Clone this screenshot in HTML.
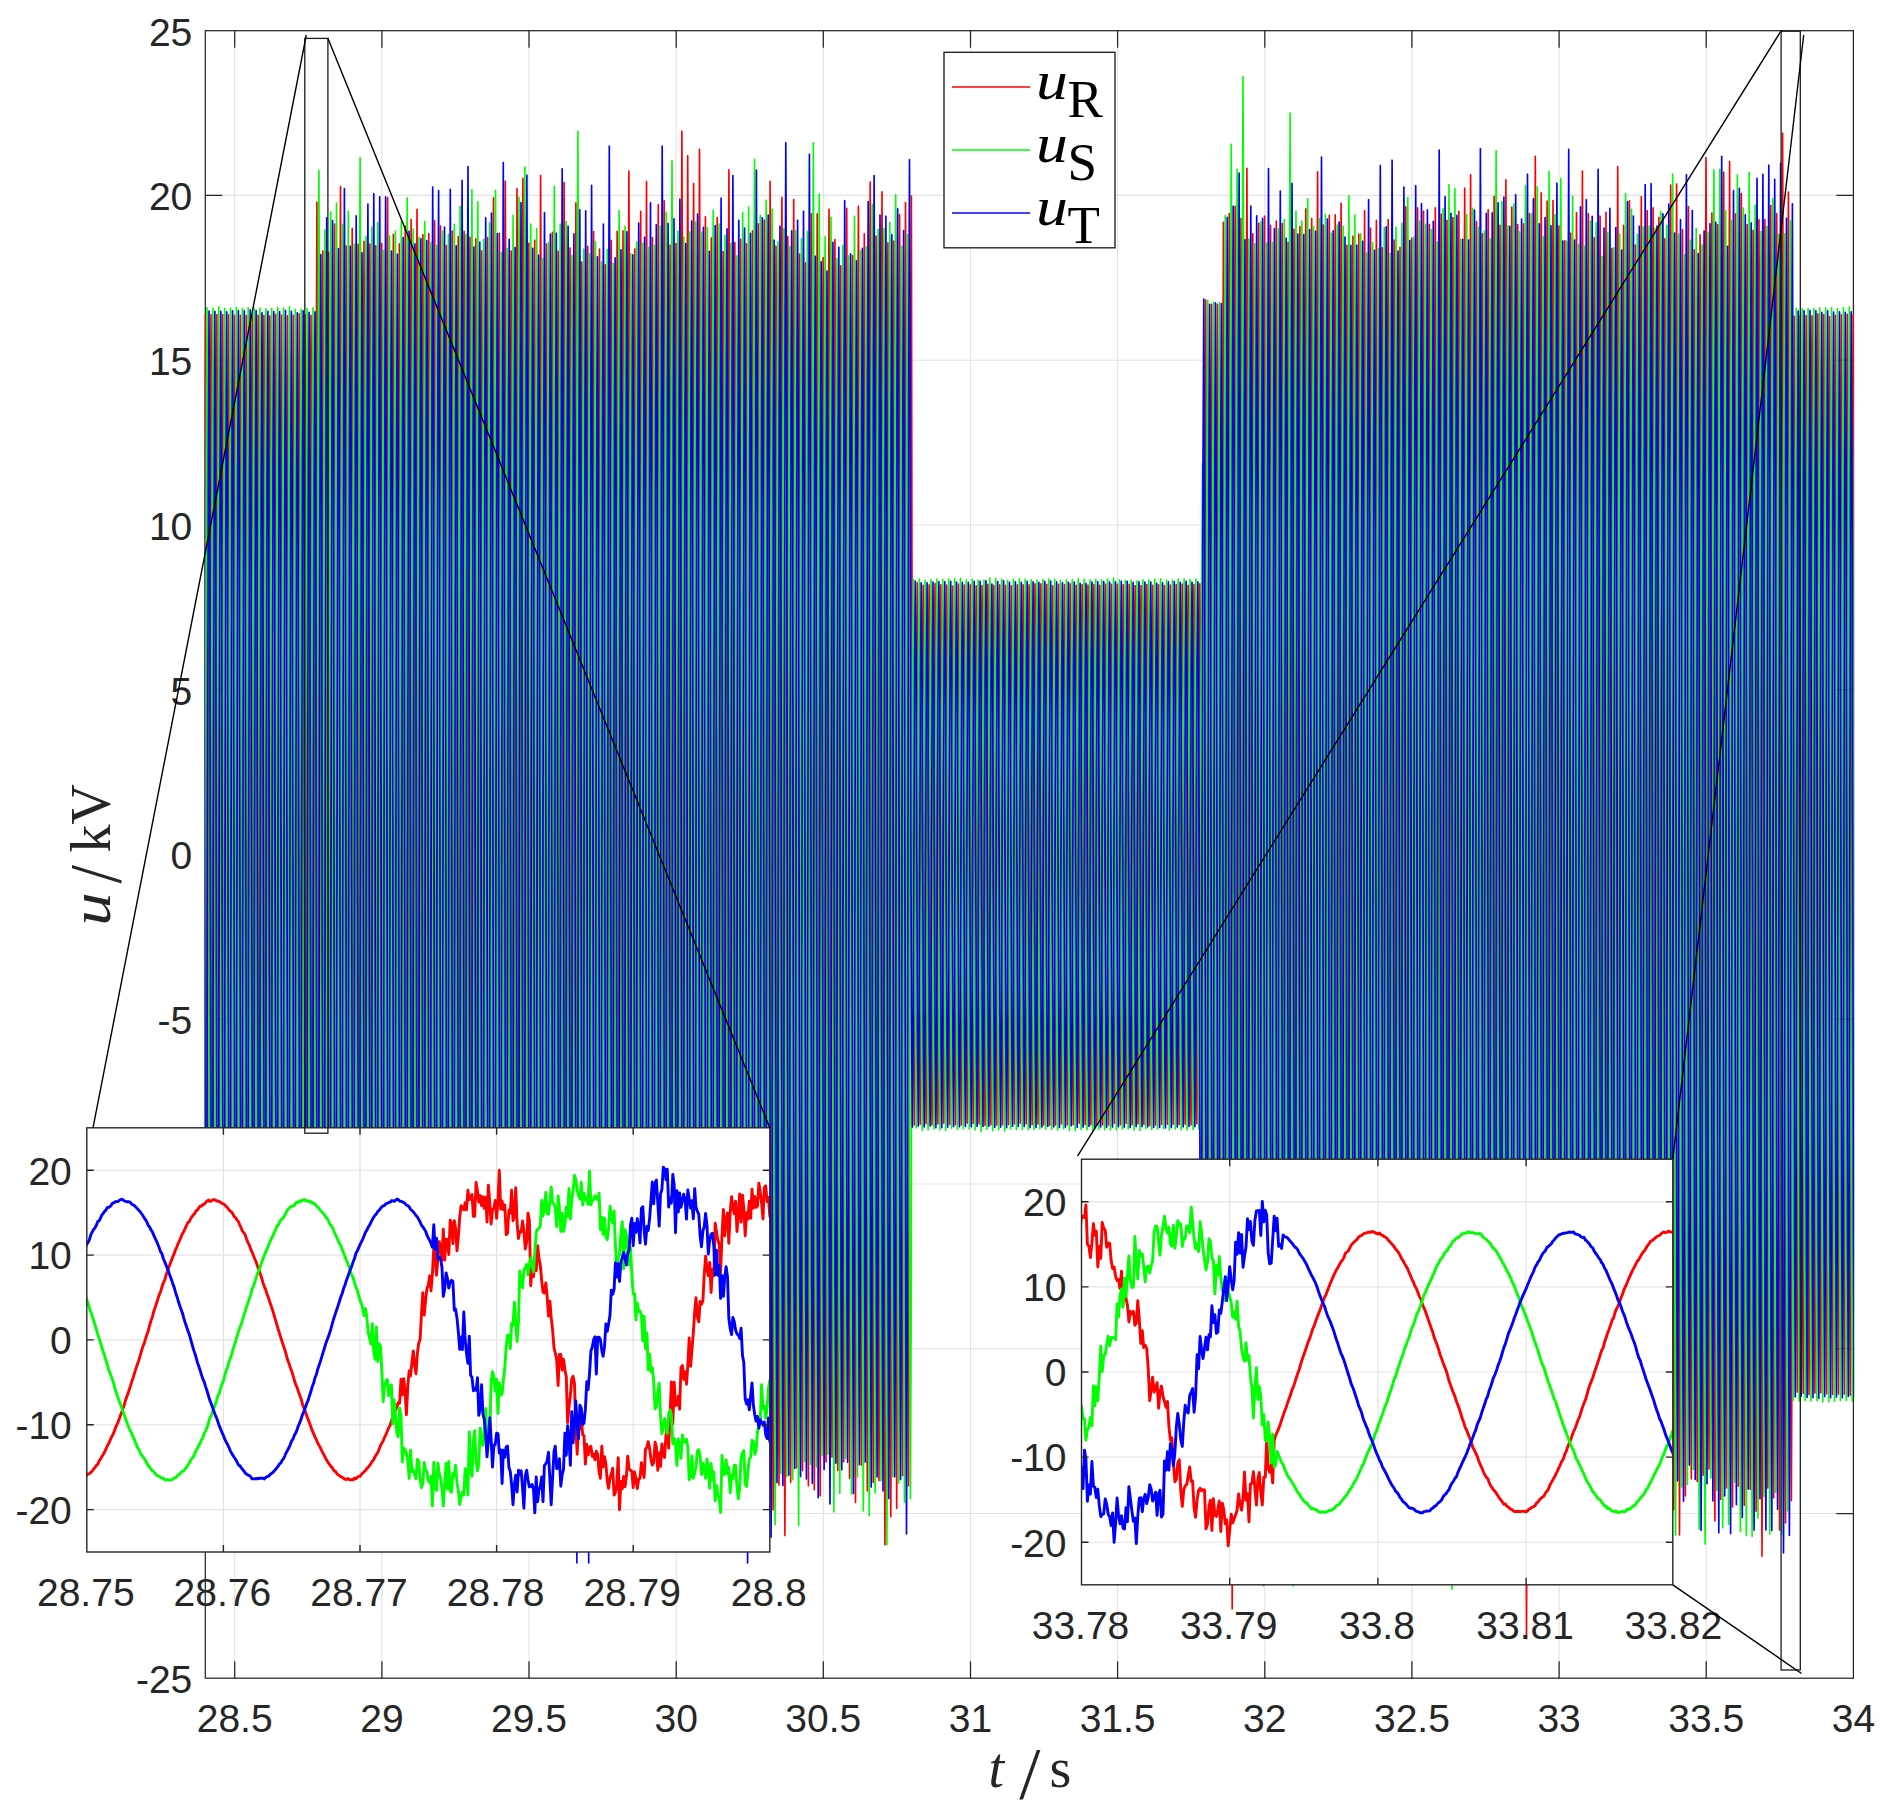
<!DOCTYPE html>
<html><head><meta charset="utf-8"><title>u / kV over t / s</title>
<style>html,body{margin:0;padding:0;background:#fff}svg{display:block}</style></head>
<body>
<svg width="1892" height="1820" viewBox="0 0 1892 1820">
<defs>
<clipPath id="cm"><rect x="204.5" y="30.7" width="1649.7" height="1647.5"/></clipPath>
</defs>
<rect width="1892" height="1820" fill="#fff"/>
<path d="M234.7 30.7V1678.2M381.9 30.7V1678.2M529.0 30.7V1678.2M676.2 30.7V1678.2M823.3 30.7V1678.2M970.5 30.7V1678.2M1117.6 30.7V1678.2M1264.8 30.7V1678.2M1411.9 30.7V1678.2M1559.1 30.7V1678.2M1706.2 30.7V1678.2M205.3 1513.5H1853.4M205.3 1348.7H1853.4M205.3 1184.0H1853.4M205.3 1019.2H1853.4M205.3 854.5H1853.4M205.3 689.7H1853.4M205.3 525.0H1853.4M205.3 360.2H1853.4M205.3 195.4H1853.4" stroke="#e3e3e3" stroke-width="1.15" fill="none"/>
<path d="M234.7 1678.2v-17M234.7 30.7v17M381.9 1678.2v-17M381.9 30.7v17M529.0 1678.2v-17M529.0 30.7v17M676.2 1678.2v-17M676.2 30.7v17M823.3 1678.2v-17M823.3 30.7v17M970.5 1678.2v-17M970.5 30.7v17M1117.6 1678.2v-17M1117.6 30.7v17M1264.8 1678.2v-17M1264.8 30.7v17M1411.9 1678.2v-17M1411.9 30.7v17M1559.1 1678.2v-17M1559.1 30.7v17M1706.2 1678.2v-17M1706.2 30.7v17M205.3 1513.5h17M1853.4 1513.5h-17M205.3 1348.7h17M1853.4 1348.7h-17M205.3 1184.0h17M1853.4 1184.0h-17M205.3 1019.2h17M1853.4 1019.2h-17M205.3 854.5h17M1853.4 854.5h-17M205.3 689.7h17M1853.4 689.7h-17M205.3 525.0h17M1853.4 525.0h-17M205.3 360.2h17M1853.4 360.2h-17M205.3 195.4h17M1853.4 195.4h-17" stroke="#262626" stroke-width="1.25" fill="none"/>
<rect x="205.3" y="30.7" width="1648.1" height="1647.5" fill="none" stroke="#262626" stroke-width="1.25"/>
<g clip-path="url(#cm)" fill="none" stroke-linejoin="round">
<path d="M199.2 314.7L199.9 472.8L200.7 854.3L201.4 1235.9L202.1 1394.0L202.9 1236.0L203.6 854.5L204.3 473.1L205.1 315.1L205.8 472.9L206.6 853.7L207.3 1234.6L208.0 1392.3L208.8 1234.5L209.5 853.5L210.2 472.6L211.0 314.8L211.7 472.6L212.4 853.6L213.2 1234.6L213.9 1392.4L214.6 1234.6L215.4 853.4L216.1 472.3L216.9 314.5L217.6 472.6L218.3 854.3L219.1 1236.1L219.8 1394.2L220.5 1236.1L221.3 854.4L222.0 472.6L222.7 314.5L223.5 472.7L224.2 854.4L224.9 1236.2L225.7 1394.4L226.4 1236.3L227.2 854.6L227.9 473.0L228.6 314.9L229.4 472.8L230.1 854.2L230.8 1235.5L231.6 1393.5L232.3 1235.6L233.0 854.4L233.8 473.2L234.5 315.3L235.3 473.4L236.0 855.0L236.7 1236.7L237.5 1394.8L238.2 1236.8L238.9 855.1L239.7 473.5L240.4 315.4L241.1 473.3L241.9 854.6L242.6 1235.8L243.3 1393.7L244.1 1235.8L244.8 854.6L245.6 473.4L246.3 315.5L247.0 473.4L247.8 854.5L248.5 1235.6L249.2 1393.5L250.0 1235.6L250.7 854.4L251.4 473.2L252.2 315.3L252.9 473.2L253.6 854.6L254.4 1236.0L255.1 1394.0L255.9 1236.0L256.6 854.6L257.3 473.2L258.1 315.3L258.8 473.2L259.5 854.4L260.3 1235.7L261.0 1393.6L261.7 1235.7L262.5 854.5L263.2 473.4L263.9 315.5L264.7 473.4L265.4 854.7L266.2 1236.0L266.9 1393.9L267.6 1236.0L268.4 854.9L269.1 473.8L269.8 315.9L270.6 473.8L271.3 854.9L272.0 1236.0L272.8 1393.9L273.5 1235.8L274.2 854.0L275.0 472.3L275.7 314.2L276.5 472.2L277.2 853.8L277.9 1235.3L278.7 1393.3L279.4 1235.4L280.1 854.2L280.9 473.0L281.6 315.1L282.3 473.3L283.1 855.4L283.8 1237.4L284.5 1395.7L285.3 1237.5L286.0 855.7L286.8 473.9L287.5 315.7L288.2 473.4L289.0 854.2L289.7 1235.0L290.4 1392.8L291.2 1235.0L291.9 854.1L292.6 473.1L293.4 315.3L294.1 473.5L294.8 855.2L295.6 1236.9L296.3 1395.0L297.1 1236.7L297.8 854.4L298.5 472.1L299.3 313.7L300.0 471.8L300.7 853.4L301.5 1235.0L302.2 1393.0L302.9 1235.1L303.7 853.9L304.4 472.6L305.1 314.7L305.9 472.7L306.6 854.3L307.4 1235.8L308.1 1393.8L308.8 1235.9L309.6 854.6L310.3 473.4L311.0 315.4L311.8 473.2L312.5 854.0L313.2 1234.8L314.0 1392.6L314.7 1235.0L315.4 854.5L316.2 393.2L316.9 202.1L317.7 390.4L318.4 845.0L319.1 1299.6L319.9 1487.9L320.6 1306.7L321.3 869.4L322.1 432.1L322.8 251.0L323.5 429.1L324.3 859.2L325.0 1289.3L325.7 1467.4L326.5 1289.5L327.2 859.9L328.0 430.3L328.7 252.4L329.4 434.9L330.2 875.4L330.9 1316.0L331.6 1498.5L332.4 1311.8L333.1 861.2L333.8 410.6L334.6 224.0L335.3 413.0L336.0 869.4L336.8 1325.8L337.5 1514.9L338.3 1320.3L339.0 850.7L339.7 381.1L340.5 186.6L341.2 377.5L341.9 838.5L342.7 1299.5L343.4 1490.4L344.1 1308.2L344.9 868.2L345.6 428.2L346.3 246.0L347.1 427.0L347.8 864.0L348.6 1300.9L349.3 1481.9L350.0 1298.3L350.8 855.1L351.5 411.9L352.2 228.3L353.0 412.8L353.7 858.2L354.4 1303.6L355.2 1488.1L355.9 1305.9L356.7 866.2L357.4 426.5L358.1 244.3L358.9 434.2L359.6 892.7L360.3 1351.1L361.1 1541.0L361.8 1350.7L362.5 891.2L363.3 431.6L364.0 241.3L364.7 422.5L365.5 860.1L366.2 1297.6L367.0 1478.9L367.7 1298.0L368.4 861.4L369.2 424.8L369.9 244.0L370.6 427.5L371.4 870.6L372.1 1313.8L372.8 1497.3L373.6 1314.0L374.3 871.6L375.0 429.1L375.8 245.8L376.5 426.4L377.3 862.4L378.0 1298.4L378.7 1479.0L379.5 1298.1L380.2 861.3L380.9 424.5L381.7 243.5L382.4 425.5L383.1 865.0L383.9 1304.4L384.6 1486.4L385.3 1297.7L386.1 842.0L386.8 386.3L387.6 197.5L388.3 387.9L389.0 847.4L389.8 1307.0L390.5 1497.3L391.2 1312.4L392.0 865.8L392.7 419.3L393.4 234.3L394.2 415.7L394.9 853.5L395.6 1291.3L396.4 1472.7L397.1 1292.7L397.9 858.3L398.6 423.9L399.3 243.9L400.1 428.4L400.8 873.8L401.5 1319.3L402.3 1503.7L403.0 1316.6L403.7 864.9L404.5 413.1L405.2 226.0L405.9 410.6L406.7 856.4L407.4 1302.2L408.2 1486.8L408.9 1301.2L409.6 853.2L410.4 405.2L411.1 219.6L411.8 406.7L412.6 858.3L413.3 1310.0L414.0 1497.0L414.8 1308.5L415.5 853.2L416.2 397.9L417.0 209.3L417.7 397.3L418.5 851.2L419.2 1305.1L419.9 1493.1L420.7 1308.8L421.4 863.9L422.1 419.0L422.9 234.7L423.6 417.8L424.3 859.9L425.1 1302.1L425.8 1485.2L426.5 1301.9L427.3 859.3L428.0 416.8L428.8 233.5L429.5 419.8L430.2 869.6L431.0 1319.4L431.7 1505.8L432.4 1317.6L433.2 863.3L433.9 409.0L434.6 220.8L435.4 407.6L436.1 858.7L436.8 1309.8L437.6 1496.6L438.3 1310.5L439.1 861.3L439.8 412.1L440.5 226.0L441.3 414.7L442.0 870.1L442.7 1325.4L443.5 1514.1L444.2 1328.3L444.9 879.9L445.7 431.4L446.4 245.6L447.1 434.9L447.9 891.8L448.6 1348.8L449.4 1538.0L450.1 1346.6L450.8 884.6L451.6 422.6L452.3 231.2L453.0 417.7L453.8 868.0L454.5 1318.4L455.2 1504.9L456.0 1319.1L456.7 870.7L457.4 422.3L458.2 236.6L458.9 419.9L459.7 862.5L460.4 1305.2L461.1 1488.5L461.9 1304.4L462.6 859.8L463.3 415.3L464.1 231.2L464.8 422.4L465.5 884.1L466.3 1345.7L467.0 1537.0L467.8 1346.7L468.5 887.2L469.2 427.7L470.0 237.3L470.7 418.3L471.4 855.3L472.2 1292.3L472.9 1473.3L473.6 1292.5L474.4 856.1L475.1 419.6L475.8 238.9L476.6 429.5L477.3 889.8L478.1 1350.0L478.8 1540.6L479.5 1351.8L480.3 895.7L481.0 439.7L481.7 250.8L482.5 440.3L483.2 897.8L483.9 1355.3L484.7 1544.8L485.4 1353.3L486.1 891.2L486.9 429.0L487.6 237.6L488.4 416.0L489.1 846.8L489.8 1277.5L490.6 1456.0L491.3 1271.7L492.0 826.9L492.8 382.1L493.5 197.9L494.2 387.4L495.0 844.9L495.7 1302.4L496.4 1491.9L497.2 1307.6L497.9 862.6L498.7 417.6L499.4 233.2L500.1 413.0L500.9 847.0L501.6 1281.0L502.3 1460.7L503.1 1273.3L503.8 821.0L504.5 368.7L505.3 181.3L506.0 369.8L506.7 824.8L507.5 1279.8L508.2 1468.2L509.0 1290.0L509.7 859.7L510.4 429.4L511.2 251.1L511.9 432.1L512.6 869.1L513.4 1306.0L514.1 1487.0L514.8 1296.8L515.6 837.8L516.3 378.8L517.0 188.7L517.8 382.3L518.5 849.8L519.3 1317.2L520.0 1510.9L520.7 1315.7L521.5 844.6L522.2 373.5L522.9 178.4L523.7 368.2L524.4 826.4L525.1 1284.6L525.9 1474.4L526.6 1294.2L527.3 858.9L528.1 423.6L528.8 243.3L529.6 421.8L530.3 852.8L531.0 1283.7L531.8 1462.2L532.5 1283.3L533.2 851.2L534.0 419.2L534.7 240.2L535.4 424.0L536.2 867.5L536.9 1311.0L537.6 1494.7L538.4 1301.6L539.1 835.2L539.9 368.8L540.6 175.6L541.3 371.5L542.1 844.4L542.8 1317.3L543.5 1513.2L544.3 1327.4L545.0 878.6L545.7 429.9L546.5 244.1L547.2 426.7L547.9 867.5L548.7 1308.3L549.4 1490.9L550.2 1306.6L550.9 861.6L551.6 416.7L552.4 232.4L553.1 416.7L553.8 861.4L554.6 1306.2L555.3 1490.5L556.0 1309.0L556.8 870.9L557.5 432.8L558.2 251.4L559.0 433.3L559.7 872.6L560.5 1311.8L561.2 1493.7L561.9 1301.7L562.7 838.1L563.4 374.5L564.1 182.5L564.9 380.2L565.6 857.4L566.3 1334.6L567.1 1532.3L567.8 1344.2L568.5 890.1L569.3 436.1L570.0 248.0L570.8 429.3L571.5 867.1L572.2 1304.9L573.0 1486.2L573.7 1298.3L574.4 844.6L575.2 390.9L575.9 202.9L576.6 390.5L577.4 843.2L578.1 1296.0L578.8 1483.5L579.6 1304.6L580.3 872.7L581.1 440.8L581.8 262.0L582.5 441.0L583.3 873.3L584.0 1305.5L584.7 1484.6L585.5 1303.3L586.2 865.5L586.9 427.7L587.7 246.4L588.4 425.0L589.2 855.9L589.9 1286.9L590.6 1465.5L591.4 1284.8L592.1 848.5L592.8 412.2L593.6 231.5L594.3 417.6L595.0 866.9L595.8 1316.2L596.5 1502.3L597.2 1318.8L598.0 875.7L598.7 432.6L599.5 249.0L600.2 428.9L600.9 863.3L601.7 1297.6L602.4 1477.5L603.1 1299.9L603.9 871.1L604.6 442.3L605.3 264.7L606.1 440.2L606.8 864.1L607.5 1287.9L608.3 1463.5L609.0 1284.3L609.8 851.9L610.5 419.5L611.2 240.4L612.0 421.3L612.7 858.3L613.4 1295.2L614.2 1476.2L614.9 1293.9L615.6 853.8L616.4 413.7L617.1 231.4L617.8 412.4L618.6 849.3L619.3 1286.3L620.1 1467.2L620.8 1286.2L621.5 849.1L622.3 412.0L623.0 230.9L623.7 416.5L624.5 864.6L625.2 1312.7L625.9 1498.3L626.7 1304.0L627.4 834.7L628.1 365.4L628.9 171.0L629.6 366.6L630.4 838.8L631.1 1311.0L631.8 1506.6L632.6 1322.4L633.3 877.8L634.0 433.2L634.8 249.1L635.5 432.1L636.2 873.8L637.0 1315.6L637.7 1498.6L638.4 1310.1L639.2 855.0L639.9 399.9L640.7 211.4L641.4 405.9L642.1 875.6L642.9 1345.3L643.6 1539.8L644.3 1340.9L645.1 860.7L645.8 380.5L646.5 181.6L647.3 376.7L648.0 847.9L648.7 1319.1L649.5 1514.3L650.2 1327.3L651.0 876.0L651.7 424.6L652.4 237.6L653.2 418.1L653.9 853.6L654.6 1289.2L655.4 1469.7L656.1 1284.4L656.8 837.1L657.6 389.8L658.3 204.6L659.0 391.2L659.8 841.7L660.5 1292.1L661.3 1478.7L662.0 1291.6L662.7 839.8L663.5 388.0L664.2 200.9L664.9 395.5L665.7 865.5L666.4 1335.4L667.1 1530.1L667.9 1341.9L668.6 887.5L669.3 433.2L670.1 245.0L670.8 425.1L671.6 860.0L672.3 1294.9L673.0 1475.0L673.8 1294.7L674.5 859.3L675.2 423.9L676.0 243.6L676.7 427.3L677.4 871.0L678.2 1314.7L678.9 1498.5L679.6 1298.3L680.4 814.9L681.1 331.4L681.9 131.2L682.6 333.7L683.3 822.4L684.1 1311.2L684.8 1513.7L685.5 1314.8L686.3 834.8L687.0 354.7L687.7 155.9L688.5 353.5L689.2 830.6L689.9 1307.6L690.7 1505.3L691.4 1311.7L692.2 844.4L692.9 377.1L693.6 183.6L694.4 372.8L695.1 829.6L695.8 1286.3L696.6 1475.6L697.3 1281.3L698.0 812.4L698.8 343.5L699.5 149.3L700.2 348.3L701.0 828.7L701.7 1309.1L702.5 1508.1L703.2 1319.0L703.9 862.4L704.7 405.8L705.4 216.7L706.1 407.7L706.9 868.9L707.6 1330.1L708.3 1521.2L709.1 1333.2L709.8 879.5L710.6 425.7L711.3 237.8L712.0 420.4L712.8 861.2L713.5 1302.0L714.2 1484.6L715.0 1299.1L715.7 851.1L716.4 403.1L717.2 217.6L717.9 405.8L718.6 860.2L719.4 1314.6L720.1 1502.8L720.9 1319.5L721.6 877.2L722.3 434.8L723.1 251.5L723.8 429.5L724.5 859.2L725.3 1288.8L726.0 1466.8L726.7 1276.9L727.5 818.3L728.2 359.8L728.9 169.9L729.7 365.6L730.4 838.1L731.2 1310.7L731.9 1506.4L732.6 1321.3L733.4 874.5L734.1 427.6L734.8 242.5L735.6 432.6L736.3 891.3L737.0 1350.0L737.8 1540.0L738.5 1349.5L739.2 889.7L740.0 429.9L740.7 239.4L741.5 424.4L742.2 871.0L742.9 1317.6L743.7 1502.6L744.4 1318.2L745.1 873.2L745.9 428.2L746.6 243.8L747.3 428.7L748.1 874.9L748.8 1321.1L749.5 1505.9L750.3 1319.1L751.0 868.4L751.8 417.6L752.5 230.8L753.2 417.7L754.0 869.0L754.7 1320.2L755.4 1507.1L756.2 1319.2L756.9 865.5L757.6 411.9L758.4 223.9L759.1 414.5L759.8 874.6L760.6 1334.6L761.3 1525.2L762.1 1334.1L762.8 872.7L763.5 411.2L764.3 220.1L765.0 410.7L765.7 870.6L766.5 1330.6L767.2 1521.1L767.9 1324.9L768.7 851.2L769.4 377.5L770.1 181.3L770.9 375.9L771.6 845.6L772.4 1315.4L773.1 1509.9L773.8 1324.9L774.6 878.1L775.3 431.3L776.0 246.2L776.8 427.6L777.5 865.7L778.2 1303.7L779.0 1485.1L779.7 1296.5L780.4 841.2L781.2 385.9L781.9 197.4L782.7 393.3L783.4 866.5L784.1 1339.6L784.9 1535.6L785.6 1345.4L786.3 886.2L787.1 427.0L787.8 236.7L788.5 419.2L789.3 859.5L790.0 1299.9L790.7 1482.3L791.5 1294.4L792.2 840.9L793.0 387.4L793.7 199.5L794.4 385.2L795.2 833.7L795.9 1282.1L796.6 1467.8L797.4 1290.1L798.1 860.9L798.8 431.8L799.6 254.0L800.3 432.2L801.0 862.3L801.8 1292.4L802.5 1470.6L803.3 1293.7L804.0 866.8L804.7 439.8L805.5 262.9L806.2 442.0L806.9 874.3L807.7 1306.7L808.4 1485.8L809.1 1299.5L809.9 849.8L810.6 400.0L811.3 213.7L812.1 400.6L812.8 851.8L813.6 1303.0L814.3 1489.8L815.0 1303.0L815.8 851.8L816.5 400.7L817.2 213.8L818.0 401.6L818.7 854.8L819.4 1308.1L820.2 1495.8L820.9 1314.5L821.7 876.7L822.4 439.0L823.1 257.6L823.9 434.0L824.6 859.8L825.3 1285.7L826.1 1462.0L826.8 1278.6L827.5 835.7L828.3 392.8L829.0 209.3L829.7 392.0L830.5 833.2L831.2 1274.4L832.0 1457.1L832.7 1278.8L833.4 848.3L834.2 417.9L834.9 239.6L835.6 419.8L836.4 855.1L837.1 1290.4L837.8 1470.6L838.6 1294.2L839.3 868.2L840.0 442.2L840.8 265.7L841.5 440.9L842.3 863.8L843.0 1286.6L843.7 1461.8L844.5 1278.2L845.2 835.1L845.9 391.9L846.7 208.3L847.4 394.3L848.1 843.3L848.9 1292.3L849.6 1478.3L850.3 1299.3L851.1 867.0L851.8 434.7L852.6 255.6L853.3 438.2L854.0 879.0L854.8 1319.9L855.5 1502.5L856.2 1312.6L857.0 854.3L857.7 396.1L858.4 206.2L859.2 390.6L859.9 835.7L860.6 1280.8L861.4 1465.2L862.1 1284.9L862.9 849.5L863.6 414.2L864.3 233.9L865.1 418.0L865.8 862.4L866.5 1306.9L867.3 1490.9L868.0 1299.3L868.7 836.5L869.5 373.7L870.2 182.0L870.9 372.5L871.7 832.3L872.4 1292.0L873.2 1482.5L873.9 1300.0L874.6 859.3L875.4 418.6L876.1 236.1L876.8 418.3L877.6 858.3L878.3 1298.3L879.0 1480.6L879.8 1291.9L880.5 836.2L881.2 380.6L882.0 191.9L882.7 390.0L883.5 868.3L884.2 1346.6L884.9 1544.8L885.7 1354.1L886.4 893.8L887.1 433.5L887.9 242.9L888.6 429.4L889.3 879.8L890.1 1330.2L890.8 1516.8L891.5 1329.9L892.3 878.9L893.0 427.9L893.8 241.1L894.5 426.7L895.2 874.8L896.0 1322.8L896.7 1508.4L897.4 1318.9L898.2 861.4L898.9 404.0L899.6 214.5L900.4 399.2L901.1 845.1L901.8 1291.0L902.6 1475.6L903.3 1289.2L904.1 839.1L904.8 389.0L905.5 202.6L906.3 390.5L907.0 844.2L907.7 1297.9L908.5 1485.8L909.2 1297.0L909.9 841.0L910.7 385.0L911.4 196.1L912.1 663.1L912.9 854.5L913.6 1045.8L914.4 1125.1L915.1 1045.7L915.8 854.0L916.6 662.3L917.3 582.9L918.0 662.2L918.8 853.6L919.5 1045.0L920.2 1124.2L921.0 1045.3L921.7 854.8L922.4 664.2L923.2 585.3L923.9 664.2L924.7 854.6L925.4 1045.0L926.1 1123.8L926.9 1044.9L927.6 854.3L928.3 663.8L929.1 584.9L929.8 663.9L930.5 854.9L931.3 1045.8L932.0 1124.9L932.7 1045.6L933.5 854.2L934.2 662.8L935.0 583.5L935.7 662.6L936.4 853.7L937.2 1044.8L937.9 1124.0L938.6 1045.0L939.4 854.4L940.1 663.8L940.8 584.8L941.6 663.7L942.3 854.1L943.1 1044.5L943.8 1123.3L944.5 1044.5L945.3 854.2L946.0 663.8L946.7 585.0L947.5 664.0L948.2 854.8L948.9 1045.5L949.7 1124.5L950.4 1045.7L951.1 855.3L951.9 664.9L952.6 586.0L953.4 664.9L954.1 855.3L954.8 1045.8L955.6 1124.7L956.3 1045.5L957.0 854.4L957.8 663.3L958.5 584.1L959.2 663.3L960.0 854.6L960.7 1045.8L961.4 1125.0L962.2 1045.9L962.9 855.0L963.7 664.1L964.4 585.0L965.1 663.9L965.9 854.1L966.6 1044.4L967.3 1123.2L968.1 1044.4L968.8 854.0L969.5 663.7L970.3 584.9L971.0 663.7L971.7 854.2L972.5 1044.7L973.2 1123.5L974.0 1044.8L974.7 854.7L975.4 664.6L976.2 585.8L976.9 664.6L977.6 854.8L978.4 1045.0L979.1 1123.7L979.8 1044.9L980.6 854.7L981.3 664.4L982.0 585.6L982.8 664.7L983.5 855.5L984.3 1046.4L985.0 1125.5L985.7 1046.2L986.5 854.8L987.2 663.5L987.9 584.2L988.7 663.4L989.4 854.5L990.1 1045.6L990.9 1124.8L991.6 1045.8L992.3 855.1L993.1 664.4L993.8 585.4L994.6 664.4L995.3 855.3L996.0 1046.1L996.8 1125.1L997.5 1046.0L998.2 855.0L999.0 664.0L999.7 584.9L1000.4 664.0L1001.2 854.9L1001.9 1045.7L1002.6 1124.8L1003.4 1045.8L1004.1 855.1L1004.9 664.3L1005.6 585.3L1006.3 664.3L1007.1 855.0L1007.8 1045.7L1008.5 1124.6L1009.3 1045.7L1010.0 855.2L1010.7 664.7L1011.5 585.8L1012.2 664.6L1012.9 854.9L1013.7 1045.3L1014.4 1124.1L1015.2 1045.1L1015.9 854.5L1016.6 663.8L1017.4 584.8L1018.1 663.7L1018.8 854.1L1019.6 1044.5L1020.3 1123.3L1021.0 1044.4L1021.8 854.0L1022.5 663.5L1023.2 584.7L1024.0 663.6L1024.7 854.3L1025.5 1044.9L1026.2 1123.9L1026.9 1044.9L1027.7 854.4L1028.4 663.9L1029.1 584.9L1029.9 664.0L1030.6 854.8L1031.3 1045.7L1032.1 1124.7L1032.8 1045.5L1033.5 854.3L1034.3 663.0L1035.0 583.8L1035.8 662.9L1036.5 854.0L1037.2 1045.0L1038.0 1124.1L1038.7 1045.0L1039.4 854.0L1040.2 662.9L1040.9 583.8L1041.6 663.1L1042.4 854.4L1043.1 1045.7L1043.8 1124.9L1044.6 1045.7L1045.3 854.5L1046.1 663.4L1046.8 584.2L1047.5 663.4L1048.3 854.7L1049.0 1046.0L1049.7 1125.3L1050.5 1046.2L1051.2 855.5L1051.9 664.7L1052.7 585.7L1053.4 664.7L1054.1 855.4L1054.9 1046.1L1055.6 1125.1L1056.4 1045.9L1057.1 854.8L1057.8 663.6L1058.6 584.4L1059.3 663.4L1060.0 854.2L1060.8 1045.0L1061.5 1124.0L1062.2 1045.0L1063.0 854.4L1063.7 663.7L1064.5 584.8L1065.2 663.9L1065.9 854.8L1066.7 1045.8L1067.4 1124.9L1068.1 1045.7L1068.9 854.4L1069.6 663.1L1070.3 583.9L1071.1 663.1L1071.8 854.3L1072.5 1045.5L1073.3 1124.7L1074.0 1045.7L1074.8 855.1L1075.5 664.4L1076.2 585.4L1077.0 664.2L1077.7 854.4L1078.4 1044.5L1079.2 1123.3L1079.9 1044.4L1080.6 854.0L1081.4 663.5L1082.1 584.6L1082.8 663.7L1083.6 854.6L1084.3 1045.6L1085.1 1124.7L1085.8 1045.6L1086.5 854.9L1087.3 664.1L1088.0 585.1L1088.7 664.2L1089.5 855.0L1090.2 1045.8L1090.9 1124.8L1091.7 1045.7L1092.4 854.5L1093.1 663.4L1093.9 584.3L1094.6 663.4L1095.4 854.4L1096.1 1045.4L1096.8 1124.6L1097.6 1045.6L1098.3 854.9L1099.0 664.2L1099.8 585.2L1100.5 664.2L1101.2 855.1L1102.0 1046.0L1102.7 1125.1L1103.4 1045.8L1104.2 854.5L1104.9 663.3L1105.7 584.0L1106.4 663.3L1107.1 854.6L1107.9 1045.9L1108.6 1125.1L1109.3 1045.9L1110.1 854.8L1110.8 663.6L1111.5 584.4L1112.3 663.3L1113.0 853.9L1113.7 1044.5L1114.5 1123.4L1115.2 1044.5L1116.0 853.9L1116.7 663.3L1117.4 584.4L1118.2 663.6L1118.9 854.6L1119.6 1045.7L1120.4 1124.8L1121.1 1045.7L1121.8 854.8L1122.6 663.8L1123.3 584.8L1124.0 663.6L1124.8 854.1L1125.5 1044.6L1126.3 1123.5L1127.0 1044.5L1127.7 853.9L1128.5 663.3L1129.2 584.3L1129.9 663.4L1130.7 854.5L1131.4 1045.5L1132.1 1124.7L1132.9 1045.7L1133.6 855.1L1134.3 664.4L1135.1 585.5L1135.8 664.3L1136.6 854.6L1137.3 1044.9L1138.0 1123.8L1138.8 1045.0L1139.5 854.7L1140.2 664.4L1141.0 585.6L1141.7 664.5L1142.4 855.0L1143.2 1045.5L1143.9 1124.4L1144.6 1045.4L1145.4 854.5L1146.1 663.6L1146.9 584.5L1147.6 663.8L1148.3 855.0L1149.1 1046.2L1149.8 1125.4L1150.5 1046.3L1151.3 855.3L1152.0 664.4L1152.7 585.3L1153.5 664.3L1154.2 855.2L1154.9 1046.0L1155.7 1125.1L1156.4 1046.0L1157.2 855.0L1157.9 663.9L1158.6 584.8L1159.4 663.8L1160.1 854.6L1160.8 1045.4L1161.6 1124.4L1162.3 1045.5L1163.0 854.9L1163.8 664.4L1164.5 585.5L1165.2 664.4L1166.0 854.9L1166.7 1045.3L1167.5 1124.2L1168.2 1045.3L1168.9 854.6L1169.7 664.0L1170.4 585.0L1171.1 664.0L1171.9 854.6L1172.6 1045.2L1173.3 1124.2L1174.1 1045.1L1174.8 854.4L1175.6 663.6L1176.3 584.5L1177.0 663.6L1177.8 854.5L1178.5 1045.5L1179.2 1124.5L1180.0 1045.4L1180.7 854.3L1181.4 663.3L1182.2 584.1L1182.9 663.2L1183.6 854.2L1184.4 1045.1L1185.1 1124.2L1185.9 1045.3L1186.6 854.7L1187.3 664.2L1188.1 585.3L1188.8 664.3L1189.5 855.1L1190.3 1045.9L1191.0 1124.9L1191.7 1045.8L1192.5 854.8L1193.2 663.7L1193.9 584.6L1194.7 663.6L1195.4 854.2L1196.2 1044.9L1196.9 1123.8L1197.6 1044.7L1198.4 853.8L1199.1 662.9L1199.8 583.8L1200.6 663.0L1201.3 854.5L1202.0 1246.7L1202.8 1409.1L1203.5 1246.7L1204.2 854.6L1205.0 462.5L1205.7 300.0L1206.5 461.7L1207.2 852.0L1207.9 1242.2L1208.7 1403.9L1209.4 1242.9L1210.1 854.1L1210.9 465.3L1211.6 304.2L1212.3 465.9L1213.1 856.1L1213.8 1246.4L1214.5 1408.0L1215.3 1246.4L1216.0 856.2L1216.8 466.0L1217.5 304.4L1218.2 465.3L1219.0 853.9L1219.7 1242.5L1220.4 1403.5L1221.2 1242.7L1221.9 854.5L1222.6 466.2L1223.4 222.3L1224.1 410.6L1224.8 865.0L1225.6 1319.5L1226.3 1507.7L1227.1 1318.2L1227.8 860.6L1228.5 403.0L1229.3 213.5L1230.0 417.9L1230.7 911.3L1231.5 1404.6L1232.2 1609.0L1232.9 1403.6L1233.7 907.7L1234.4 411.7L1235.1 206.3L1235.9 395.5L1236.6 852.2L1237.4 1309.0L1238.1 1498.1L1238.8 1310.7L1239.6 858.3L1240.3 405.9L1241.0 218.5L1241.8 408.5L1242.5 867.4L1243.2 1326.2L1244.0 1516.3L1244.7 1318.9L1245.4 842.3L1246.2 365.7L1246.9 168.3L1247.7 367.9L1248.4 849.9L1249.1 1331.9L1249.9 1531.5L1250.6 1341.5L1251.3 882.7L1252.1 423.9L1252.8 233.9L1253.5 419.6L1254.3 867.9L1255.0 1316.2L1255.7 1501.9L1256.5 1314.7L1257.2 862.6L1258.0 410.5L1258.7 223.3L1259.4 415.0L1260.2 877.7L1260.9 1340.5L1261.6 1532.2L1262.4 1339.5L1263.1 874.2L1263.8 408.9L1264.6 216.2L1265.3 400.8L1266.0 846.4L1266.8 1292.0L1267.5 1476.6L1268.3 1293.4L1269.0 850.9L1269.7 408.5L1270.5 225.2L1271.2 410.7L1271.9 858.5L1272.7 1306.3L1273.4 1491.8L1274.1 1305.7L1274.9 856.4L1275.6 407.1L1276.3 221.0L1277.1 407.0L1277.8 856.0L1278.6 1305.0L1279.3 1491.0L1280.0 1305.4L1280.8 857.3L1281.5 409.2L1282.2 223.6L1283.0 407.8L1283.7 852.5L1284.4 1297.3L1285.2 1481.5L1285.9 1300.1L1286.6 862.0L1287.4 423.9L1288.1 242.4L1288.9 432.6L1289.6 891.9L1290.3 1351.1L1291.1 1541.3L1291.8 1349.2L1292.5 885.2L1293.3 421.3L1294.0 229.2L1294.7 418.5L1295.5 875.6L1296.2 1332.8L1297.0 1522.1L1297.7 1332.4L1298.4 874.3L1299.2 416.3L1299.9 226.6L1300.6 413.5L1301.4 864.6L1302.1 1315.8L1302.8 1502.7L1303.6 1313.2L1304.3 855.8L1305.0 398.3L1305.8 208.8L1306.5 397.2L1307.3 851.8L1308.0 1306.4L1308.7 1494.7L1309.5 1307.8L1310.2 856.6L1310.9 405.4L1311.7 218.5L1312.4 405.8L1313.1 858.1L1313.9 1310.3L1314.6 1497.7L1315.3 1303.5L1316.1 834.7L1316.8 366.0L1317.6 171.8L1318.3 366.4L1319.0 836.1L1319.8 1305.9L1320.5 1500.4L1321.2 1313.7L1322.0 862.8L1322.7 411.8L1323.4 225.1L1324.2 410.8L1324.9 859.3L1325.6 1307.8L1326.4 1493.6L1327.1 1306.4L1327.9 854.5L1328.6 402.6L1329.3 215.4L1330.1 403.7L1330.8 858.1L1331.5 1312.6L1332.3 1500.9L1333.0 1312.5L1333.7 857.9L1334.5 403.2L1335.2 214.8L1335.9 401.0L1336.7 850.3L1337.4 1299.6L1338.2 1485.8L1338.9 1297.9L1339.6 844.5L1340.4 391.1L1341.1 203.3L1341.8 390.1L1342.6 841.1L1343.3 1292.1L1344.0 1478.9L1344.8 1298.2L1345.5 862.0L1346.2 425.9L1347.0 245.2L1347.7 435.0L1348.5 893.3L1349.2 1351.5L1349.9 1541.3L1350.7 1350.2L1351.4 888.7L1352.1 427.3L1352.9 236.2L1353.6 417.7L1354.3 856.0L1355.1 1294.3L1355.8 1475.8L1356.5 1294.0L1357.3 855.0L1358.0 416.0L1358.8 234.2L1359.5 415.8L1360.2 854.3L1361.0 1292.8L1361.7 1474.4L1362.4 1289.4L1363.2 842.6L1363.9 395.9L1364.6 210.8L1365.4 394.8L1366.1 839.1L1366.8 1283.4L1367.6 1467.4L1368.3 1286.0L1369.1 847.8L1369.8 409.7L1370.5 228.2L1371.3 418.9L1372.0 879.3L1372.7 1339.7L1373.5 1530.4L1374.2 1338.6L1374.9 875.4L1375.7 412.3L1376.4 220.4L1377.1 402.2L1377.9 840.9L1378.6 1279.6L1379.4 1461.4L1380.1 1283.6L1380.8 854.5L1381.6 425.4L1382.3 247.7L1383.0 426.2L1383.8 857.2L1384.5 1288.3L1385.2 1466.8L1386.0 1284.2L1386.7 843.2L1387.4 402.2L1388.2 219.6L1388.9 408.1L1389.7 863.2L1390.4 1318.4L1391.1 1506.9L1391.9 1321.4L1392.6 873.5L1393.3 425.6L1394.1 240.1L1394.8 420.4L1395.5 855.7L1396.3 1291.0L1397.0 1471.3L1397.7 1292.1L1398.5 859.3L1399.2 426.5L1400.0 247.3L1400.7 430.4L1401.4 872.5L1402.2 1314.7L1402.9 1497.8L1403.6 1308.8L1404.4 852.4L1405.1 396.0L1405.8 206.9L1406.6 392.6L1407.3 840.8L1408.1 1289.0L1408.8 1474.7L1409.5 1293.6L1410.3 856.4L1411.0 419.3L1411.7 238.2L1412.5 419.5L1413.2 857.1L1413.9 1294.7L1414.7 1476.0L1415.4 1290.3L1416.1 842.0L1416.9 393.6L1417.6 207.9L1418.4 396.9L1419.1 853.3L1419.8 1309.6L1420.6 1498.6L1421.3 1310.1L1422.0 854.9L1422.8 399.8L1423.5 211.2L1424.2 399.3L1425.0 853.2L1425.7 1307.1L1426.4 1495.1L1427.2 1309.0L1427.9 859.8L1428.7 410.6L1429.4 224.5L1430.1 411.0L1430.9 861.1L1431.6 1311.3L1432.3 1497.8L1433.1 1308.9L1433.8 852.8L1434.5 396.7L1435.3 207.8L1436.0 399.9L1436.7 863.6L1437.5 1327.3L1438.2 1519.4L1439.0 1328.2L1439.7 866.7L1440.4 405.2L1441.2 214.0L1441.9 402.9L1442.6 858.8L1443.4 1314.7L1444.1 1503.5L1444.8 1315.6L1445.6 861.9L1446.3 408.2L1447.0 220.3L1447.8 405.2L1448.5 851.6L1449.3 1298.0L1450.0 1482.9L1450.7 1297.6L1451.5 850.3L1452.2 402.9L1452.9 217.6L1453.7 406.4L1454.4 862.1L1455.1 1317.8L1455.9 1506.5L1456.6 1316.8L1457.3 859.0L1458.1 401.1L1458.8 211.4L1459.6 398.8L1460.3 851.2L1461.0 1303.5L1461.8 1490.9L1462.5 1300.2L1463.2 839.6L1464.0 379.0L1464.7 188.2L1465.4 379.7L1466.2 842.0L1466.9 1304.4L1467.6 1495.9L1468.4 1302.4L1469.1 835.3L1469.9 368.2L1470.6 174.7L1471.3 365.9L1472.1 827.5L1472.8 1289.1L1473.5 1480.3L1474.3 1296.0L1475.0 851.0L1475.7 406.1L1476.5 221.7L1477.2 412.5L1477.9 873.1L1478.7 1333.6L1479.4 1524.4L1480.2 1335.4L1480.9 879.1L1481.6 422.9L1482.4 233.9L1483.1 418.9L1483.8 865.7L1484.6 1312.4L1485.3 1497.4L1486.0 1308.9L1486.8 853.7L1487.5 398.4L1488.2 209.9L1489.0 401.7L1489.7 864.9L1490.5 1328.1L1491.2 1519.9L1491.9 1326.1L1492.7 858.1L1493.4 390.1L1494.1 196.3L1494.9 384.4L1495.6 838.4L1496.3 1292.4L1497.1 1480.4L1497.8 1296.6L1498.5 852.8L1499.3 409.1L1500.0 225.2L1500.8 412.5L1501.5 864.5L1502.2 1316.5L1503.0 1503.8L1503.7 1309.9L1504.4 841.8L1505.2 373.7L1505.9 179.8L1506.6 372.2L1507.4 836.6L1508.1 1301.1L1508.8 1493.5L1509.6 1305.1L1510.3 850.3L1511.1 395.5L1511.8 207.1L1512.5 398.9L1513.3 862.0L1514.0 1325.1L1514.7 1516.9L1515.5 1327.7L1516.2 870.8L1516.9 413.8L1517.7 224.6L1518.4 408.7L1519.1 853.3L1519.9 1298.0L1520.6 1482.1L1521.4 1297.8L1522.1 853.0L1522.8 408.1L1523.6 223.8L1524.3 431.0L1525.0 931.2L1525.8 1431.5L1526.5 1638.7L1527.2 1430.0L1528.0 926.2L1528.7 422.4L1529.5 213.7L1530.2 407.7L1530.9 876.0L1531.7 1344.3L1532.4 1538.3L1533.1 1335.9L1533.9 847.3L1534.6 358.7L1535.3 156.3L1536.1 354.5L1536.8 832.9L1537.5 1311.4L1538.3 1509.6L1539.0 1316.8L1539.8 851.2L1540.5 385.7L1541.2 192.8L1542.0 387.3L1542.7 856.8L1543.4 1326.3L1544.2 1520.8L1544.9 1327.5L1545.6 861.0L1546.4 394.4L1547.1 201.1L1547.8 389.9L1548.6 845.7L1549.3 1301.5L1550.1 1490.3L1550.8 1301.5L1551.5 845.5L1552.3 389.5L1553.0 200.6L1553.7 395.9L1554.5 867.4L1555.2 1338.9L1555.9 1534.2L1556.7 1342.6L1557.4 880.1L1558.1 417.6L1558.9 226.1L1559.6 413.9L1560.4 867.2L1561.1 1320.6L1561.8 1508.4L1562.6 1322.8L1563.3 874.6L1564.0 426.4L1564.8 240.7L1565.5 429.2L1566.2 884.3L1567.0 1339.4L1567.7 1527.9L1568.4 1338.3L1569.2 880.6L1569.9 422.8L1570.7 233.2L1571.4 418.4L1572.1 865.7L1572.9 1312.9L1573.6 1498.2L1574.3 1309.9L1575.1 855.4L1575.8 400.9L1576.5 212.7L1577.3 401.2L1578.0 856.5L1578.7 1311.8L1579.5 1500.4L1580.2 1305.7L1581.0 835.7L1581.7 365.7L1582.4 171.0L1583.2 364.6L1583.9 832.0L1584.6 1299.3L1585.4 1492.9L1586.1 1305.6L1586.8 853.3L1587.6 401.1L1588.3 213.8L1589.0 396.7L1589.8 838.4L1590.5 1280.0L1591.3 1463.0L1592.0 1283.5L1592.7 850.4L1593.5 417.2L1594.2 237.7L1594.9 420.5L1595.7 861.7L1596.4 1302.9L1597.1 1485.7L1597.9 1299.8L1598.6 850.9L1599.3 402.1L1600.1 216.2L1600.8 409.0L1601.6 874.6L1602.3 1340.2L1603.0 1533.1L1603.8 1339.7L1604.5 872.7L1605.2 405.8L1606.0 212.4L1606.7 395.8L1607.4 838.6L1608.2 1281.3L1608.9 1464.7L1609.6 1286.6L1610.4 856.5L1611.1 426.5L1611.9 248.3L1612.6 432.4L1613.3 876.9L1614.1 1321.4L1614.8 1505.5L1615.5 1309.4L1616.3 836.0L1617.0 362.6L1617.7 166.5L1618.5 368.1L1619.2 854.8L1619.9 1341.4L1620.7 1543.0L1621.4 1350.0L1622.2 884.2L1622.9 418.4L1623.6 225.4L1624.4 411.5L1625.1 860.6L1625.8 1309.7L1626.6 1495.8L1627.3 1306.2L1628.0 848.4L1628.8 390.6L1629.5 200.9L1630.2 392.2L1631.0 853.8L1631.7 1315.4L1632.5 1506.6L1633.2 1321.8L1633.9 875.8L1634.7 429.8L1635.4 245.0L1636.1 430.2L1636.9 877.2L1637.6 1324.2L1638.3 1509.4L1639.1 1317.1L1639.8 853.0L1640.5 388.9L1641.3 196.7L1642.0 387.8L1642.8 849.2L1643.5 1310.6L1644.2 1501.8L1645.0 1312.7L1645.7 856.1L1646.4 399.6L1647.2 210.5L1647.9 397.6L1648.6 849.4L1649.4 1301.2L1650.1 1488.4L1650.9 1300.9L1651.6 848.2L1652.3 395.4L1653.1 207.9L1653.8 398.0L1654.5 856.8L1655.3 1315.6L1656.0 1505.6L1656.7 1316.9L1657.5 861.4L1658.2 406.0L1658.9 217.3L1659.7 404.6L1660.4 857.0L1661.2 1309.3L1661.9 1496.6L1662.6 1312.4L1663.4 867.8L1664.1 423.1L1664.8 238.9L1665.6 422.3L1666.3 865.0L1667.0 1307.7L1667.8 1491.0L1668.5 1299.8L1669.2 838.0L1670.0 376.3L1670.7 185.1L1671.5 379.0L1672.2 847.4L1672.9 1315.7L1673.7 1509.7L1674.4 1315.6L1675.1 846.8L1675.9 378.1L1676.6 184.0L1677.3 381.8L1678.1 859.5L1678.8 1337.2L1679.5 1535.0L1680.3 1343.9L1681.0 882.3L1681.8 420.8L1682.5 229.7L1683.2 415.1L1684.0 862.9L1684.7 1310.6L1685.4 1496.0L1686.2 1307.2L1686.9 851.3L1687.6 395.3L1688.4 206.5L1689.1 392.8L1689.8 842.7L1690.6 1292.6L1691.3 1479.0L1692.1 1299.0L1692.8 864.4L1693.5 429.9L1694.3 249.9L1695.0 430.2L1695.7 865.7L1696.5 1301.1L1697.2 1481.5L1697.9 1298.9L1698.7 858.2L1699.4 417.4L1700.1 234.9L1700.9 416.5L1701.6 855.1L1702.4 1293.6L1703.1 1475.3L1703.8 1282.3L1704.6 816.5L1705.3 350.7L1706.0 157.8L1706.8 349.8L1707.5 813.4L1708.2 1277.0L1709.0 1469.1L1709.7 1285.1L1710.4 841.0L1711.2 396.9L1711.9 213.0L1712.7 404.5L1713.4 866.9L1714.1 1329.4L1714.9 1520.9L1715.6 1331.0L1716.3 872.7L1717.1 414.3L1717.8 224.5L1718.5 411.2L1719.3 861.9L1720.0 1312.7L1720.7 1499.4L1721.5 1305.0L1722.2 835.8L1723.0 366.5L1723.7 172.2L1724.4 364.9L1725.2 830.1L1725.9 1295.3L1726.6 1488.0L1727.4 1293.7L1728.1 824.8L1728.8 355.8L1729.6 161.5L1730.3 358.6L1731.0 834.3L1731.8 1309.9L1732.5 1507.0L1733.3 1317.6L1734.0 860.4L1734.7 403.2L1735.5 213.8L1736.2 400.2L1736.9 850.0L1737.7 1299.9L1738.4 1486.2L1739.1 1296.9L1739.9 839.9L1740.6 382.9L1741.3 193.6L1742.1 385.7L1742.8 849.5L1743.6 1313.2L1744.3 1505.3L1745.0 1317.8L1745.8 865.0L1746.5 412.2L1747.2 224.7L1748.0 409.9L1748.7 857.1L1749.4 1304.3L1750.2 1489.5L1750.9 1305.1L1751.6 859.9L1752.4 414.7L1753.1 230.3L1753.9 417.9L1754.6 870.8L1755.3 1323.7L1756.1 1511.3L1756.8 1322.2L1757.5 865.5L1758.3 408.9L1759.0 219.8L1759.7 415.5L1760.5 888.0L1761.2 1360.6L1762.0 1556.3L1762.7 1360.5L1763.4 887.9L1764.2 415.3L1764.9 219.5L1765.6 405.3L1766.4 853.7L1767.1 1302.2L1767.8 1487.9L1768.6 1300.1L1769.3 846.7L1770.0 393.3L1770.8 205.5L1771.5 394.8L1772.3 851.7L1773.0 1308.5L1773.7 1497.8L1774.5 1309.8L1775.2 855.8L1775.9 401.8L1776.7 213.7L1777.4 406.5L1778.1 871.9L1778.9 1337.3L1779.6 1530.1L1780.3 1325.5L1781.1 831.7L1781.8 337.8L1782.6 133.3L1783.3 336.8L1784.0 828.1L1784.8 1319.4L1785.5 1522.9L1786.2 1328.0L1787.0 857.4L1787.7 386.9L1788.4 192.0L1789.2 383.6L1789.9 846.3L1790.6 1308.9L1791.4 1500.6L1792.1 1311.3L1792.9 854.5L1793.6 473.9L1794.3 316.3L1795.1 473.8L1795.8 854.2L1796.5 1234.6L1797.3 1392.1L1798.0 1234.5L1798.7 853.9L1799.5 473.3L1800.2 315.7L1800.9 473.6L1801.7 854.6L1802.4 1235.7L1803.2 1393.5L1803.9 1235.7L1804.6 854.5L1805.4 473.4L1806.1 315.5L1806.8 473.5L1807.6 855.1L1808.3 1236.6L1809.0 1394.6L1809.8 1236.6L1810.5 855.2L1811.2 473.8L1812.0 315.8L1812.7 473.5L1813.5 854.4L1814.2 1235.3L1814.9 1393.1L1815.7 1235.0L1816.4 853.4L1817.1 471.8L1817.9 313.7L1818.6 471.8L1819.3 853.3L1820.1 1234.8L1820.8 1392.8L1821.5 1234.9L1822.3 853.7L1823.0 472.5L1823.8 314.5L1824.5 472.6L1825.2 854.2L1826.0 1235.7L1826.7 1393.8L1827.4 1236.1L1828.2 855.3L1828.9 474.5L1829.6 316.7L1830.4 474.6L1831.1 855.6L1831.8 1236.7L1832.6 1394.5L1833.3 1236.5L1834.1 854.9L1834.8 473.3L1835.5 315.3L1836.3 473.3L1837.0 854.7L1837.7 1236.1L1838.5 1394.1L1839.2 1236.1L1839.9 854.5L1840.7 472.9L1841.4 314.9L1842.1 472.9L1842.9 854.5L1843.6 1236.0L1844.4 1394.1L1845.1 1236.0L1845.8 854.3L1846.6 472.6L1847.3 314.4L1848.0 472.7L1848.8 854.9L1849.5 1237.0L1850.2 1395.3L1851.0 1237.1L1851.7 855.1L1852.4 473.1L1853.2 314.9L1853.9 472.9L1854.7 854.3L1855.4 1235.7L1856.1 1393.7L1856.9 1235.7L1857.6 854.1L1858.3 472.5L1859.1 314.4" stroke="#ff0000" stroke-width="1.65"/>
<path d="M201.2 307.8L201.9 467.6L202.6 853.5L203.4 1239.3L204.1 1399.1L204.8 1239.3L205.6 853.5L206.3 467.6L207.0 307.8L207.8 467.8L208.5 854.2L209.3 1240.5L210.0 1400.5L210.7 1240.6L211.5 854.4L212.2 468.2L212.9 308.3L213.7 468.1L214.4 854.1L215.1 1240.0L215.9 1399.8L216.6 1239.8L217.3 853.3L218.1 466.9L218.8 306.9L219.6 467.1L220.3 854.0L221.0 1240.9L221.8 1401.1L222.5 1241.1L223.2 854.8L224.0 468.4L224.7 308.4L225.4 468.3L226.2 854.5L226.9 1240.6L227.6 1400.5L228.4 1240.5L229.1 854.4L229.9 468.2L230.6 308.2L231.3 468.2L232.1 854.5L232.8 1240.7L233.5 1400.7L234.3 1240.6L235.0 854.2L235.7 467.7L236.5 307.6L237.2 467.7L237.9 854.3L238.7 1240.9L239.4 1401.0L240.2 1241.0L240.9 854.7L241.6 468.5L242.4 308.5L243.1 468.4L243.8 854.5L244.6 1240.7L245.3 1400.6L246.0 1240.6L246.8 854.2L247.5 467.8L248.2 307.7L249.0 467.7L249.7 853.9L250.5 1240.2L251.2 1400.1L251.9 1240.3L252.7 854.3L253.4 468.3L254.1 308.4L254.9 468.5L255.6 854.9L256.3 1241.3L257.1 1401.4L257.8 1241.3L258.5 854.8L259.3 468.2L260.0 308.1L260.8 468.3L261.5 854.9L262.2 1241.6L263.0 1401.7L263.7 1241.7L264.4 855.3L265.2 468.9L265.9 308.9L266.6 468.7L267.4 854.7L268.1 1240.6L268.8 1400.5L269.6 1240.6L270.3 854.6L271.1 468.5L271.8 308.6L272.5 468.5L273.3 854.4L274.0 1240.4L274.7 1400.2L275.5 1240.2L276.2 853.9L276.9 467.6L277.7 307.6L278.4 467.8L279.2 854.6L279.9 1241.3L280.6 1401.5L281.4 1241.4L282.1 854.8L282.8 468.2L283.6 308.0L284.3 468.1L285.0 854.4L285.8 1240.7L286.5 1400.7L287.2 1240.5L288.0 853.8L288.7 467.1L289.5 306.9L290.2 467.3L290.9 854.4L291.7 1241.5L292.4 1401.9L293.1 1241.9L293.9 855.7L294.6 469.4L295.3 309.4L296.1 469.3L296.8 855.1L297.5 1240.9L298.3 1400.8L299.0 1240.9L299.8 855.1L300.5 469.2L301.2 309.4L302.0 469.1L302.7 854.6L303.4 1240.1L304.2 1399.8L304.9 1240.0L305.6 854.2L306.4 468.3L307.1 308.5L307.8 468.4L308.6 854.3L309.3 1240.2L310.1 1400.1L310.8 1240.1L311.5 853.9L312.3 467.7L313.0 307.7L313.7 467.8L314.5 854.5L315.2 1241.1L315.9 1476.4L316.7 1285.1L317.4 823.4L318.1 361.6L318.9 170.3L319.6 365.6L320.4 837.1L321.1 1308.6L321.8 1503.9L322.6 1317.3L323.3 867.0L324.0 416.6L324.8 230.1L325.5 411.2L326.2 848.4L327.0 1285.6L327.7 1466.7L328.4 1283.0L329.2 839.3L329.9 395.7L330.7 212.0L331.4 401.4L332.1 858.7L332.9 1316.0L333.6 1505.4L334.3 1314.7L335.1 854.3L335.8 393.9L336.5 203.2L337.3 398.3L338.0 869.4L338.7 1340.5L339.5 1535.6L340.2 1343.6L341.0 880.0L341.7 416.3L342.4 224.3L343.2 412.1L343.9 865.6L344.6 1319.0L345.4 1506.8L346.1 1317.1L346.8 859.0L347.6 400.9L348.3 211.2L349.0 396.5L349.8 843.9L350.5 1291.3L351.3 1476.6L352.0 1296.1L352.7 860.4L353.5 424.7L354.2 244.2L354.9 424.6L355.7 860.1L356.4 1295.5L357.1 1475.9L357.9 1282.9L358.6 816.8L359.3 350.7L360.1 157.7L360.8 350.1L361.6 814.8L362.3 1279.5L363.0 1472.0L363.8 1291.1L364.5 854.4L365.2 417.8L366.0 236.9L366.7 422.2L367.4 869.5L368.2 1316.9L368.9 1502.2L369.6 1315.4L370.4 864.6L371.1 413.7L371.9 227.0L372.6 415.4L373.3 870.4L374.1 1325.4L374.8 1513.8L375.5 1324.7L376.3 868.2L377.0 411.7L377.7 222.6L378.5 411.3L379.2 866.9L379.9 1322.5L380.7 1511.2L381.4 1326.6L382.2 880.8L382.9 435.0L383.6 250.4L384.4 429.7L385.1 862.5L385.8 1295.3L386.6 1474.6L387.3 1293.2L388.0 855.2L388.8 417.2L389.5 235.8L390.3 418.6L391.0 860.0L391.7 1301.4L392.5 1484.2L393.2 1300.7L393.9 857.6L394.7 414.5L395.4 231.0L396.1 419.1L396.9 873.0L397.6 1327.0L398.3 1515.0L399.1 1325.7L399.8 868.5L400.6 411.3L401.3 221.9L402.0 408.9L402.8 860.4L403.5 1311.9L404.2 1498.9L405.0 1308.4L405.7 848.4L406.4 388.4L407.2 197.9L407.9 389.2L408.6 851.0L409.4 1312.8L410.1 1504.1L410.9 1317.4L411.6 866.5L412.3 415.7L413.1 229.0L413.8 409.7L414.5 846.1L415.3 1282.4L416.0 1463.2L416.7 1283.7L417.5 850.2L418.2 416.8L418.9 237.3L419.7 426.5L420.4 883.3L421.2 1340.2L421.9 1529.4L422.6 1337.9L423.4 875.4L424.1 413.0L424.8 221.5L425.6 407.1L426.3 855.2L427.0 1303.2L427.8 1488.9L428.5 1306.4L429.2 865.8L430.0 425.3L430.7 242.8L431.5 433.0L432.2 892.4L432.9 1351.8L433.7 1542.0L434.4 1352.1L435.1 893.7L435.9 435.2L436.6 245.3L437.3 428.4L438.1 870.3L438.8 1312.3L439.5 1495.3L440.3 1310.2L441.0 863.3L441.8 416.3L442.5 231.2L443.2 420.8L444.0 878.4L444.7 1336.0L445.4 1525.6L446.2 1336.5L446.9 880.0L447.6 423.4L448.4 234.3L449.1 423.7L449.8 880.8L450.6 1338.0L451.3 1527.4L452.1 1336.5L452.8 875.9L453.5 415.2L454.3 224.4L455.0 411.8L455.7 864.3L456.5 1316.9L457.2 1504.3L457.9 1314.2L458.7 855.4L459.4 396.5L460.1 206.4L460.9 398.4L461.6 861.9L462.4 1325.4L463.1 1517.4L463.8 1329.4L464.6 875.8L465.3 422.2L466.0 234.3L466.8 416.8L467.5 857.6L468.2 1298.4L469.0 1481.0L469.7 1291.9L470.4 835.4L471.2 378.8L471.9 189.7L472.7 386.5L473.4 861.6L474.1 1336.7L474.9 1533.5L475.6 1338.5L476.3 867.6L477.1 396.8L477.8 201.8L478.5 386.6L479.3 832.9L480.0 1279.2L480.7 1464.1L481.5 1284.8L482.2 851.9L483.0 419.0L483.7 239.6L484.4 424.9L485.2 872.3L485.9 1319.7L486.6 1505.0L487.4 1317.2L488.1 863.8L488.8 410.5L489.6 222.7L490.3 406.6L491.0 850.8L491.8 1294.9L492.5 1478.9L493.3 1290.2L494.0 834.6L494.7 379.0L495.5 190.3L496.2 381.3L496.9 842.5L497.7 1303.6L498.4 1494.6L499.1 1312.7L499.9 873.7L500.6 434.6L501.3 252.7L502.1 431.9L502.8 864.3L503.6 1296.8L504.3 1475.9L505.0 1296.1L505.8 862.1L506.5 428.1L507.2 248.3L508.0 426.8L508.7 857.7L509.4 1288.7L510.2 1467.2L510.9 1283.9L511.7 841.3L512.4 398.7L513.1 215.4L513.9 402.1L514.6 852.7L515.3 1303.4L516.1 1490.0L516.8 1300.7L517.5 843.7L518.3 386.6L519.0 197.3L519.7 384.2L520.5 835.4L521.2 1286.6L522.0 1473.5L522.7 1282.2L523.4 820.3L524.2 358.4L524.9 167.0L525.6 367.3L526.4 850.9L527.1 1334.4L527.8 1534.7L528.6 1342.8L529.3 879.4L530.0 416.0L530.8 224.1L531.5 411.3L532.3 863.4L533.0 1315.4L533.7 1502.6L534.5 1316.0L535.2 865.6L535.9 415.1L536.7 228.5L537.4 411.3L538.1 852.8L538.9 1294.3L539.6 1477.1L540.3 1298.7L541.1 867.9L541.8 437.1L542.6 258.6L543.3 439.7L544.0 876.8L544.8 1313.9L545.5 1495.0L546.2 1311.6L547.0 868.8L547.7 426.0L548.4 242.6L549.2 422.9L549.9 858.2L550.6 1293.5L551.4 1473.8L552.1 1285.2L552.9 830.0L553.6 374.9L554.3 186.3L555.1 375.3L555.8 831.6L556.5 1287.9L557.3 1476.8L558.0 1293.4L558.7 850.4L559.5 407.5L560.2 224.0L560.9 414.0L561.7 872.5L562.4 1331.1L563.2 1521.0L563.9 1330.7L564.6 871.3L565.4 411.9L566.1 221.6L566.8 409.1L567.6 861.9L568.3 1314.8L569.0 1502.3L569.8 1319.7L570.5 878.9L571.2 438.0L572.0 255.4L572.7 439.6L573.5 884.4L574.2 1329.1L574.9 1513.4L575.7 1311.0L576.4 822.3L577.1 333.6L577.9 131.2L578.6 327.5L579.3 801.5L580.1 1275.5L580.8 1471.9L581.5 1292.8L582.3 860.5L583.0 428.2L583.8 249.2L584.5 428.9L585.2 862.7L586.0 1296.5L586.7 1476.2L587.4 1297.2L588.2 865.0L588.9 432.8L589.6 253.8L590.4 440.8L591.1 892.2L591.8 1343.6L592.6 1530.6L593.3 1341.8L594.1 886.1L594.8 430.3L595.5 241.5L596.3 431.2L597.0 889.0L597.7 1346.8L598.5 1536.5L599.2 1349.9L599.9 899.3L600.7 448.7L601.4 262.1L602.1 440.6L602.9 871.5L603.6 1302.4L604.4 1480.8L605.1 1300.5L605.8 865.2L606.6 429.9L607.3 249.6L608.0 430.8L608.8 868.1L609.5 1305.4L610.2 1486.6L611.0 1307.5L611.7 875.0L612.4 442.6L613.2 263.4L613.9 441.5L614.7 871.5L615.4 1301.4L616.1 1479.5L616.9 1293.7L617.6 845.1L618.3 396.5L619.1 210.7L619.8 399.5L620.5 855.3L621.3 1311.1L622.0 1499.9L622.7 1313.4L623.5 863.1L624.2 412.8L625.0 226.3L625.7 409.5L626.4 851.5L627.2 1293.6L627.9 1476.7L628.6 1297.6L629.4 865.3L630.1 433.0L630.8 253.9L631.6 437.2L632.3 879.9L633.1 1322.6L633.8 1505.9L634.5 1320.8L635.3 874.0L636.0 427.1L636.7 242.0L637.5 424.0L638.2 863.3L638.9 1302.7L639.7 1484.6L640.4 1302.9L641.1 864.0L641.9 425.1L642.6 243.4L643.4 425.8L644.1 866.2L644.8 1306.7L645.6 1489.1L646.3 1307.2L647.0 868.2L647.8 429.2L648.5 247.3L649.2 437.3L650.0 896.0L650.7 1354.7L651.4 1544.8L652.2 1354.5L652.9 895.1L653.7 435.7L654.4 245.4L655.1 427.6L655.9 867.4L656.6 1307.2L657.3 1489.3L658.1 1304.3L658.8 857.7L659.5 411.0L660.3 226.0L661.0 419.0L661.7 884.9L662.5 1350.8L663.2 1543.8L664.0 1348.8L664.7 878.0L665.4 407.3L666.2 212.3L666.9 399.4L667.6 851.0L668.4 1302.7L669.1 1489.8L669.8 1295.2L670.6 825.3L671.3 355.5L672.0 160.9L672.8 362.4L673.5 849.0L674.3 1335.5L675.0 1537.0L675.7 1345.8L676.5 884.1L677.2 422.4L677.9 231.2L678.7 415.6L679.4 860.9L680.1 1306.1L680.9 1490.6L681.6 1307.0L682.3 863.8L683.1 420.6L683.8 237.0L684.6 422.4L685.3 870.0L686.0 1317.6L686.8 1503.0L687.5 1316.8L688.2 867.5L689.0 418.1L689.7 232.0L690.4 423.0L691.2 884.0L691.9 1345.1L692.6 1536.1L693.4 1343.6L694.1 879.0L694.9 414.4L695.6 222.0L696.3 415.2L697.1 881.6L697.8 1348.0L698.5 1541.2L699.3 1349.5L700.0 886.8L700.7 424.1L701.5 232.4L702.2 417.1L702.9 863.0L703.7 1308.8L704.4 1493.5L705.2 1308.1L705.9 860.5L706.6 412.9L707.4 227.5L708.1 415.2L708.8 868.3L709.6 1321.5L710.3 1509.1L711.0 1318.9L711.8 859.7L712.5 400.4L713.2 210.2L714.0 397.1L714.7 848.4L715.5 1299.6L716.2 1486.5L716.9 1301.7L717.7 855.3L718.4 409.0L719.1 224.1L719.9 412.2L720.6 866.2L721.3 1320.3L722.1 1508.4L722.8 1321.9L723.5 871.8L724.3 421.7L725.0 235.3L725.8 426.1L726.5 886.9L727.2 1347.6L728.0 1538.4L728.7 1348.8L729.4 891.0L730.2 433.2L730.9 243.6L731.6 432.4L732.4 888.4L733.1 1344.4L733.8 1533.2L734.6 1346.2L735.3 894.6L736.1 443.0L736.8 255.9L737.5 432.7L738.3 859.5L739.0 1286.3L739.7 1463.1L740.5 1280.0L741.2 837.9L741.9 395.8L742.7 212.7L743.4 396.9L744.2 841.7L744.9 1286.4L745.6 1470.6L746.4 1285.6L747.1 838.9L747.8 392.2L748.6 207.2L749.3 394.1L750.0 845.3L750.8 1296.6L751.5 1483.5L752.2 1289.5L753.0 821.4L753.7 353.2L754.5 159.3L755.2 353.2L755.9 821.4L756.7 1289.6L757.4 1483.6L758.1 1297.9L758.9 849.5L759.6 401.2L760.3 215.5L761.1 402.1L761.8 852.7L762.5 1303.2L763.3 1489.9L764.0 1301.0L764.8 845.0L765.5 389.1L766.2 200.2L767.0 386.2L767.7 835.0L768.4 1283.9L769.2 1469.8L769.9 1285.2L770.6 839.5L771.4 393.8L772.1 209.1L772.8 401.8L773.6 866.9L774.3 1332.0L775.1 1524.7L775.8 1336.8L776.5 883.2L777.3 429.6L778.0 241.7L778.7 422.1L779.5 857.6L780.2 1293.2L780.9 1473.6L781.7 1291.3L782.4 851.1L783.1 411.0L783.9 228.7L784.6 411.5L785.4 852.7L786.1 1294.0L786.8 1476.7L787.6 1296.5L788.3 861.5L789.0 426.5L789.8 246.3L790.5 426.9L791.2 863.0L792.0 1299.1L792.7 1479.7L793.4 1296.8L794.2 855.2L794.9 413.6L795.7 230.7L796.4 420.4L797.1 878.2L797.9 1336.0L798.6 1525.6L799.3 1337.2L800.1 882.2L800.8 427.2L801.5 238.7L802.3 417.8L803.0 850.2L803.7 1282.6L804.5 1461.7L805.2 1281.5L806.0 846.5L806.7 411.6L807.4 231.4L808.2 412.0L808.9 847.8L809.6 1283.7L810.4 1464.3L811.1 1270.7L811.8 803.5L812.6 336.3L813.3 142.7L814.0 336.6L814.8 804.8L815.5 1272.9L816.3 1466.8L817.0 1280.5L817.7 830.6L818.5 380.8L819.2 194.4L819.9 379.0L820.7 824.8L821.4 1270.5L822.1 1455.2L822.9 1276.7L823.6 845.8L824.3 414.9L825.1 236.4L825.8 414.8L826.6 845.3L827.3 1275.9L828.0 1454.3L828.8 1273.1L829.5 835.8L830.2 398.4L831.0 217.2L831.7 406.9L832.4 864.6L833.2 1322.4L833.9 1512.0L834.6 1328.5L835.4 885.3L836.1 442.1L836.9 258.6L837.6 439.4L838.3 876.0L839.1 1312.6L839.8 1493.4L840.5 1310.6L841.3 869.4L842.0 428.2L842.7 245.4L843.5 423.0L844.2 851.8L844.9 1280.6L845.7 1458.2L846.4 1282.0L847.2 856.8L847.9 431.6L848.6 255.5L849.4 436.9L850.1 874.7L850.8 1312.5L851.6 1493.9L852.3 1306.8L853.0 855.1L853.8 403.5L854.5 216.4L855.2 401.0L856.0 846.7L856.7 1292.4L857.5 1477.0L858.2 1297.5L858.9 864.0L859.7 430.5L860.4 250.9L861.1 435.4L861.9 881.0L862.6 1326.6L863.3 1511.1L864.1 1326.0L864.8 878.9L865.6 431.9L866.3 246.7L867.0 432.6L867.8 881.2L868.5 1329.9L869.2 1515.7L870.0 1323.7L870.7 860.0L871.4 396.4L872.2 204.3L872.9 393.1L873.6 848.7L874.4 1304.3L875.1 1493.0L875.9 1308.0L876.6 861.2L877.3 414.4L878.1 229.4L878.8 412.6L879.5 855.0L880.3 1297.5L881.0 1480.7L881.7 1297.3L882.5 854.6L883.2 411.9L883.9 228.5L884.7 421.3L885.4 886.6L886.2 1352.0L886.9 1544.8L887.6 1351.1L888.4 883.5L889.1 415.9L889.8 222.3L890.6 406.0L891.3 849.5L892.0 1293.1L892.8 1476.8L893.5 1289.1L894.2 835.8L895.0 382.4L895.7 194.7L896.5 383.3L897.2 838.8L897.9 1294.3L898.7 1483.0L899.4 1301.9L900.1 864.7L900.9 427.5L901.6 246.4L902.3 430.3L903.1 874.3L903.8 1318.3L904.5 1502.3L905.3 1316.6L906.0 868.4L906.8 420.1L907.5 234.5L908.2 419.6L909.0 866.5L909.7 1313.5L910.4 1498.6L911.2 1309.9L911.9 854.5L912.6 659.8L913.4 579.2L914.1 659.6L914.8 853.6L915.6 1047.6L916.3 1127.9L917.1 1047.5L917.8 853.5L918.5 659.4L919.3 579.1L920.0 659.8L920.7 854.8L921.5 1049.8L922.2 1130.5L922.9 1050.0L923.7 855.4L924.4 660.9L925.1 580.3L925.9 660.8L926.6 855.1L927.4 1049.3L928.1 1129.8L928.8 1049.3L929.6 854.8L930.3 660.3L931.0 579.7L931.8 660.2L932.5 854.3L933.2 1048.5L934.0 1128.9L934.7 1048.4L935.4 854.0L936.2 659.6L936.9 579.0L937.7 659.7L938.4 854.4L939.1 1049.2L939.9 1129.8L940.6 1049.3L941.3 854.7L942.1 660.2L942.8 579.6L943.5 660.3L944.3 855.1L945.0 1049.9L945.7 1130.6L946.5 1049.8L947.2 854.9L948.0 659.9L948.7 579.1L949.4 659.5L950.2 853.7L950.9 1047.8L951.6 1128.2L952.4 1047.7L953.1 853.3L953.8 659.0L954.6 578.5L955.3 659.2L956.0 854.0L956.8 1048.8L957.5 1129.5L958.3 1048.8L959.0 854.0L959.7 659.1L960.5 578.4L961.2 659.0L961.9 853.6L962.7 1048.2L963.4 1128.8L964.1 1048.4L964.9 854.4L965.6 660.4L966.3 580.1L967.1 660.5L967.8 854.6L968.6 1048.7L969.3 1129.1L970.0 1048.6L970.8 854.2L971.5 659.8L972.2 579.2L973.0 659.9L973.7 854.6L974.4 1049.3L975.2 1129.9L975.9 1049.4L976.7 854.9L977.4 660.5L978.1 580.0L978.9 660.8L979.6 855.8L980.3 1050.9L981.1 1131.7L981.8 1050.9L982.5 855.9L983.3 660.9L984.0 580.1L984.7 660.5L985.5 854.6L986.2 1048.8L987.0 1129.2L987.7 1048.5L988.4 853.6L989.2 658.8L989.9 578.1L990.6 659.1L991.4 854.4L992.1 1049.8L992.8 1130.7L993.6 1049.8L994.3 854.6L995.0 659.3L995.8 578.5L996.5 659.2L997.3 854.1L998.0 1049.0L998.7 1129.7L999.5 1049.1L1000.2 854.5L1000.9 660.0L1001.7 579.4L1002.4 660.2L1003.1 855.1L1003.9 1050.1L1004.6 1130.9L1005.3 1050.3L1006.1 855.6L1006.8 660.9L1007.6 580.3L1008.3 660.7L1009.0 854.7L1009.8 1048.7L1010.5 1129.0L1011.2 1048.6L1012.0 854.2L1012.7 659.9L1013.4 579.4L1014.2 660.0L1014.9 854.5L1015.6 1049.0L1016.4 1129.6L1017.1 1048.9L1017.9 854.2L1018.6 659.4L1019.3 578.8L1020.1 659.4L1020.8 854.1L1021.5 1048.8L1022.3 1129.5L1023.0 1048.9L1023.7 854.4L1024.5 659.9L1025.2 579.3L1025.9 659.9L1026.7 854.5L1027.4 1049.1L1028.2 1129.7L1028.9 1049.2L1029.6 854.7L1030.4 660.2L1031.1 579.7L1031.8 660.2L1032.6 854.6L1033.3 1049.0L1034.0 1129.6L1034.8 1049.1L1035.5 854.9L1036.2 660.7L1037.0 580.2L1037.7 660.6L1038.5 854.5L1039.2 1048.5L1039.9 1128.8L1040.7 1048.4L1041.4 854.1L1042.1 659.9L1042.9 579.5L1043.6 660.0L1044.3 854.3L1045.1 1048.7L1045.8 1129.2L1046.5 1048.6L1047.3 854.1L1048.0 659.6L1048.8 579.1L1049.5 659.7L1050.2 854.3L1051.0 1048.8L1051.7 1129.4L1052.4 1048.9L1053.2 854.4L1053.9 659.9L1054.6 579.3L1055.4 660.0L1056.1 854.7L1056.8 1049.4L1057.6 1130.0L1058.3 1049.6L1059.1 855.3L1059.8 661.1L1060.5 580.6L1061.3 660.9L1062.0 854.7L1062.7 1048.4L1063.5 1128.7L1064.2 1048.3L1064.9 854.2L1065.7 660.1L1066.4 579.7L1067.1 660.4L1067.9 855.1L1068.6 1049.9L1069.4 1130.6L1070.1 1049.9L1070.8 855.2L1071.6 660.4L1072.3 579.8L1073.0 660.4L1073.8 855.2L1074.5 1049.9L1075.2 1130.6L1076.0 1049.8L1076.7 854.7L1077.4 659.6L1078.2 578.8L1078.9 659.5L1079.7 854.2L1080.4 1048.8L1081.1 1129.5L1081.9 1048.9L1082.6 854.3L1083.3 659.8L1084.1 579.2L1084.8 659.8L1085.5 854.5L1086.3 1049.2L1087.0 1129.8L1087.7 1049.3L1088.5 854.8L1089.2 660.3L1090.0 579.8L1090.7 660.4L1091.4 855.1L1092.2 1049.7L1092.9 1130.4L1093.6 1049.7L1094.4 854.8L1095.1 659.9L1095.8 579.2L1096.6 659.8L1097.3 854.3L1098.1 1048.8L1098.8 1129.4L1099.5 1048.9L1100.3 854.6L1101.0 660.4L1101.7 579.9L1102.5 660.4L1103.2 854.8L1103.9 1049.3L1104.7 1129.8L1105.4 1049.1L1106.1 854.4L1106.9 659.7L1107.6 579.1L1108.4 659.8L1109.1 854.5L1109.8 1049.3L1110.6 1130.0L1111.3 1049.1L1112.0 854.0L1112.8 658.8L1113.5 578.0L1114.2 658.8L1115.0 853.9L1115.7 1049.0L1116.4 1129.8L1117.2 1049.3L1117.9 854.9L1118.7 660.4L1119.4 579.9L1120.1 660.3L1120.9 854.4L1121.6 1048.6L1122.3 1129.0L1123.1 1048.6L1123.8 854.6L1124.5 660.6L1125.3 580.3L1126.0 660.6L1126.7 854.5L1127.5 1048.5L1128.2 1128.8L1129.0 1048.5L1129.7 854.6L1130.4 660.6L1131.2 580.3L1131.9 660.8L1132.6 855.2L1133.4 1049.6L1134.1 1130.1L1134.8 1049.6L1135.6 855.5L1136.3 661.3L1137.0 580.9L1137.8 661.4L1138.5 855.6L1139.3 1049.9L1140.0 1130.4L1140.7 1049.8L1141.5 855.1L1142.2 660.5L1142.9 579.9L1143.7 660.2L1144.4 854.2L1145.1 1048.2L1145.9 1128.5L1146.6 1048.2L1147.3 854.3L1148.1 660.3L1148.8 580.0L1149.6 660.5L1150.3 854.7L1151.0 1048.9L1151.8 1129.4L1152.5 1048.9L1153.2 854.4L1154.0 660.0L1154.7 579.4L1155.4 659.9L1156.2 854.3L1156.9 1048.6L1157.6 1129.1L1158.4 1048.5L1159.1 853.9L1159.9 659.4L1160.6 578.8L1161.3 659.3L1162.1 853.7L1162.8 1048.1L1163.5 1128.6L1164.3 1048.2L1165.0 854.3L1165.7 660.4L1166.5 580.1L1167.2 660.6L1167.9 855.0L1168.7 1049.4L1169.4 1129.9L1170.2 1049.4L1170.9 855.1L1171.6 660.8L1172.4 580.3L1173.1 660.7L1173.8 854.6L1174.6 1048.6L1175.3 1128.9L1176.0 1048.4L1176.8 854.0L1177.5 659.6L1178.2 579.1L1179.0 659.8L1179.7 854.5L1180.5 1049.2L1181.2 1129.8L1181.9 1049.2L1182.7 854.5L1183.4 659.7L1184.1 579.1L1184.9 659.7L1185.6 854.5L1186.3 1049.2L1187.1 1129.9L1187.8 1049.3L1188.5 854.7L1189.3 660.1L1190.0 579.5L1190.8 660.0L1191.5 854.5L1192.2 1049.0L1193.0 1129.6L1193.7 1049.0L1194.4 854.5L1195.2 659.9L1195.9 579.4L1196.6 659.9L1197.4 854.4L1198.1 1048.8L1198.8 1129.4L1199.6 1048.8L1200.3 854.1L1201.1 659.5L1201.8 578.9L1202.5 463.0L1203.3 854.5L1204.0 1245.9L1204.7 1408.1L1205.5 1245.9L1206.2 854.3L1206.9 462.6L1207.7 300.4L1208.4 462.4L1209.1 853.3L1209.9 1244.2L1210.6 1406.1L1211.4 1244.4L1212.1 854.2L1212.8 464.0L1213.6 302.3L1214.3 463.1L1215.0 851.3L1215.8 1239.5L1216.5 1400.3L1217.2 1239.5L1218.0 851.4L1218.7 463.3L1219.5 302.5L1220.2 463.3L1220.9 851.6L1221.7 1239.9L1222.4 1400.7L1223.1 1306.2L1223.9 854.5L1224.6 402.7L1225.3 215.6L1226.1 401.8L1226.8 851.3L1227.5 1300.9L1228.3 1487.1L1229.0 1290.4L1229.8 815.7L1230.5 341.0L1231.2 144.3L1232.0 343.1L1232.7 823.0L1233.4 1302.8L1234.2 1501.6L1234.9 1306.5L1235.6 835.4L1236.4 364.4L1237.1 169.3L1237.8 365.2L1238.6 838.1L1239.3 1311.1L1240.1 1507.0L1240.8 1297.6L1241.5 791.9L1242.3 286.3L1243.0 76.8L1243.7 287.0L1244.5 794.5L1245.2 1302.0L1245.9 1512.2L1246.7 1325.7L1247.4 875.6L1248.1 425.6L1248.9 239.1L1249.6 426.0L1250.4 877.1L1251.1 1328.3L1251.8 1515.1L1252.6 1329.0L1253.3 879.5L1254.0 430.0L1254.8 243.9L1255.5 436.1L1256.2 900.1L1257.0 1364.1L1257.7 1556.3L1258.4 1360.9L1259.2 889.1L1259.9 417.4L1260.7 222.0L1261.4 421.7L1262.1 904.0L1262.9 1386.2L1263.6 1585.9L1264.3 1389.3L1265.1 914.5L1265.8 439.7L1266.5 243.0L1267.3 429.5L1268.0 879.8L1268.7 1330.0L1269.5 1516.5L1270.2 1329.9L1271.0 879.4L1271.7 428.8L1272.4 242.2L1273.2 429.3L1273.9 881.0L1274.6 1332.8L1275.4 1519.9L1276.1 1330.8L1276.8 874.4L1277.6 417.9L1278.3 228.9L1279.0 414.4L1279.8 862.2L1280.5 1310.0L1281.3 1495.5L1282.0 1308.7L1282.7 857.5L1283.5 406.4L1284.2 219.5L1284.9 407.1L1285.7 859.8L1286.4 1312.6L1287.1 1500.2L1287.9 1297.0L1288.6 806.6L1289.3 316.2L1290.1 113.1L1290.8 328.8L1291.6 849.5L1292.3 1370.2L1293.0 1585.9L1293.8 1384.6L1294.5 898.6L1295.2 412.5L1296.0 211.2L1296.7 399.6L1297.4 854.4L1298.2 1309.2L1298.9 1497.6L1299.6 1310.7L1300.4 859.4L1301.1 408.1L1301.9 221.2L1302.6 408.3L1303.3 860.1L1304.1 1311.9L1304.8 1499.1L1305.5 1308.6L1306.3 848.9L1307.0 389.2L1307.7 198.8L1308.5 389.8L1309.2 851.1L1309.9 1312.3L1310.7 1503.3L1311.4 1316.4L1312.2 865.0L1312.9 413.6L1313.6 226.6L1314.4 414.5L1315.1 868.0L1315.8 1321.4L1316.6 1509.3L1317.3 1320.3L1318.0 863.9L1318.8 407.6L1319.5 218.6L1320.2 410.2L1321.0 873.0L1321.7 1335.7L1322.5 1527.4L1323.2 1335.1L1323.9 870.8L1324.7 406.5L1325.4 214.2L1326.1 401.6L1326.9 854.0L1327.6 1306.5L1328.3 1493.9L1329.1 1309.2L1329.8 863.5L1330.6 417.8L1331.3 233.2L1332.0 418.2L1332.8 864.8L1333.5 1311.4L1334.2 1496.4L1335.0 1310.2L1335.7 860.7L1336.4 411.2L1337.2 225.1L1337.9 413.0L1338.6 866.9L1339.4 1320.7L1340.1 1508.7L1340.9 1320.9L1341.6 867.5L1342.3 414.1L1343.1 226.3L1343.8 419.6L1344.5 886.1L1345.3 1352.7L1346.0 1545.9L1346.7 1348.2L1347.5 870.8L1348.2 393.5L1348.9 195.8L1349.7 386.3L1350.4 846.1L1351.2 1306.0L1351.9 1496.4L1352.6 1308.8L1353.4 855.8L1354.1 402.8L1354.8 215.1L1355.6 404.1L1356.3 860.5L1357.0 1316.8L1357.8 1505.8L1358.5 1319.5L1359.2 869.8L1360.0 420.1L1360.7 233.8L1361.5 416.5L1362.2 857.5L1362.9 1298.5L1363.7 1481.1L1364.4 1301.3L1365.1 867.1L1365.9 432.9L1366.6 253.1L1367.3 437.0L1368.1 881.2L1368.8 1325.3L1369.5 1509.3L1370.3 1323.8L1371.0 876.1L1371.8 428.4L1372.5 242.9L1373.2 425.3L1374.0 865.6L1374.7 1305.9L1375.4 1488.3L1376.2 1306.7L1376.9 868.4L1377.6 430.2L1378.4 248.6L1379.1 428.8L1379.8 864.0L1380.6 1299.1L1381.3 1479.3L1382.1 1296.0L1382.8 853.4L1383.5 410.9L1384.3 227.6L1385.0 412.3L1385.7 858.4L1386.5 1304.4L1387.2 1489.2L1387.9 1308.2L1388.7 871.3L1389.4 434.3L1390.1 253.3L1390.9 430.8L1391.6 859.4L1392.4 1287.9L1393.1 1465.4L1393.8 1284.1L1394.6 846.3L1395.3 408.6L1396.0 227.2L1396.8 409.2L1397.5 848.5L1398.2 1287.7L1399.0 1469.7L1399.7 1287.2L1400.4 846.5L1401.2 405.9L1401.9 223.3L1402.7 412.0L1403.4 867.4L1404.1 1322.8L1404.9 1511.5L1405.6 1319.1L1406.3 854.5L1407.1 390.0L1407.8 197.6L1408.5 384.1L1409.3 834.4L1410.0 1284.6L1410.7 1471.2L1411.5 1290.5L1412.2 854.2L1413.0 418.0L1413.7 237.3L1414.4 419.8L1415.2 860.4L1415.9 1300.9L1416.6 1483.4L1417.4 1298.6L1418.1 852.3L1418.8 406.1L1419.6 221.2L1420.3 409.8L1421.0 865.1L1421.8 1320.3L1422.5 1508.9L1423.3 1320.8L1424.0 866.6L1424.7 412.5L1425.5 224.4L1426.2 410.1L1426.9 858.4L1427.7 1306.7L1428.4 1492.3L1429.1 1307.4L1429.9 860.9L1430.6 414.5L1431.3 229.5L1432.1 414.2L1432.8 860.0L1433.6 1305.9L1434.3 1490.5L1435.0 1307.7L1435.8 866.2L1436.5 424.7L1437.2 241.9L1438.0 424.8L1438.7 866.5L1439.4 1308.2L1440.2 1491.2L1440.9 1303.3L1441.6 849.9L1442.4 396.5L1443.1 208.7L1443.9 400.0L1444.6 861.8L1445.3 1323.6L1446.1 1514.8L1446.8 1320.0L1447.5 849.6L1448.3 379.3L1449.0 184.5L1449.7 390.2L1450.5 886.8L1451.2 1383.5L1452.0 1589.2L1452.7 1384.1L1453.4 888.9L1454.2 393.6L1454.9 188.5L1455.6 383.0L1456.4 852.6L1457.1 1322.2L1457.8 1516.7L1458.6 1329.7L1459.3 878.0L1460.0 426.4L1460.8 239.3L1461.5 430.6L1462.3 892.6L1463.0 1354.5L1463.7 1545.8L1464.5 1350.9L1465.2 880.2L1465.9 409.6L1466.7 214.6L1467.4 399.7L1468.1 846.4L1468.9 1293.2L1469.6 1478.3L1470.3 1292.3L1471.1 843.3L1471.8 394.3L1472.6 208.3L1473.3 405.7L1474.0 882.3L1474.8 1358.9L1475.5 1556.3L1476.2 1361.6L1477.0 891.7L1477.7 421.8L1478.4 227.2L1479.2 413.3L1479.9 862.7L1480.6 1312.1L1481.4 1498.2L1482.1 1312.6L1482.9 864.6L1483.6 416.6L1484.3 231.0L1485.1 417.8L1485.8 868.9L1486.5 1320.0L1487.3 1506.8L1488.0 1321.1L1488.7 872.8L1489.5 424.4L1490.2 238.7L1490.9 422.5L1491.7 866.0L1492.4 1309.6L1493.2 1493.3L1493.9 1296.7L1494.6 822.1L1495.4 347.5L1496.1 150.8L1496.8 345.0L1497.6 813.6L1498.3 1282.2L1499.0 1476.3L1499.8 1289.7L1500.5 839.1L1501.2 388.4L1502.0 201.8L1502.7 392.9L1503.5 854.5L1504.2 1316.1L1504.9 1507.3L1505.7 1319.6L1506.4 866.4L1507.1 413.2L1507.9 225.5L1508.6 409.6L1509.3 853.9L1510.1 1298.3L1510.8 1482.3L1511.5 1295.1L1512.3 843.2L1513.0 391.3L1513.8 204.1L1514.5 391.9L1515.2 845.4L1516.0 1298.9L1516.7 1486.8L1517.4 1303.0L1518.2 859.4L1518.9 415.7L1519.6 231.9L1520.4 421.2L1521.1 878.0L1521.8 1334.9L1522.6 1524.1L1523.3 1328.1L1524.1 854.9L1524.8 381.7L1525.5 185.7L1526.3 385.3L1527.0 867.3L1527.7 1349.4L1528.5 1549.0L1529.2 1353.5L1529.9 881.3L1530.7 409.2L1531.4 213.6L1532.1 401.7L1532.9 855.7L1533.6 1309.7L1534.4 1497.7L1535.1 1305.8L1535.8 842.3L1536.6 378.9L1537.3 186.9L1538.0 387.5L1538.8 871.6L1539.5 1355.7L1540.2 1556.3L1541.0 1363.0L1541.7 896.4L1542.4 429.7L1543.2 236.4L1543.9 425.0L1544.7 880.3L1545.4 1335.6L1546.1 1524.2L1546.9 1326.0L1547.6 847.7L1548.3 369.4L1549.1 171.3L1549.8 373.5L1550.5 861.6L1551.3 1349.7L1552.0 1551.9L1552.7 1356.1L1553.5 883.3L1554.2 410.5L1555.0 214.6L1555.7 400.0L1556.4 847.6L1557.2 1295.1L1557.9 1480.5L1558.6 1289.8L1559.4 829.5L1560.1 369.1L1560.8 178.4L1561.6 370.0L1562.3 832.4L1563.0 1294.8L1563.8 1486.3L1564.5 1304.0L1565.3 863.9L1566.0 423.7L1566.7 241.4L1567.5 431.6L1568.2 891.0L1568.9 1350.4L1569.7 1540.6L1570.4 1343.7L1571.1 868.4L1571.9 393.0L1572.6 196.1L1573.4 384.0L1574.1 837.6L1574.8 1291.2L1575.6 1479.1L1576.3 1298.3L1577.0 861.7L1577.8 425.1L1578.5 244.3L1579.2 424.9L1580.0 860.8L1580.7 1296.7L1581.4 1477.3L1582.2 1297.0L1582.9 861.8L1583.7 426.6L1584.4 246.3L1585.1 431.9L1585.9 880.1L1586.6 1328.2L1587.3 1513.9L1588.1 1324.6L1588.8 867.5L1589.5 410.4L1590.3 221.1L1591.0 414.4L1591.7 881.0L1592.5 1347.6L1593.2 1540.8L1594.0 1347.8L1594.7 881.8L1595.4 415.8L1596.2 222.8L1596.9 418.1L1597.6 889.5L1598.4 1361.0L1599.1 1556.3L1599.8 1365.9L1600.6 906.3L1601.3 446.6L1602.0 256.3L1602.8 440.8L1603.5 886.4L1604.3 1331.9L1605.0 1516.5L1605.7 1328.4L1606.5 874.5L1607.2 420.7L1607.9 232.6L1608.7 417.3L1609.4 863.2L1610.1 1309.1L1610.9 1493.8L1611.6 1311.4L1612.3 870.9L1613.1 430.4L1613.8 247.9L1614.6 427.7L1615.3 861.6L1616.0 1295.6L1616.8 1475.4L1617.5 1293.6L1618.2 854.8L1619.0 416.0L1619.7 234.2L1620.4 425.5L1621.2 887.4L1621.9 1349.3L1622.6 1540.7L1623.4 1343.4L1624.1 867.2L1624.9 391.0L1625.6 193.7L1626.3 384.2L1627.1 844.1L1627.8 1303.9L1628.5 1494.4L1629.3 1306.2L1630.0 851.9L1630.7 397.5L1631.5 209.3L1632.2 394.6L1632.9 841.9L1633.7 1289.2L1634.4 1474.4L1635.2 1292.8L1635.9 854.4L1636.6 416.0L1637.4 234.3L1638.1 416.8L1638.8 857.3L1639.6 1297.7L1640.3 1480.2L1641.0 1296.6L1641.8 853.5L1642.5 410.3L1643.2 226.8L1644.0 418.2L1644.7 880.5L1645.5 1342.8L1646.2 1534.3L1646.9 1342.7L1647.7 880.1L1648.4 417.6L1649.1 226.0L1649.9 414.3L1650.6 868.9L1651.3 1323.6L1652.1 1511.9L1652.8 1323.9L1653.5 870.1L1654.3 416.3L1655.0 228.3L1655.8 422.8L1656.5 892.3L1657.2 1361.8L1658.0 1556.3L1658.7 1359.4L1659.4 884.0L1660.2 408.7L1660.9 211.8L1661.6 400.0L1662.4 854.2L1663.1 1308.5L1663.8 1496.6L1664.6 1310.4L1665.3 860.9L1666.1 411.4L1666.8 225.2L1667.5 409.8L1668.3 855.6L1669.0 1301.4L1669.7 1486.0L1670.5 1293.9L1671.2 830.1L1671.9 366.3L1672.7 174.2L1673.4 373.5L1674.1 854.6L1674.9 1335.8L1675.6 1535.1L1676.4 1344.6L1677.1 884.6L1677.8 424.7L1678.6 234.2L1679.3 417.7L1680.0 860.7L1680.8 1303.6L1681.5 1487.1L1682.2 1306.6L1683.0 871.0L1683.7 435.3L1684.5 254.9L1685.2 434.9L1685.9 869.6L1686.7 1304.3L1687.4 1484.3L1688.1 1302.1L1688.9 862.2L1689.6 422.3L1690.3 240.0L1691.1 420.1L1691.8 854.7L1692.5 1289.3L1693.3 1469.3L1694.0 1287.6L1694.8 848.9L1695.5 410.2L1696.2 228.5L1697.0 418.9L1697.7 878.8L1698.4 1338.6L1699.2 1529.1L1699.9 1341.0L1700.6 886.9L1701.4 432.9L1702.1 244.8L1702.8 435.1L1703.6 894.5L1704.3 1353.8L1705.1 1544.1L1705.8 1352.0L1706.5 888.2L1707.3 424.4L1708.0 232.3L1708.7 414.7L1709.5 855.2L1710.2 1295.6L1710.9 1478.1L1711.7 1286.5L1712.4 824.0L1713.1 361.5L1713.9 169.9L1714.6 363.3L1715.4 830.1L1716.1 1297.0L1716.8 1490.4L1717.6 1296.9L1718.3 829.8L1719.0 362.8L1719.8 169.3L1720.5 368.3L1721.2 848.6L1722.0 1328.9L1722.7 1527.8L1723.4 1335.0L1724.2 869.4L1724.9 403.8L1725.7 210.9L1726.4 403.2L1727.1 867.6L1727.9 1331.9L1728.6 1524.3L1729.3 1333.3L1730.1 872.3L1730.8 411.3L1731.5 220.3L1732.3 405.1L1733.0 851.4L1733.7 1297.6L1734.5 1482.4L1735.2 1291.0L1736.0 828.7L1736.7 366.5L1737.4 175.0L1738.2 373.7L1738.9 853.3L1739.6 1332.9L1740.4 1531.6L1741.1 1337.8L1741.8 869.8L1742.6 401.9L1743.3 208.1L1744.0 402.4L1744.8 871.7L1745.5 1341.0L1746.3 1535.4L1747.0 1335.8L1747.7 853.9L1748.5 372.0L1749.2 172.4L1749.9 372.1L1750.7 854.3L1751.4 1336.5L1752.1 1536.2L1752.9 1341.3L1753.6 870.8L1754.3 400.2L1755.1 205.3L1755.8 397.6L1756.6 861.8L1757.3 1326.0L1758.0 1518.2L1758.8 1329.8L1759.5 874.9L1760.2 419.9L1761.0 231.5L1761.7 416.7L1762.4 863.9L1763.2 1311.2L1763.9 1496.4L1764.6 1310.4L1765.4 861.4L1766.1 412.4L1766.9 226.4L1767.6 418.0L1768.3 880.3L1769.1 1342.6L1769.8 1534.1L1770.5 1338.6L1771.3 866.5L1772.0 394.5L1772.7 198.9L1773.5 388.3L1774.2 845.6L1774.9 1302.9L1775.7 1492.4L1776.4 1308.1L1777.2 863.3L1777.9 418.5L1778.6 234.2L1779.4 424.7L1780.1 884.4L1780.8 1344.1L1781.6 1534.6L1782.3 1344.1L1783.0 884.2L1783.8 424.4L1784.5 233.9L1785.2 420.9L1786.0 872.5L1786.7 1324.0L1787.5 1511.0L1788.2 1322.1L1788.9 865.8L1789.7 409.5L1790.4 220.6L1791.1 406.2L1791.9 854.5L1792.6 1302.7L1793.3 1400.3L1794.1 1240.4L1794.8 854.3L1795.5 468.1L1796.3 308.2L1797.0 468.2L1797.8 854.6L1798.5 1240.9L1799.2 1400.9L1800.0 1241.0L1800.7 854.9L1801.4 468.8L1802.2 308.9L1802.9 468.8L1803.6 854.7L1804.4 1240.6L1805.1 1400.5L1805.9 1240.5L1806.6 854.5L1807.3 468.4L1808.1 308.5L1808.8 468.4L1809.5 854.7L1810.3 1240.9L1811.0 1400.9L1811.7 1241.0L1812.5 854.9L1813.2 468.8L1813.9 308.9L1814.7 468.8L1815.4 854.8L1816.2 1240.8L1816.9 1400.7L1817.6 1240.7L1818.4 854.3L1819.1 468.0L1819.8 307.9L1820.6 468.1L1821.3 854.8L1822.0 1241.5L1822.8 1401.7L1823.5 1241.5L1824.2 854.9L1825.0 468.2L1825.7 308.1L1826.5 468.3L1827.2 854.9L1827.9 1241.6L1828.7 1401.8L1829.4 1241.6L1830.1 854.8L1830.9 468.0L1831.6 307.8L1832.3 467.9L1833.1 854.5L1833.8 1241.1L1834.5 1401.2L1835.3 1241.2L1836.0 854.9L1836.8 468.6L1837.5 308.6L1838.2 468.5L1839.0 854.5L1839.7 1240.5L1840.4 1400.4L1841.2 1240.4L1841.9 854.1L1842.6 467.8L1843.4 307.8L1844.1 467.8L1844.8 854.1L1845.6 1240.4L1846.3 1400.4L1847.1 1240.3L1847.8 853.7L1848.5 467.2L1849.3 307.1L1850.0 467.2L1850.7 854.0L1851.5 1240.7L1852.2 1400.9L1852.9 1240.6L1853.7 853.6L1854.4 466.7L1855.1 306.4L1855.9 466.6L1856.6 853.4L1857.4 1240.2L1858.1 1400.4" stroke="#00ff00" stroke-width="1.65"/>
<path d="M200.2 1397.9L200.9 1238.7L201.7 854.5L202.4 470.2L203.1 311.1L203.9 470.2L204.6 854.3L205.3 1238.5L206.1 1397.6L206.8 1238.5L207.5 854.4L208.3 470.2L209.0 311.1L209.7 470.0L210.5 853.6L211.2 1237.2L212.0 1396.1L212.7 1237.3L213.4 853.7L214.2 470.2L214.9 311.4L215.6 470.5L216.4 854.8L217.1 1239.0L217.8 1398.2L218.6 1239.0L219.3 854.8L220.0 470.6L220.8 311.4L221.5 470.4L222.3 854.0L223.0 1237.7L223.7 1396.6L224.5 1237.7L225.2 854.2L225.9 470.6L226.7 311.7L227.4 470.7L228.1 854.6L228.9 1238.5L229.6 1397.5L230.3 1238.4L231.1 854.2L231.8 470.0L232.6 310.8L233.3 469.9L234.0 853.9L234.8 1238.0L235.5 1397.1L236.2 1238.0L237.0 853.9L237.7 469.8L238.4 310.7L239.2 469.8L239.9 853.8L240.6 1237.9L241.4 1397.0L242.1 1237.9L242.9 853.9L243.6 469.9L244.3 310.8L245.1 470.0L245.8 854.2L246.5 1238.5L247.3 1397.6L248.0 1238.4L248.7 853.8L249.5 469.2L250.2 309.9L250.9 469.2L251.7 853.9L252.4 1238.6L253.2 1397.9L253.9 1238.7L254.6 854.3L255.4 469.8L256.1 310.6L256.8 469.7L257.6 853.9L258.3 1238.1L259.0 1397.3L259.8 1238.4L260.5 855.0L261.2 471.5L262.0 312.7L262.7 471.6L263.5 855.1L264.2 1238.6L264.9 1397.5L265.7 1238.4L266.4 854.4L267.1 470.4L267.9 311.4L268.6 470.4L269.3 854.2L270.1 1238.0L270.8 1397.0L271.5 1238.0L272.3 854.2L273.0 470.4L273.8 311.5L274.5 470.3L275.2 853.8L276.0 1237.4L276.7 1396.2L277.4 1237.4L278.2 853.9L278.9 470.5L279.6 311.6L280.4 470.6L281.1 854.3L281.8 1238.1L282.6 1397.0L283.3 1237.9L284.1 853.8L284.8 469.6L285.5 310.5L286.3 469.7L287.0 854.0L287.7 1238.3L288.5 1397.5L289.2 1238.4L289.9 854.4L290.7 470.5L291.4 311.4L292.1 470.5L292.9 854.4L293.6 1238.4L294.4 1397.5L295.1 1238.6L295.8 855.1L296.6 471.6L297.3 312.7L298.0 471.5L298.8 854.8L299.5 1238.0L300.2 1396.8L301.0 1237.7L301.7 853.7L302.4 469.7L303.2 310.7L303.9 469.9L304.7 854.2L305.4 1238.6L306.1 1397.8L306.9 1238.9L307.6 855.1L308.3 471.3L309.1 312.4L309.8 471.3L310.5 855.0L311.3 1238.7L312.0 1397.6L312.8 1238.6L313.5 854.7L314.2 470.8L315.0 311.8L315.7 402.1L316.4 854.5L317.2 1306.8L317.9 1494.2L318.6 1312.7L319.4 874.4L320.1 436.1L320.8 254.5L321.6 434.0L322.3 867.1L323.1 1300.2L323.8 1479.6L324.5 1294.8L325.3 848.7L326.0 402.6L326.7 217.8L327.5 403.0L328.2 850.1L328.9 1297.2L329.7 1482.4L330.4 1297.6L331.1 851.5L331.9 405.4L332.6 220.6L333.4 406.0L334.1 853.4L334.8 1300.8L335.6 1486.1L336.3 1304.9L337.0 867.4L337.8 429.8L338.5 248.6L339.2 428.7L340.0 863.4L340.7 1298.2L341.4 1478.2L342.2 1289.4L342.9 833.4L343.7 377.4L344.4 188.5L345.1 379.1L345.9 839.3L346.6 1299.5L347.3 1490.1L348.1 1307.9L348.8 868.1L349.5 428.4L350.3 246.2L351.0 430.6L351.7 875.8L352.5 1321.0L353.2 1505.4L354.0 1316.5L354.7 860.6L355.4 404.7L356.2 215.8L356.9 399.5L357.6 842.8L358.4 1286.2L359.1 1469.8L359.8 1291.6L360.6 861.3L361.3 430.9L362.0 252.7L362.8 437.0L363.5 881.9L364.3 1326.9L365.0 1511.2L365.7 1319.7L366.5 857.6L367.2 395.5L367.9 204.1L368.7 393.5L369.4 850.5L370.1 1307.6L370.9 1497.0L371.6 1306.1L372.3 845.4L373.1 384.6L373.8 193.7L374.6 391.6L375.3 869.2L376.0 1346.9L376.8 1544.8L377.5 1347.3L378.2 870.8L379.0 394.2L379.7 196.8L380.4 385.7L381.2 841.6L381.9 1297.6L382.6 1486.5L383.4 1297.6L384.1 841.7L384.9 385.7L385.6 196.8L386.3 387.7L387.1 848.6L387.8 1309.5L388.5 1500.4L389.3 1317.5L390.0 875.7L390.7 434.0L391.5 251.0L392.2 433.4L392.9 873.8L393.7 1314.1L394.4 1496.5L395.2 1314.6L395.9 875.4L396.6 436.2L397.4 254.2L398.1 441.7L398.8 894.4L399.6 1347.1L400.3 1534.6L401.0 1344.7L401.8 886.1L402.5 427.5L403.2 237.6L404.0 421.0L404.7 863.7L405.5 1306.4L406.2 1489.7L406.9 1305.4L407.7 860.5L408.4 415.5L409.1 231.2L409.9 412.6L410.6 850.5L411.3 1288.4L412.1 1469.7L412.8 1290.2L413.5 856.8L414.3 423.4L415.0 243.9L415.8 426.5L416.5 867.3L417.2 1308.1L418.0 1490.7L418.7 1307.4L419.4 864.8L420.2 422.3L420.9 238.9L421.6 427.5L422.4 882.7L423.1 1337.9L423.8 1526.5L424.6 1338.1L425.3 883.5L426.1 428.9L426.8 240.6L427.5 426.3L428.3 874.9L429.0 1323.4L429.7 1509.1L430.5 1315.5L431.2 848.1L431.9 380.7L432.7 187.1L433.4 380.9L434.2 848.7L434.9 1316.5L435.6 1510.2L436.4 1317.0L437.1 850.4L437.8 383.9L438.6 190.6L439.3 381.4L440.0 842.0L440.8 1302.7L441.5 1493.5L442.2 1308.0L443.0 860.3L443.7 412.5L444.5 227.1L445.2 409.4L445.9 849.7L446.7 1290.0L447.4 1472.3L448.1 1284.5L448.9 830.9L449.6 377.3L450.3 189.4L451.1 381.4L451.8 844.8L452.5 1308.2L453.3 1500.1L454.0 1316.4L454.8 873.0L455.5 429.6L456.2 245.9L457.0 428.7L457.7 869.9L458.4 1311.1L459.2 1493.9L459.9 1301.5L460.6 837.2L461.4 372.8L462.1 180.4L462.8 380.2L463.6 862.6L464.3 1344.9L465.1 1544.8L465.8 1342.9L466.5 855.7L467.3 368.4L468.0 166.6L468.7 366.2L469.5 848.0L470.2 1329.9L470.9 1529.5L471.7 1341.6L472.4 888.2L473.1 434.8L473.9 247.0L474.6 427.1L475.4 861.9L476.1 1296.6L476.8 1476.7L477.6 1295.9L478.3 859.4L479.0 423.0L479.8 242.2L480.5 423.7L481.2 862.0L482.0 1300.3L482.7 1481.8L483.4 1296.7L484.2 849.8L484.9 403.0L485.7 217.9L486.4 402.5L487.1 848.3L487.9 1294.1L488.6 1478.8L489.3 1293.4L490.1 845.9L490.8 398.4L491.5 213.1L492.3 396.5L493.0 839.1L493.7 1281.8L494.5 1465.2L495.2 1284.8L496.0 849.4L496.7 414.0L497.4 233.6L498.2 413.6L498.9 848.1L499.6 1282.5L500.4 1462.5L501.1 1272.1L501.8 812.5L502.6 352.9L503.3 162.6L504.0 356.3L504.8 824.0L505.5 1291.6L506.3 1485.4L507.0 1302.9L507.7 862.3L508.5 421.7L509.2 239.3L509.9 430.4L510.7 892.0L511.4 1353.6L512.1 1544.8L512.9 1354.8L513.6 896.2L514.3 437.6L515.1 247.6L515.8 429.8L516.6 869.4L517.3 1309.0L518.0 1491.2L518.8 1302.4L519.5 846.8L520.2 391.2L521.0 202.5L521.7 393.1L522.4 853.4L523.2 1313.7L523.9 1504.3L524.6 1309.7L525.4 839.7L526.1 369.8L526.9 175.2L527.6 363.4L528.3 817.7L529.1 1272.1L529.8 1460.3L530.5 1282.9L531.3 854.3L532.0 425.8L532.7 248.3L533.5 431.3L534.2 873.0L534.9 1314.8L535.7 1497.7L536.4 1315.8L537.2 876.5L537.9 437.2L538.6 255.2L539.4 435.7L540.1 871.3L540.8 1306.9L541.6 1487.3L542.3 1300.6L543.0 850.0L543.8 399.3L544.5 212.7L545.3 399.2L546.0 849.5L546.7 1299.7L547.5 1486.2L548.2 1302.8L548.9 860.1L549.7 417.4L550.4 234.0L551.1 425.8L551.9 888.7L552.6 1351.7L553.3 1543.5L554.1 1351.6L554.8 888.3L555.6 425.1L556.3 233.2L557.0 418.0L557.8 864.2L558.5 1310.4L559.2 1495.2L560.0 1301.0L560.7 832.0L561.4 363.1L562.2 168.8L562.9 366.2L563.6 842.9L564.4 1319.5L565.1 1517.0L565.9 1327.9L566.6 871.6L567.3 415.2L568.1 226.2L568.8 413.1L569.5 864.4L570.3 1315.7L571.0 1502.6L571.7 1316.8L572.5 868.3L573.2 419.7L573.9 233.9L574.7 428.5L575.4 898.4L576.2 1368.2L576.9 1562.9L577.6 1364.7L578.4 886.3L579.1 407.9L579.8 209.8L580.6 404.0L581.3 873.0L582.0 1342.0L582.8 1536.2L583.5 1342.1L584.2 873.6L585.0 405.0L585.7 210.9L586.5 408.9L587.2 886.9L587.9 1364.9L588.7 1562.9L589.4 1361.2L590.1 874.2L590.9 387.2L591.6 185.4L592.3 375.8L593.1 835.3L593.8 1294.8L594.5 1485.1L595.3 1305.2L596.0 871.0L596.8 436.7L597.5 256.8L598.2 433.8L599.0 861.1L599.7 1288.4L600.4 1465.4L601.2 1283.6L601.9 844.8L602.6 405.9L603.4 224.1L604.1 407.0L604.8 848.3L605.6 1289.7L606.3 1472.6L607.1 1278.3L607.8 809.3L608.5 340.3L609.3 146.0L610.0 340.7L610.7 810.7L611.5 1280.7L612.2 1475.4L612.9 1297.1L613.7 866.5L614.4 436.0L615.1 257.7L615.9 444.4L616.6 895.3L617.4 1346.2L618.1 1533.0L618.8 1345.1L619.6 891.4L620.3 437.7L621.0 249.8L621.8 428.0L622.5 858.2L623.2 1288.3L624.0 1466.5L624.7 1285.7L625.4 849.1L626.2 412.6L626.9 231.8L627.7 416.2L628.4 861.5L629.1 1306.8L629.9 1491.2L630.6 1310.1L631.3 873.0L632.1 435.9L632.8 254.8L633.5 434.4L634.3 867.8L635.0 1301.3L635.7 1480.8L636.5 1296.6L637.2 851.9L638.0 407.2L638.7 223.0L639.4 406.7L640.2 850.2L640.9 1293.6L641.6 1477.3L642.4 1295.7L643.1 857.3L643.8 418.8L644.6 237.2L645.3 423.0L646.0 871.4L646.8 1319.7L647.5 1505.5L648.3 1314.7L649.0 854.1L649.7 393.5L650.5 202.7L651.2 397.2L651.9 866.6L652.7 1336.1L653.4 1530.6L654.1 1339.4L654.9 877.7L655.6 416.0L656.3 224.7L657.1 410.0L657.8 857.2L658.6 1304.3L659.3 1489.6L660.0 1292.8L660.8 817.8L661.5 342.8L662.2 146.0L663.0 343.7L663.7 821.0L664.4 1298.3L665.2 1496.0L665.9 1309.7L666.7 859.7L667.4 409.8L668.1 223.4L668.9 410.8L669.6 863.0L670.3 1315.2L671.1 1502.5L671.8 1314.5L672.5 860.7L673.3 406.8L674.0 218.8L674.7 405.1L675.5 854.8L676.2 1304.6L677.0 1490.9L677.7 1301.7L678.4 845.0L679.2 388.3L679.9 199.2L680.6 386.1L681.4 837.5L682.1 1289.0L682.8 1475.9L683.6 1295.5L684.3 859.8L685.0 424.1L685.8 243.6L686.5 433.4L687.3 891.6L688.0 1349.8L688.7 1539.6L689.5 1346.5L690.2 880.4L690.9 414.2L691.7 221.1L692.4 404.3L693.1 846.4L693.9 1288.5L694.6 1471.6L695.3 1287.4L696.1 842.9L696.8 398.3L697.6 214.1L698.3 397.6L699.0 840.6L699.8 1283.6L700.5 1467.1L701.2 1285.5L702.0 847.2L702.7 408.9L703.4 227.3L704.2 416.6L704.9 873.5L705.6 1330.4L706.4 1519.6L707.1 1333.9L707.9 885.5L708.6 437.1L709.3 251.4L710.1 432.0L710.8 867.8L711.5 1303.7L712.3 1484.2L713.0 1299.9L713.7 854.9L714.5 409.9L715.2 225.6L715.9 409.6L716.7 853.8L717.4 1298.0L718.2 1482.0L718.9 1294.0L719.6 840.0L720.4 386.1L721.1 198.1L721.8 384.2L722.6 833.7L723.3 1283.1L724.0 1469.2L724.8 1287.6L725.5 849.1L726.2 410.6L727.0 228.9L727.7 413.3L728.5 858.3L729.2 1303.4L729.9 1487.7L730.7 1295.6L731.4 831.6L732.1 367.7L732.9 175.5L733.6 367.8L734.3 832.1L735.1 1296.3L735.8 1488.6L736.5 1302.9L737.3 854.4L738.0 406.0L738.8 220.3L739.5 404.4L740.2 848.8L741.0 1293.2L741.7 1477.3L742.4 1294.4L743.2 852.7L743.9 411.0L744.6 228.1L745.4 423.6L746.1 895.5L746.8 1367.4L747.6 1562.9L748.3 1368.2L749.1 898.1L749.8 428.1L750.5 233.4L751.3 419.7L752.0 869.4L752.7 1319.2L753.5 1505.5L754.2 1309.9L754.9 837.8L755.7 365.6L756.4 170.0L757.1 367.1L757.9 843.0L758.6 1318.8L759.4 1515.9L760.1 1325.8L760.8 866.8L761.6 407.8L762.3 217.7L763.0 404.7L763.8 856.0L764.5 1307.4L765.2 1494.4L766.0 1307.0L766.7 854.7L767.4 402.4L768.2 215.1L768.9 408.7L769.7 876.1L770.4 1343.5L771.1 1537.2L771.9 1347.2L772.6 888.6L773.3 430.1L774.1 240.1L774.8 422.1L775.5 861.4L776.3 1300.7L777.0 1482.7L777.7 1298.7L778.5 854.4L779.2 410.2L780.0 226.2L780.7 410.6L781.4 855.9L782.2 1301.1L782.9 1485.5L783.6 1288.9L784.4 814.1L785.1 339.4L785.8 142.7L786.6 337.9L787.3 808.9L788.1 1280.0L788.8 1475.2L789.5 1292.9L790.3 853.0L791.0 413.1L791.7 230.9L792.5 412.1L793.2 849.7L793.9 1287.2L794.7 1468.5L795.4 1285.7L796.1 844.4L796.9 403.0L797.6 220.2L798.4 404.2L799.1 848.4L799.8 1292.6L800.6 1476.6L801.3 1291.3L802.0 844.0L802.8 396.6L803.5 211.3L804.2 397.0L805.0 845.2L805.7 1293.3L806.4 1479.0L807.2 1285.0L807.9 816.6L808.7 348.2L809.4 154.2L810.1 348.9L810.9 818.8L811.6 1288.7L812.3 1483.3L813.1 1303.6L813.8 869.8L814.5 435.9L815.3 256.2L816.0 438.0L816.7 877.0L817.5 1315.9L818.2 1497.7L819.0 1316.7L819.7 879.7L820.4 442.7L821.2 261.7L821.9 438.6L822.6 865.6L823.4 1292.7L824.1 1469.6L824.8 1294.1L825.6 870.4L826.3 446.6L827.0 271.1L827.8 451.6L828.5 887.5L829.3 1323.4L830.0 1503.9L830.7 1319.1L831.5 873.1L832.2 427.1L832.9 242.3L833.7 421.1L834.4 852.8L835.1 1284.4L835.9 1463.2L836.6 1285.2L837.3 855.3L838.1 425.4L838.8 247.3L839.6 426.3L840.3 858.6L841.0 1290.8L841.8 1469.8L842.5 1283.9L843.2 835.2L844.0 386.5L844.7 200.6L845.4 385.4L846.2 831.5L846.9 1277.5L847.6 1462.3L848.4 1285.3L849.1 858.1L849.9 430.8L850.6 253.8L851.3 435.4L852.1 873.6L852.8 1311.9L853.5 1493.4L854.3 1312.9L855.0 877.0L855.7 441.2L856.5 260.7L857.2 437.0L857.9 862.7L858.7 1288.4L859.4 1464.7L860.2 1286.5L860.9 856.5L861.6 426.5L862.4 248.3L863.1 426.1L863.8 855.2L864.6 1284.3L865.3 1462.1L866.0 1277.5L866.8 831.8L867.5 386.2L868.2 201.6L869.0 389.8L869.7 844.3L870.5 1298.8L871.2 1487.1L871.9 1295.0L872.7 831.3L873.4 367.6L874.1 175.5L874.9 366.1L875.6 826.2L876.3 1286.3L877.1 1476.9L877.8 1292.1L878.5 846.0L879.3 399.9L880.0 215.1L880.8 402.0L881.5 853.0L882.2 1304.1L883.0 1491.0L883.7 1304.3L884.4 853.6L885.2 402.9L885.9 216.2L886.6 404.0L887.4 857.4L888.1 1310.7L888.8 1498.5L889.6 1313.4L890.3 866.6L891.1 419.8L891.8 234.7L892.5 416.6L893.3 855.8L894.0 1294.9L894.7 1476.8L895.5 1291.1L896.2 842.8L896.9 394.5L897.7 208.8L898.4 394.9L899.2 844.2L899.9 1293.5L900.6 1479.6L901.4 1296.7L902.1 855.1L902.8 413.5L903.6 230.6L904.3 421.4L905.0 882.2L905.8 1343.0L906.5 1533.9L907.2 1332.7L908.0 846.8L908.7 360.9L909.5 159.7L910.2 363.2L910.9 854.5L911.7 1047.2L912.4 1127.1L913.1 1047.1L913.9 854.1L914.6 661.0L915.3 581.1L916.1 660.9L916.8 853.6L917.5 1046.3L918.3 1126.1L919.0 1046.5L919.8 854.5L920.5 662.4L921.2 582.8L922.0 662.5L922.7 854.9L923.4 1047.3L924.2 1127.0L924.9 1047.3L925.6 854.9L926.4 662.5L927.1 582.8L927.8 662.4L928.6 854.4L929.3 1046.5L930.1 1126.1L930.8 1046.4L931.5 854.1L932.3 661.7L933.0 582.0L933.7 661.9L934.5 854.9L935.2 1047.8L935.9 1127.7L936.7 1047.8L937.4 854.7L938.1 661.7L938.9 581.7L939.6 661.7L940.4 854.7L941.1 1047.7L941.8 1127.7L942.6 1047.7L943.3 854.7L944.0 661.7L944.8 581.7L945.5 661.6L946.2 854.4L947.0 1047.3L947.7 1127.2L948.4 1047.2L949.2 854.3L949.9 661.3L950.7 581.4L951.4 661.2L952.1 854.0L952.9 1046.8L953.6 1126.6L954.3 1046.9L955.1 854.3L955.8 661.8L956.5 582.1L957.3 661.8L958.0 854.4L958.7 1047.0L959.5 1126.8L960.2 1047.1L961.0 854.5L961.7 661.9L962.4 582.2L963.2 661.8L963.9 854.2L964.6 1046.6L965.4 1126.3L966.1 1046.6L966.8 854.2L967.6 661.8L968.3 582.2L969.0 661.9L969.8 854.4L970.5 1047.0L971.3 1126.7L972.0 1046.8L972.7 854.0L973.5 661.1L974.2 581.3L974.9 661.1L975.7 853.9L976.4 1046.6L977.1 1126.5L977.9 1046.7L978.6 853.9L979.3 661.2L980.1 581.4L980.8 661.2L981.6 854.0L982.3 1046.7L983.0 1126.6L983.8 1046.6L984.5 853.7L985.2 660.7L986.0 580.8L986.7 660.7L987.4 853.5L988.2 1046.4L988.9 1126.3L989.6 1046.9L990.4 855.1L991.1 663.4L991.9 584.0L992.6 663.6L993.3 855.7L994.1 1047.8L994.8 1127.4L995.5 1047.5L996.3 854.5L997.0 661.6L997.7 581.6L998.5 661.5L999.2 854.4L999.9 1047.3L1000.7 1127.2L1001.4 1047.2L1002.2 854.1L1002.9 660.9L1003.6 580.9L1004.4 661.0L1005.1 854.3L1005.8 1047.6L1006.6 1127.7L1007.3 1047.8L1008.0 855.0L1008.8 662.2L1009.5 582.3L1010.2 662.0L1011.0 854.3L1011.7 1046.7L1012.5 1126.4L1013.2 1046.6L1013.9 854.1L1014.7 661.6L1015.4 581.8L1016.1 661.6L1016.9 854.2L1017.6 1046.7L1018.3 1126.5L1019.1 1046.8L1019.8 854.4L1020.6 662.0L1021.3 582.3L1022.0 662.0L1022.8 854.5L1023.5 1046.9L1024.2 1126.6L1025.0 1046.8L1025.7 853.9L1026.4 661.1L1027.2 581.3L1027.9 661.3L1028.6 854.5L1029.4 1047.7L1030.1 1127.7L1030.9 1047.8L1031.6 854.8L1032.3 661.8L1033.1 581.9L1033.8 661.8L1034.5 854.7L1035.3 1047.7L1036.0 1127.6L1036.7 1047.8L1037.5 855.0L1038.2 662.2L1038.9 582.4L1039.7 662.1L1040.4 854.6L1041.2 1047.2L1041.9 1126.9L1042.6 1047.0L1043.4 854.2L1044.1 661.3L1044.8 581.4L1045.6 661.3L1046.3 854.0L1047.0 1046.7L1047.8 1126.5L1048.5 1046.6L1049.2 853.8L1050.0 660.9L1050.7 581.0L1051.5 660.9L1052.2 853.9L1052.9 1046.9L1053.7 1126.9L1054.4 1047.1L1055.1 854.4L1055.9 661.7L1056.6 581.9L1057.3 661.8L1058.1 854.7L1058.8 1047.6L1059.5 1127.5L1060.3 1047.8L1061.0 855.2L1061.8 662.6L1062.5 582.9L1063.2 662.6L1064.0 855.1L1064.7 1047.5L1065.4 1127.3L1066.2 1047.4L1066.9 854.7L1067.6 662.0L1068.4 582.2L1069.1 661.8L1069.8 854.0L1070.6 1046.2L1071.3 1125.8L1072.1 1046.2L1072.8 854.0L1073.5 661.8L1074.3 582.1L1075.0 662.0L1075.7 854.8L1076.5 1047.5L1077.2 1127.4L1077.9 1047.7L1078.7 855.4L1079.4 663.0L1080.1 583.4L1080.9 663.0L1081.6 855.3L1082.4 1047.5L1083.1 1127.2L1083.8 1047.5L1084.6 855.3L1085.3 663.0L1086.0 583.3L1086.8 662.9L1087.5 854.9L1088.2 1046.9L1089.0 1126.5L1089.7 1046.8L1090.4 854.3L1091.2 661.8L1091.9 582.1L1092.7 662.0L1093.4 855.0L1094.1 1048.0L1094.9 1128.0L1095.6 1048.0L1096.3 854.9L1097.1 661.8L1097.8 581.8L1098.5 661.7L1099.3 854.4L1100.0 1047.2L1100.7 1127.1L1101.5 1047.2L1102.2 854.3L1103.0 661.4L1103.7 581.6L1104.4 661.5L1105.2 854.5L1105.9 1047.5L1106.6 1127.5L1107.4 1047.6L1108.1 854.7L1108.8 661.8L1109.6 582.0L1110.3 661.8L1111.0 854.5L1111.8 1047.2L1112.5 1127.1L1113.3 1047.2L1114.0 854.4L1114.7 661.6L1115.5 581.7L1116.2 661.5L1116.9 854.2L1117.7 1046.9L1118.4 1126.7L1119.1 1046.8L1119.9 854.0L1120.6 661.1L1121.3 581.3L1122.1 661.2L1122.8 854.3L1123.6 1047.3L1124.3 1127.3L1125.0 1047.3L1125.8 854.3L1126.5 661.3L1127.2 581.4L1128.0 661.4L1128.7 854.5L1129.4 1047.6L1130.2 1127.6L1130.9 1047.8L1131.6 855.0L1132.4 662.3L1133.1 582.4L1133.9 662.1L1134.6 854.6L1135.3 1047.0L1136.1 1126.7L1136.8 1046.9L1137.5 854.2L1138.3 661.6L1139.0 581.7L1139.7 661.6L1140.5 854.2L1141.2 1046.9L1142.0 1126.7L1142.7 1047.0L1143.4 854.4L1144.2 661.9L1144.9 582.1L1145.6 661.9L1146.4 854.5L1147.1 1047.0L1147.8 1126.8L1148.6 1047.0L1149.3 854.4L1150.0 661.8L1150.8 582.1L1151.5 661.9L1152.3 854.8L1153.0 1047.6L1153.7 1127.5L1154.5 1047.8L1155.2 855.4L1155.9 663.0L1156.7 583.3L1157.4 663.0L1158.1 855.4L1158.9 1047.7L1159.6 1127.4L1160.3 1047.6L1161.1 855.0L1161.8 662.4L1162.6 582.7L1163.3 662.5L1164.0 855.3L1164.8 1048.2L1165.5 1128.0L1166.2 1048.0L1167.0 854.9L1167.7 661.7L1168.4 581.7L1169.2 661.6L1169.9 854.6L1170.6 1047.6L1171.4 1127.6L1172.1 1047.6L1172.9 854.6L1173.6 661.5L1174.3 581.5L1175.1 661.4L1175.8 854.3L1176.5 1047.2L1177.3 1127.1L1178.0 1047.3L1178.7 854.7L1179.5 662.1L1180.2 582.3L1180.9 662.1L1181.7 854.7L1182.4 1047.3L1183.2 1127.0L1183.9 1047.1L1184.6 854.1L1185.4 661.1L1186.1 581.2L1186.8 661.1L1187.6 853.9L1188.3 1046.7L1189.0 1126.6L1189.8 1046.9L1190.5 854.4L1191.2 661.9L1192.0 582.2L1192.7 661.9L1193.5 854.4L1194.2 1046.9L1194.9 1126.7L1195.7 1046.9L1196.4 854.2L1197.1 661.6L1197.9 581.8L1198.6 661.7L1199.3 854.5L1200.1 1246.5L1200.8 1408.9L1201.5 1246.4L1202.3 854.0L1203.0 461.6L1203.8 299.0L1204.5 461.1L1205.2 852.2L1206.0 1243.4L1206.7 1405.5L1207.4 1244.2L1208.2 854.8L1208.9 465.5L1209.6 304.2L1210.4 465.7L1211.1 855.4L1211.8 1245.1L1212.6 1406.5L1213.3 1244.9L1214.1 854.7L1214.8 464.6L1215.5 302.9L1216.3 464.2L1217.0 853.7L1217.7 1243.1L1218.5 1404.4L1219.2 1243.2L1219.9 854.0L1220.7 464.7L1221.4 303.5L1222.1 464.9L1222.9 854.5L1223.6 1337.4L1224.4 1537.4L1225.1 1344.1L1225.8 877.3L1226.6 410.6L1227.3 217.3L1228.0 405.1L1228.8 858.4L1229.5 1311.8L1230.2 1499.6L1231.0 1310.2L1231.7 852.9L1232.4 395.6L1233.2 206.2L1233.9 401.3L1234.7 872.5L1235.4 1343.6L1236.1 1538.7L1236.9 1338.7L1237.6 855.9L1238.3 373.0L1239.1 173.0L1239.8 365.6L1240.5 830.6L1241.3 1295.6L1242.0 1488.2L1242.7 1305.3L1243.5 864.0L1244.2 422.6L1245.0 239.8L1245.7 420.8L1246.4 857.7L1247.2 1294.6L1247.9 1475.5L1248.6 1289.6L1249.4 840.8L1250.1 391.9L1250.8 206.0L1251.6 395.7L1252.3 853.6L1253.1 1311.5L1253.8 1501.2L1254.5 1312.9L1255.3 858.5L1256.0 404.1L1256.7 215.8L1257.5 409.2L1258.2 876.1L1258.9 1342.9L1259.7 1536.3L1260.4 1343.3L1261.1 877.4L1261.9 411.4L1262.6 218.4L1263.4 409.4L1264.1 870.4L1264.8 1331.4L1265.6 1522.3L1266.3 1324.1L1267.0 845.5L1267.8 366.9L1268.5 168.6L1269.2 364.7L1270.0 838.2L1270.7 1311.6L1271.4 1507.7L1272.2 1320.4L1272.9 868.2L1273.7 415.9L1274.4 228.6L1275.1 417.3L1275.9 873.0L1276.6 1328.7L1277.3 1517.5L1278.1 1323.2L1278.8 854.2L1279.5 385.2L1280.3 191.0L1281.0 388.7L1281.7 866.0L1282.5 1343.3L1283.2 1541.0L1284.0 1350.2L1284.7 889.6L1285.4 429.0L1286.2 238.2L1286.9 420.3L1287.6 860.2L1288.4 1300.0L1289.1 1482.2L1289.8 1292.0L1290.6 832.8L1291.3 373.6L1292.0 183.4L1292.8 374.0L1293.5 834.1L1294.3 1294.3L1295.0 1484.9L1295.7 1301.7L1296.5 859.5L1297.2 417.3L1297.9 234.1L1298.7 419.8L1299.4 868.1L1300.1 1316.5L1300.9 1502.2L1301.6 1316.5L1302.3 868.4L1303.1 420.2L1303.8 234.6L1304.6 417.2L1305.3 858.3L1306.0 1299.4L1306.8 1482.1L1307.5 1298.7L1308.2 855.9L1309.0 413.1L1309.7 229.7L1310.4 424.0L1311.2 893.0L1311.9 1362.0L1312.6 1556.3L1313.4 1362.2L1314.1 893.8L1314.9 425.3L1315.6 231.2L1316.3 417.1L1317.1 865.8L1317.8 1314.6L1318.5 1500.5L1319.3 1303.7L1320.0 828.8L1320.7 353.8L1321.5 157.1L1322.2 353.4L1322.9 827.3L1323.7 1301.3L1324.4 1497.6L1325.2 1310.3L1325.9 858.3L1326.6 406.4L1327.4 219.1L1328.1 411.4L1328.8 875.6L1329.6 1339.9L1330.3 1532.1L1331.0 1341.6L1331.8 881.5L1332.5 421.5L1333.2 230.9L1334.0 419.2L1334.7 873.8L1335.5 1328.4L1336.2 1516.6L1336.9 1327.1L1337.7 869.4L1338.4 411.7L1339.1 222.1L1339.9 408.8L1340.6 859.5L1341.3 1310.1L1342.1 1496.8L1342.8 1312.3L1343.5 866.9L1344.3 421.5L1345.0 237.0L1345.8 424.7L1346.5 878.0L1347.2 1331.3L1348.0 1519.1L1348.7 1332.6L1349.4 882.3L1350.2 432.0L1350.9 245.4L1351.6 426.0L1352.4 862.1L1353.1 1298.2L1353.8 1478.8L1354.6 1298.1L1355.3 862.0L1356.1 425.8L1356.8 245.2L1357.5 423.5L1358.3 854.1L1359.0 1284.7L1359.7 1463.1L1360.5 1284.1L1361.2 852.1L1361.9 420.1L1362.7 241.2L1363.4 425.6L1364.1 870.8L1364.9 1316.0L1365.6 1500.5L1366.4 1310.0L1367.1 850.1L1367.8 390.2L1368.6 199.7L1369.3 392.0L1370.0 856.2L1370.8 1320.4L1371.5 1512.6L1372.2 1327.8L1373.0 881.4L1373.7 435.0L1374.5 250.2L1375.2 432.2L1375.9 871.7L1376.7 1311.2L1377.4 1493.3L1378.1 1298.9L1378.9 829.4L1379.6 360.0L1380.3 165.6L1381.1 359.3L1381.8 827.0L1382.5 1294.6L1383.3 1488.3L1384.0 1303.6L1384.8 857.6L1385.5 411.6L1386.2 226.9L1387.0 413.7L1387.7 864.6L1388.4 1315.5L1389.2 1502.3L1389.9 1305.8L1390.6 831.2L1391.4 356.7L1392.1 160.2L1392.8 356.9L1393.6 831.7L1394.3 1306.5L1395.1 1503.2L1395.8 1319.9L1396.5 877.2L1397.3 434.5L1398.0 251.1L1398.7 431.7L1399.5 867.6L1400.2 1303.6L1400.9 1484.2L1401.7 1294.2L1402.4 835.6L1403.1 377.1L1403.9 187.1L1404.6 384.2L1405.4 859.9L1406.1 1335.6L1406.8 1532.7L1407.6 1343.5L1408.3 886.6L1409.0 429.8L1409.8 240.5L1410.5 426.1L1411.2 874.2L1412.0 1322.2L1412.7 1507.8L1413.4 1314.2L1414.2 846.8L1414.9 379.4L1415.7 185.8L1416.4 377.7L1417.1 841.1L1417.9 1304.4L1418.6 1496.3L1419.3 1307.0L1420.1 850.0L1420.8 392.9L1421.5 203.6L1422.3 398.7L1423.0 869.8L1423.7 1340.8L1424.5 1535.9L1425.2 1341.7L1426.0 872.9L1426.7 404.1L1427.4 209.9L1428.2 399.3L1428.9 856.6L1429.6 1313.9L1430.4 1503.3L1431.1 1315.5L1431.8 862.3L1432.6 409.0L1433.3 221.3L1434.0 413.7L1434.8 878.4L1435.5 1343.0L1436.3 1535.5L1437.0 1332.6L1437.7 842.8L1438.5 353.0L1439.2 150.1L1439.9 349.5L1440.7 831.0L1441.4 1312.5L1442.1 1511.9L1442.9 1319.3L1443.6 854.3L1444.3 389.3L1445.1 196.7L1445.8 385.5L1446.6 841.5L1447.3 1297.5L1448.0 1486.3L1448.8 1299.9L1449.5 849.8L1450.2 399.8L1451.0 213.3L1451.7 404.0L1452.4 864.4L1453.2 1324.7L1453.9 1515.4L1454.6 1325.0L1455.4 865.4L1456.1 405.8L1456.9 215.4L1457.6 401.0L1458.3 848.8L1459.1 1296.7L1459.8 1482.2L1460.5 1300.2L1461.3 860.8L1462.0 421.4L1462.7 239.4L1463.5 427.8L1464.2 882.8L1464.9 1337.8L1465.7 1526.2L1466.4 1337.9L1467.2 883.2L1467.9 428.5L1468.6 240.1L1469.4 420.3L1470.1 855.3L1470.8 1290.3L1471.6 1470.5L1472.3 1285.9L1473.0 840.3L1473.8 394.7L1474.5 210.1L1475.2 398.7L1476.0 854.1L1476.7 1309.5L1477.5 1498.1L1478.2 1300.5L1478.9 823.4L1479.7 346.3L1480.4 148.7L1481.1 343.1L1481.9 812.5L1482.6 1281.8L1483.3 1476.3L1484.1 1291.3L1484.8 844.8L1485.5 398.3L1486.3 213.4L1487.0 399.9L1487.8 850.1L1488.5 1300.4L1489.2 1486.9L1490.0 1300.3L1490.7 849.9L1491.4 399.4L1492.2 212.9L1492.9 400.2L1493.6 852.6L1494.4 1305.0L1495.1 1492.4L1495.9 1303.5L1496.6 847.6L1497.3 391.7L1498.1 202.8L1498.8 394.5L1499.5 857.4L1500.3 1320.3L1501.0 1512.1L1501.7 1319.5L1502.5 854.6L1503.2 389.7L1503.9 197.1L1504.7 388.7L1505.4 851.2L1506.2 1313.8L1506.9 1505.4L1507.6 1318.1L1508.4 865.9L1509.1 413.6L1509.8 226.3L1510.6 416.4L1511.3 875.2L1512.0 1334.1L1512.8 1524.1L1513.5 1329.4L1514.2 859.4L1515.0 389.4L1515.7 194.7L1516.5 389.1L1517.2 858.5L1517.9 1327.9L1518.7 1522.3L1519.4 1331.4L1520.1 870.7L1520.9 409.9L1521.6 219.0L1522.3 406.8L1523.1 860.2L1523.8 1313.5L1524.5 1501.3L1525.3 1307.0L1526.0 837.8L1526.8 368.6L1527.5 174.2L1528.2 369.2L1529.0 839.8L1529.7 1310.4L1530.4 1505.4L1531.2 1314.0L1531.9 852.1L1532.6 390.1L1533.4 198.8L1534.1 394.9L1534.8 868.3L1535.6 1341.8L1536.3 1537.9L1537.1 1345.5L1537.8 880.9L1538.5 416.2L1539.3 223.8L1540.0 412.8L1540.7 869.3L1541.5 1325.7L1542.2 1514.8L1542.9 1324.8L1543.7 866.2L1544.4 407.6L1545.1 217.6L1545.9 408.4L1546.6 868.9L1547.4 1329.3L1548.1 1520.1L1548.8 1330.5L1549.6 872.9L1550.3 415.2L1551.0 225.7L1551.8 413.9L1552.5 868.3L1553.2 1322.7L1554.0 1510.9L1554.7 1316.5L1555.4 847.1L1556.2 377.7L1556.9 183.2L1557.7 372.9L1558.4 830.9L1559.1 1288.9L1559.9 1478.6L1560.6 1297.4L1561.3 859.8L1562.1 422.3L1562.8 241.0L1563.5 430.7L1564.3 888.7L1565.0 1346.7L1565.7 1536.4L1566.5 1333.3L1567.2 842.9L1568.0 352.4L1568.7 149.3L1569.4 344.0L1570.2 814.1L1570.9 1284.2L1571.6 1478.9L1572.4 1297.5L1573.1 859.5L1573.8 421.5L1574.6 240.0L1575.3 420.4L1576.0 855.9L1576.8 1291.4L1577.5 1471.7L1578.3 1286.5L1579.0 839.3L1579.7 392.0L1580.5 206.8L1581.2 398.1L1581.9 859.9L1582.7 1321.8L1583.4 1513.1L1584.1 1320.7L1584.9 856.4L1585.6 392.0L1586.3 199.7L1587.1 385.6L1587.8 834.6L1588.6 1283.6L1589.3 1469.6L1590.0 1286.1L1590.8 843.0L1591.5 399.9L1592.2 216.4L1593.0 403.8L1593.7 856.3L1594.4 1308.9L1595.2 1496.3L1595.9 1302.0L1596.6 832.9L1597.4 363.8L1598.1 169.4L1598.9 361.3L1599.6 824.4L1600.3 1287.5L1601.1 1479.3L1601.8 1296.1L1602.5 853.7L1603.3 411.2L1604.0 228.0L1604.7 420.7L1605.5 886.1L1606.2 1351.5L1607.0 1544.3L1607.7 1348.7L1608.4 876.4L1609.2 404.1L1609.9 208.4L1610.6 398.8L1611.4 858.4L1612.1 1318.0L1612.8 1508.3L1613.6 1320.8L1614.3 867.9L1615.0 415.1L1615.8 227.5L1616.5 418.7L1617.3 880.1L1618.0 1341.6L1618.7 1532.7L1619.5 1344.9L1620.2 891.4L1620.9 437.9L1621.7 250.1L1622.4 429.3L1623.1 862.2L1623.9 1295.0L1624.6 1474.3L1625.3 1287.9L1626.1 838.0L1626.8 388.1L1627.6 201.7L1628.3 389.4L1629.0 842.5L1629.8 1295.6L1630.5 1483.2L1631.2 1297.6L1632.0 849.6L1632.7 401.6L1633.4 216.0L1634.2 411.9L1634.9 884.7L1635.6 1357.6L1636.4 1553.5L1637.1 1359.1L1637.9 889.9L1638.6 420.7L1639.3 226.3L1640.1 412.8L1640.8 863.1L1641.5 1313.4L1642.3 1499.9L1643.0 1307.3L1643.7 842.2L1644.5 377.1L1645.2 184.5L1645.9 374.4L1646.7 832.8L1647.4 1291.1L1648.2 1481.0L1648.9 1291.0L1649.6 832.4L1650.4 373.7L1651.1 183.7L1651.8 379.1L1652.6 850.8L1653.3 1322.6L1654.0 1518.0L1654.8 1328.8L1655.5 872.0L1656.2 415.2L1657.0 226.0L1657.7 413.7L1658.5 866.7L1659.2 1319.7L1659.9 1507.3L1660.7 1317.9L1661.4 860.6L1662.1 403.3L1662.9 213.8L1663.6 403.2L1664.3 860.4L1665.1 1317.7L1665.8 1507.0L1666.5 1316.2L1667.3 855.6L1668.0 394.9L1668.8 204.1L1669.5 389.9L1670.2 838.5L1671.0 1287.1L1671.7 1473.0L1672.4 1291.4L1673.2 853.0L1673.9 414.7L1674.6 233.1L1675.4 415.8L1676.1 856.9L1676.8 1298.1L1677.6 1480.8L1678.3 1296.1L1679.1 850.1L1679.8 404.2L1680.5 219.5L1681.3 407.2L1682.0 860.3L1682.7 1313.5L1683.5 1501.2L1684.2 1306.9L1684.9 837.9L1685.7 369.0L1686.4 174.7L1687.1 363.7L1687.9 819.9L1688.6 1276.1L1689.4 1465.1L1690.1 1281.4L1690.8 837.8L1691.6 394.3L1692.3 210.6L1693.0 396.4L1693.8 845.0L1694.5 1293.6L1695.2 1479.4L1696.0 1299.9L1696.7 866.5L1697.4 433.0L1698.2 253.5L1698.9 440.5L1699.7 891.9L1700.4 1343.3L1701.1 1530.3L1701.9 1340.0L1702.6 880.6L1703.3 421.2L1704.1 231.0L1704.8 414.4L1705.5 857.3L1706.3 1300.2L1707.0 1483.7L1707.7 1299.1L1708.5 853.7L1709.2 408.3L1710.0 223.7L1710.7 410.8L1711.4 862.4L1712.2 1313.9L1712.9 1501.0L1713.6 1313.7L1714.4 861.6L1715.1 409.5L1715.8 222.2L1716.6 414.2L1717.3 877.5L1718.0 1340.9L1718.8 1532.8L1719.5 1331.2L1720.3 844.6L1721.0 358.0L1721.7 156.4L1722.5 352.6L1723.2 826.2L1723.9 1299.7L1724.7 1495.9L1725.4 1312.9L1726.1 871.1L1726.9 429.3L1727.6 246.3L1728.4 434.9L1729.1 890.0L1729.8 1345.1L1730.6 1533.6L1731.3 1336.9L1732.0 862.0L1732.8 387.2L1733.5 190.5L1734.2 383.0L1735.0 847.6L1735.7 1312.2L1736.4 1504.7L1737.2 1311.9L1737.9 846.5L1738.7 381.1L1739.4 188.3L1740.1 383.0L1740.9 852.9L1741.6 1322.8L1742.3 1517.4L1743.1 1326.6L1743.8 866.1L1744.5 405.6L1745.3 214.8L1746.0 401.4L1746.7 852.0L1747.5 1302.5L1748.2 1489.1L1749.0 1303.7L1749.7 856.0L1750.4 408.4L1751.2 222.9L1751.9 414.4L1752.6 876.6L1753.4 1338.7L1754.1 1530.2L1754.8 1332.2L1755.6 854.3L1756.3 376.3L1757.0 178.4L1757.8 371.7L1758.5 838.5L1759.3 1305.3L1760.0 1498.7L1760.7 1304.7L1761.5 836.4L1762.2 368.2L1762.9 174.2L1763.7 372.8L1764.4 852.2L1765.1 1331.6L1765.9 1530.1L1766.6 1330.2L1767.3 847.7L1768.1 365.1L1768.8 165.2L1769.6 365.1L1770.3 847.8L1771.0 1330.5L1771.8 1530.4L1772.5 1332.6L1773.2 854.9L1774.0 377.3L1774.7 179.4L1775.4 374.2L1776.2 844.4L1776.9 1314.7L1777.6 1509.5L1778.4 1312.3L1779.1 836.4L1779.9 360.5L1780.6 163.4L1781.3 366.9L1782.1 858.2L1782.8 1349.5L1783.5 1553.0L1784.3 1357.5L1785.0 885.6L1785.7 413.7L1786.5 218.2L1787.2 411.1L1787.9 876.8L1788.7 1342.5L1789.4 1535.4L1790.2 1340.4L1790.9 869.6L1791.6 398.8L1792.4 203.8L1793.1 470.8L1793.8 854.5L1794.6 1238.1L1795.3 1397.0L1796.0 1238.0L1796.8 854.0L1797.5 470.1L1798.2 311.1L1799.0 470.0L1799.7 853.6L1800.5 1237.3L1801.2 1396.2L1801.9 1237.2L1802.7 853.5L1803.4 469.8L1804.1 310.8L1804.9 470.0L1805.6 854.1L1806.3 1238.3L1807.1 1397.4L1807.8 1238.3L1808.5 854.0L1809.3 469.8L1810.0 310.6L1810.8 469.8L1811.5 854.2L1812.2 1238.5L1813.0 1397.7L1813.7 1238.5L1814.4 854.2L1815.2 469.9L1815.9 310.8L1816.6 470.0L1817.4 854.6L1818.1 1239.1L1818.8 1398.4L1819.6 1239.3L1820.3 855.3L1821.1 471.3L1821.8 312.2L1822.5 471.0L1823.3 854.4L1824.0 1237.8L1824.7 1396.6L1825.5 1237.6L1826.2 853.7L1826.9 469.9L1827.7 310.9L1828.4 470.0L1829.1 854.3L1829.9 1238.6L1830.6 1397.8L1831.4 1238.8L1832.1 854.9L1832.8 471.0L1833.6 312.0L1834.3 470.9L1835.0 854.5L1835.8 1238.2L1836.5 1397.1L1837.2 1238.1L1838.0 854.5L1838.7 470.8L1839.5 311.9L1840.2 470.9L1840.9 854.9L1841.7 1238.8L1842.4 1397.8L1843.1 1238.9L1843.9 855.0L1844.6 471.2L1845.3 312.2L1846.1 471.0L1846.8 854.4L1847.5 1237.7L1848.3 1396.5L1849.0 1237.7L1849.8 854.1L1850.5 470.6L1851.2 311.7L1852.0 470.7L1852.7 854.3L1853.4 1238.0L1854.2 1396.9L1854.9 1237.9L1855.6 854.0L1856.4 470.1L1857.1 311.1" stroke="#0000ff" stroke-width="1.65"/>
</g>
<g font-family="Liberation Sans, sans-serif" font-size="39" fill="#262626">
<g text-anchor="middle">
<text x="234.7" y="1732">28.5</text>
<text x="381.9" y="1732">29</text>
<text x="529.0" y="1732">29.5</text>
<text x="676.2" y="1732">30</text>
<text x="823.3" y="1732">30.5</text>
<text x="970.5" y="1732">31</text>
<text x="1117.6" y="1732">31.5</text>
<text x="1264.8" y="1732">32</text>
<text x="1411.9" y="1732">32.5</text>
<text x="1559.1" y="1732">33</text>
<text x="1706.2" y="1732">33.5</text>
<text x="1853.4" y="1732">34</text>
</g><g text-anchor="end">
<text x="192.3" y="1693.0">-25</text>
<text x="192.3" y="1528.2">-20</text>
<text x="192.3" y="1363.5">-15</text>
<text x="192.3" y="1198.8">-10</text>
<text x="192.3" y="1034.0">-5</text>
<text x="192.3" y="869.2">0</text>
<text x="192.3" y="704.5">5</text>
<text x="192.3" y="539.8">10</text>
<text x="192.3" y="375.0">15</text>
<text x="192.3" y="210.2">20</text>
<text x="192.3" y="45.5">25</text>
</g></g>
<clipPath id="c1"><rect x="86.8" y="1127.8" width="683.0" height="424.20000000000005"/></clipPath>
<rect x="86.8" y="1127.8" width="683.0" height="424.20000000000005" fill="#fff"/>
<path d="M223.4 1127.8V1552.0M360.0 1127.8V1552.0M496.6 1127.8V1552.0M633.2 1127.8V1552.0M86.8 1509.6H769.8M86.8 1424.7H769.8M86.8 1339.9H769.8M86.8 1255.1H769.8M86.8 1170.2H769.8" stroke="#e3e3e3" stroke-width="1.15" fill="none"/>
<g clip-path="url(#c1)" fill="none" stroke-linejoin="round" stroke-width="2.9">
<path d="M85.4 1476.7L86.8 1475.1L88.2 1473.9L89.5 1473.6L90.9 1472.3L92.3 1471.0L93.6 1468.9L95.0 1467.4L96.4 1465.2L97.7 1464.4L99.1 1460.9L100.5 1459.2L101.8 1456.6L103.2 1454.5L104.6 1452.1L105.9 1449.1L107.3 1446.0L108.7 1443.6L110.0 1440.7L111.4 1437.2L112.8 1434.7L114.1 1432.0L115.5 1427.7L116.9 1424.6L118.2 1421.8L119.6 1417.8L121.0 1413.9L122.3 1410.4L123.7 1406.8L125.0 1402.2L126.4 1397.6L127.8 1394.0L129.1 1390.3L130.5 1385.7L131.9 1381.2L133.2 1377.5L134.6 1372.9L136.0 1368.3L137.3 1364.6L138.7 1360.7L140.1 1355.9L141.4 1351.4L142.8 1346.6L144.2 1343.3L145.5 1338.9L146.9 1334.6L148.3 1330.7L149.6 1325.5L151.0 1320.7L152.4 1316.9L153.7 1311.7L155.1 1307.5L156.5 1303.3L157.8 1299.2L159.2 1294.8L160.6 1291.8L161.9 1287.0L163.3 1282.8L164.7 1280.0L166.0 1275.3L167.4 1271.5L168.8 1267.2L170.1 1264.0L171.5 1260.3L172.9 1256.5L174.2 1253.6L175.6 1249.6L177.0 1246.5L178.3 1243.1L179.7 1240.4L181.1 1236.7L182.4 1233.8L183.8 1231.4L185.2 1228.4L186.5 1225.4L187.9 1222.6L189.3 1221.8L190.6 1218.7L192.0 1216.6L193.3 1214.9L194.7 1213.5L196.1 1210.7L197.4 1210.1L198.8 1207.9L200.2 1206.0L201.5 1206.1L202.9 1204.7L204.3 1204.1L205.6 1202.6L207.0 1201.1L208.4 1200.1L209.7 1201.4L211.1 1201.0L212.5 1200.1L213.8 1199.5L215.2 1200.0L216.6 1201.0L217.9 1201.0L219.3 1201.6L220.7 1202.4L222.0 1203.5L223.4 1203.9L224.8 1204.9L226.1 1206.3L227.5 1207.7L228.9 1209.8L230.2 1211.1L231.6 1211.9L233.0 1214.2L234.3 1216.9L235.7 1217.8L237.1 1220.1L238.4 1221.7L239.8 1225.0L241.2 1228.0L242.5 1231.3L243.9 1232.8L245.3 1235.1L246.6 1239.2L248.0 1242.6L249.4 1245.2L250.7 1249.1L252.1 1252.3L253.5 1255.8L254.8 1259.0L256.2 1262.1L257.5 1266.2L258.9 1269.6L260.3 1274.0L261.6 1277.7L263.0 1282.9L264.4 1286.8L265.7 1289.7L267.1 1294.3L268.5 1297.9L269.8 1302.0L271.2 1305.9L272.6 1310.3L273.9 1314.5L275.3 1319.4L276.7 1324.2L278.0 1328.7L279.4 1333.0L280.8 1337.6L282.1 1341.8L283.5 1345.9L284.9 1350.0L286.2 1354.6L287.6 1359.9L289.0 1363.5L290.3 1367.4L291.7 1371.2L293.1 1375.6L294.4 1380.5L295.8 1384.8L297.2 1387.6L298.5 1392.0L299.9 1395.6L301.3 1399.5L302.6 1404.6L304.0 1408.2L305.4 1411.9L306.7 1415.6L308.1 1419.2L309.5 1422.9L310.8 1426.5L312.2 1430.7L313.6 1433.6L314.9 1436.9L316.3 1439.7L317.7 1442.9L319.0 1445.3L320.4 1447.9L321.8 1450.8L323.1 1453.4L324.5 1456.0L325.9 1458.7L327.2 1460.9L328.6 1463.2L329.9 1464.8L331.3 1466.8L332.7 1468.3L334.0 1470.8L335.4 1471.4L336.8 1473.4L338.1 1474.8L339.5 1475.6L340.9 1476.8L342.2 1477.2L343.6 1478.2L345.0 1479.2L346.3 1479.6L347.7 1478.7L349.1 1479.3L350.4 1480.0L351.8 1479.5L353.2 1479.9L354.5 1478.0L355.9 1478.8L357.3 1477.4L358.6 1476.4L360.0 1476.4L361.4 1474.7L362.7 1473.0L364.1 1471.8L365.5 1470.5L366.8 1468.6L368.2 1467.2L369.6 1465.3L370.9 1463.6L372.3 1461.2L373.7 1459.7L375.0 1456.6L376.4 1454.7L377.8 1452.5L379.1 1449.2L380.5 1445.6L381.9 1442.9L383.2 1440.7L384.6 1437.2L386.0 1434.5L387.3 1431.2L388.7 1427.7L390.1 1425.4L391.4 1420.9L392.8 1417.7L394.2 1413.9L395.5 1410.6L396.9 1406.8L398.2 1402.7L399.6 1403.3L401.0 1379.3L402.3 1395.0L403.7 1378.7L405.1 1391.1L406.4 1414.8L407.8 1386.3L409.2 1370.9L410.5 1376.0L411.9 1362.4L413.3 1350.9L414.6 1365.2L416.0 1373.7L417.4 1353.0L418.7 1343.5L420.1 1339.1L421.5 1314.0L422.8 1292.6L424.2 1315.0L425.6 1300.0L426.9 1288.7L428.3 1285.3L429.7 1275.7L431.0 1290.8L432.4 1274.2L433.8 1247.5L435.1 1255.4L436.5 1275.2L437.9 1258.6L439.2 1241.6L440.6 1247.6L442.0 1260.0L443.3 1229.1L444.7 1260.1L446.1 1239.3L447.4 1239.4L448.8 1254.5L450.2 1220.3L451.5 1222.5L452.9 1243.6L454.3 1220.7L455.6 1228.6L457.0 1250.7L458.4 1236.6L459.7 1217.5L461.1 1205.7L462.4 1208.5L463.8 1209.8L465.2 1202.6L466.5 1209.9L467.9 1190.2L469.3 1199.6L470.6 1199.0L472.0 1194.5L473.4 1216.4L474.7 1216.2L476.1 1182.4L477.5 1191.2L478.8 1202.2L480.2 1195.4L481.6 1205.6L482.9 1196.7L484.3 1208.4L485.7 1197.3L487.0 1222.0L488.4 1185.1L489.8 1203.4L491.1 1224.0L492.5 1209.3L493.9 1208.2L495.2 1200.5L496.6 1218.3L498.0 1200.4L499.3 1170.2L500.7 1209.1L502.1 1201.0L503.4 1209.5L504.8 1205.0L506.2 1234.6L507.5 1233.3L508.9 1210.2L510.3 1213.1L511.6 1190.3L513.0 1220.7L514.4 1216.8L515.7 1187.7L517.1 1223.1L518.5 1238.6L519.8 1231.5L521.2 1231.9L522.6 1220.9L523.9 1231.0L525.3 1249.1L526.7 1241.7L528.0 1213.1L529.4 1220.6L530.7 1285.7L532.1 1267.6L533.5 1276.6L534.8 1259.8L536.2 1270.7L537.6 1245.6L538.9 1257.7L540.3 1264.9L541.7 1280.8L543.0 1292.0L544.4 1293.0L545.8 1283.0L547.1 1295.8L548.5 1316.1L549.9 1301.2L551.2 1317.7L552.6 1329.9L554.0 1347.8L555.3 1353.0L556.7 1359.6L558.1 1385.5L559.4 1354.4L560.8 1354.4L562.2 1370.0L563.5 1359.2L564.9 1369.4L566.3 1376.8L567.6 1422.6L569.0 1407.0L570.4 1394.8L571.7 1379.2L573.1 1376.2L574.5 1383.6L575.8 1427.3L577.2 1454.2L578.6 1425.8L579.9 1428.9L581.3 1418.5L582.7 1434.6L584.0 1435.9L585.4 1464.1L586.8 1444.5L588.1 1454.9L589.5 1447.7L590.9 1446.2L592.2 1456.2L593.6 1453.9L595.0 1459.8L596.3 1451.3L597.7 1454.4L599.1 1472.1L600.4 1478.3L601.8 1446.3L603.1 1466.8L604.5 1456.6L605.9 1463.9L607.2 1480.7L608.6 1488.4L610.0 1478.0L611.3 1474.0L612.7 1468.2L614.1 1495.1L615.4 1492.3L616.8 1484.4L618.2 1457.6L619.5 1509.8L620.9 1481.4L622.3 1488.9L623.6 1476.4L625.0 1486.9L626.4 1476.6L627.7 1456.1L629.1 1468.6L630.5 1470.3L631.8 1471.2L633.2 1487.6L634.6 1472.0L635.9 1478.6L637.3 1488.5L638.7 1478.8L640.0 1478.3L641.4 1462.7L642.8 1469.7L644.1 1477.6L645.5 1448.9L646.9 1447.5L648.2 1441.6L649.6 1448.5L651.0 1459.4L652.3 1465.1L653.7 1462.7L655.1 1442.1L656.4 1447.4L657.8 1470.4L659.2 1452.6L660.5 1466.3L661.9 1443.9L663.3 1456.1L664.6 1457.5L666.0 1434.6L667.3 1428.9L668.7 1448.1L670.1 1414.0L671.4 1382.0L672.8 1424.0L674.2 1382.2L675.5 1405.5L676.9 1404.9L678.3 1396.3L679.6 1409.2L681.0 1367.8L682.4 1365.5L683.7 1379.4L685.1 1371.8L686.5 1384.2L687.8 1365.9L689.2 1338.0L690.6 1366.3L691.9 1350.2L693.3 1333.4L694.7 1311.6L696.0 1297.6L697.4 1316.8L698.8 1321.8L700.1 1301.4L701.5 1304.5L702.9 1300.6L704.2 1275.3L705.6 1256.2L707.0 1269.0L708.3 1275.6L709.7 1262.5L711.1 1292.5L712.4 1269.1L713.8 1275.7L715.2 1223.2L716.5 1232.1L717.9 1240.2L719.3 1244.7L720.6 1272.8L722.0 1235.8L723.4 1209.5L724.7 1235.8L726.1 1219.5L727.5 1212.9L728.8 1243.2L730.2 1212.2L731.6 1196.6L732.9 1208.0L734.3 1213.8L735.6 1201.3L737.0 1231.5L738.4 1213.7L739.7 1193.9L741.1 1222.1L742.5 1195.1L743.8 1208.5L745.2 1235.8L746.6 1212.6L747.9 1219.1L749.3 1201.1L750.7 1218.2L752.0 1189.2L753.4 1208.1L754.8 1196.4L756.1 1207.4L757.5 1206.0L758.9 1183.1L760.2 1191.9L761.6 1203.2L763.0 1218.9L764.3 1187.2L765.7 1185.9L767.1 1201.6L768.4 1197.5L769.8 1215.8L771.2 1220.8" stroke="#ff0000"/>
<path d="M85.4 1295.4L86.8 1299.4L88.2 1303.6L89.5 1308.4L90.9 1312.0L92.3 1316.2L93.6 1320.8L95.0 1324.7L96.4 1329.7L97.7 1334.1L99.1 1338.2L100.5 1342.8L101.8 1346.8L103.2 1352.1L104.6 1355.3L105.9 1360.5L107.3 1364.8L108.7 1369.7L110.0 1373.1L111.4 1376.8L112.8 1380.9L114.1 1385.2L115.5 1390.6L116.9 1394.5L118.2 1398.4L119.6 1402.5L121.0 1405.4L122.3 1409.5L123.7 1413.4L125.0 1416.9L126.4 1421.2L127.8 1424.8L129.1 1428.3L130.5 1431.0L131.9 1434.2L133.2 1437.2L134.6 1440.0L136.0 1444.1L137.3 1446.9L138.7 1449.3L140.1 1452.6L141.4 1454.9L142.8 1456.5L144.2 1458.6L145.5 1460.8L146.9 1463.4L148.3 1465.6L149.6 1466.9L151.0 1469.2L152.4 1470.6L153.7 1471.5L155.1 1473.5L156.5 1475.0L157.8 1475.9L159.2 1476.4L160.6 1477.2L161.9 1478.0L163.3 1478.4L164.7 1479.8L166.0 1480.0L167.4 1479.5L168.8 1479.9L170.1 1480.1L171.5 1479.8L172.9 1479.2L174.2 1478.2L175.6 1477.8L177.0 1476.4L178.3 1474.6L179.7 1474.2L181.1 1472.4L182.4 1471.4L183.8 1470.7L185.2 1468.8L186.5 1467.4L187.9 1464.7L189.3 1463.4L190.6 1460.2L192.0 1458.1L193.3 1457.1L194.7 1453.5L196.1 1450.2L197.4 1448.6L198.8 1445.1L200.2 1443.4L201.5 1439.7L202.9 1437.4L204.3 1433.3L205.6 1430.9L207.0 1427.7L208.4 1423.3L209.7 1418.4L211.1 1415.9L212.5 1411.8L213.8 1408.3L215.2 1404.7L216.6 1400.4L217.9 1395.8L219.3 1393.0L220.7 1388.4L222.0 1384.2L223.4 1380.9L224.8 1375.4L226.1 1370.6L227.5 1367.7L228.9 1362.3L230.2 1358.6L231.6 1354.5L233.0 1349.4L234.3 1345.4L235.7 1341.1L237.1 1336.1L238.4 1331.7L239.8 1327.6L241.2 1324.4L242.5 1320.4L243.9 1314.8L245.3 1311.3L246.6 1306.6L248.0 1302.9L249.4 1298.4L250.7 1294.7L252.1 1289.2L253.5 1286.2L254.8 1282.0L256.2 1278.0L257.5 1273.4L258.9 1270.7L260.3 1266.5L261.6 1262.8L263.0 1258.8L264.4 1255.2L265.7 1252.2L267.1 1248.6L268.5 1245.6L269.8 1242.1L271.2 1239.2L272.6 1236.5L273.9 1233.4L275.3 1230.4L276.7 1226.7L278.0 1225.3L279.4 1222.7L280.8 1219.7L282.1 1219.2L283.5 1217.3L284.9 1215.1L286.2 1212.7L287.6 1209.6L289.0 1208.6L290.3 1206.9L291.7 1206.2L293.1 1206.2L294.4 1205.1L295.8 1202.9L297.2 1202.2L298.5 1202.3L299.9 1200.7L301.3 1201.4L302.6 1200.1L304.0 1199.5L305.4 1200.5L306.7 1201.1L308.1 1200.6L309.5 1201.8L310.8 1201.5L312.2 1203.1L313.6 1203.1L314.9 1204.2L316.3 1205.7L317.7 1207.2L319.0 1208.1L320.4 1210.6L321.8 1211.6L323.1 1213.3L324.5 1214.6L325.9 1217.5L327.2 1218.3L328.6 1221.3L329.9 1224.2L331.3 1225.6L332.7 1227.7L334.0 1231.3L335.4 1234.7L336.8 1237.3L338.1 1240.6L339.5 1243.6L340.9 1245.8L342.2 1249.4L343.6 1253.0L345.0 1256.5L346.3 1260.2L347.7 1263.5L349.1 1267.0L350.4 1271.4L351.8 1275.2L353.2 1278.0L354.5 1282.6L355.9 1287.1L357.3 1290.2L358.6 1295.1L360.0 1300.1L361.4 1303.6L362.7 1308.4L364.1 1315.6L365.5 1308.3L366.8 1317.3L368.2 1333.1L369.6 1338.1L370.9 1344.1L372.3 1323.6L373.7 1350.7L375.0 1359.4L376.4 1327.0L377.8 1361.5L379.1 1343.8L380.5 1346.0L381.9 1372.3L383.2 1401.6L384.6 1384.9L386.0 1381.2L387.3 1379.5L388.7 1395.9L390.1 1386.6L391.4 1384.9L392.8 1423.9L394.2 1399.9L395.5 1415.5L396.9 1433.3L398.2 1436.8L399.6 1407.7L401.0 1416.3L402.3 1462.0L403.7 1447.9L405.1 1449.9L406.4 1453.0L407.8 1460.7L409.2 1478.5L410.5 1450.3L411.9 1471.6L413.3 1470.1L414.6 1474.6L416.0 1478.9L417.4 1459.4L418.7 1461.1L420.1 1478.3L421.5 1487.6L422.8 1483.8L424.2 1462.4L425.6 1470.3L426.9 1471.4L428.3 1480.7L429.7 1482.5L431.0 1476.4L432.4 1505.9L433.8 1462.3L435.1 1487.3L436.5 1490.5L437.9 1463.2L439.2 1473.0L440.6 1478.2L442.0 1488.7L443.3 1505.8L444.7 1484.0L446.1 1463.3L447.4 1488.9L448.8 1461.4L450.2 1491.1L451.5 1492.2L452.9 1473.5L454.3 1475.7L455.6 1465.3L457.0 1483.1L458.4 1491.1L459.7 1504.5L461.1 1497.0L462.4 1492.2L463.8 1495.0L465.2 1468.6L466.5 1475.1L467.9 1495.0L469.3 1432.0L470.6 1463.8L472.0 1476.3L473.4 1440.5L474.7 1430.7L476.1 1460.6L477.5 1470.7L478.8 1463.9L480.2 1428.1L481.6 1438.1L482.9 1445.3L484.3 1432.8L485.7 1408.5L487.0 1437.9L488.4 1427.2L489.8 1436.2L491.1 1382.3L492.5 1371.6L493.9 1377.1L495.2 1391.2L496.6 1379.2L498.0 1413.4L499.3 1382.8L500.7 1395.1L502.1 1394.0L503.4 1380.5L504.8 1367.7L506.2 1346.7L507.5 1335.4L508.9 1334.9L510.3 1348.5L511.6 1323.7L513.0 1325.2L514.4 1302.1L515.7 1323.4L517.1 1341.5L518.5 1321.4L519.8 1270.9L521.2 1279.4L522.6 1287.7L523.9 1270.1L525.3 1267.8L526.7 1264.4L528.0 1274.7L529.4 1265.3L530.7 1258.0L532.1 1265.8L533.5 1271.9L534.8 1252.0L536.2 1232.1L537.6 1229.3L538.9 1228.5L540.3 1225.9L541.7 1200.4L543.0 1216.1L544.4 1208.6L545.8 1192.4L547.1 1213.4L548.5 1214.2L549.9 1201.2L551.2 1187.0L552.6 1202.5L554.0 1204.3L555.3 1207.7L556.7 1226.6L558.1 1195.9L559.4 1207.6L560.8 1231.4L562.2 1213.3L563.5 1231.5L564.9 1224.7L566.3 1207.2L567.6 1216.3L569.0 1188.5L570.4 1219.0L571.7 1200.5L573.1 1191.3L574.5 1175.5L575.8 1179.4L577.2 1190.5L578.6 1195.6L579.9 1199.1L581.3 1182.3L582.7 1205.0L584.0 1193.5L585.4 1200.1L586.8 1197.2L588.1 1204.4L589.5 1171.2L590.9 1204.9L592.2 1200.6L593.6 1199.9L595.0 1195.7L596.3 1197.9L597.7 1199.8L599.1 1193.1L600.4 1229.6L601.8 1217.4L603.1 1234.2L604.5 1218.1L605.9 1236.7L607.2 1239.6L608.6 1228.8L610.0 1206.3L611.3 1214.8L612.7 1223.1L614.1 1211.0L615.4 1245.1L616.8 1272.8L618.2 1257.8L619.5 1254.5L620.9 1233.9L622.3 1221.7L623.6 1268.8L625.0 1229.7L626.4 1234.6L627.7 1250.3L629.1 1264.7L630.5 1247.5L631.8 1273.8L633.2 1293.9L634.6 1293.7L635.9 1319.9L637.3 1303.0L638.7 1311.5L640.0 1311.1L641.4 1314.7L642.8 1340.8L644.1 1316.2L645.5 1348.8L646.9 1332.9L648.2 1369.9L649.6 1354.1L651.0 1372.0L652.3 1367.7L653.7 1381.0L655.1 1408.9L656.4 1406.5L657.8 1391.6L659.2 1383.3L660.5 1416.0L661.9 1433.9L663.3 1427.6L664.6 1418.7L666.0 1425.9L667.3 1433.4L668.7 1413.6L670.1 1409.9L671.4 1415.0L672.8 1443.9L674.2 1438.5L675.5 1443.6L676.9 1465.5L678.3 1438.9L679.6 1446.1L681.0 1458.3L682.4 1435.0L683.7 1440.6L685.1 1442.3L686.5 1439.2L687.8 1447.0L689.2 1479.8L690.6 1476.2L691.9 1455.9L693.3 1478.2L694.7 1472.8L696.0 1467.0L697.4 1451.0L698.8 1449.8L700.1 1456.2L701.5 1474.5L702.9 1463.3L704.2 1466.8L705.6 1478.3L707.0 1459.0L708.3 1467.3L709.7 1488.1L711.1 1463.5L712.4 1480.0L713.8 1471.6L715.2 1500.9L716.5 1485.8L717.9 1495.6L719.3 1498.2L720.6 1512.5L722.0 1455.5L723.4 1474.9L724.7 1473.5L726.1 1459.7L727.5 1473.9L728.8 1467.3L730.2 1492.7L731.6 1475.1L732.9 1478.8L734.3 1465.1L735.6 1465.4L737.0 1487.5L738.4 1498.7L739.7 1487.7L741.1 1457.5L742.5 1453.0L743.8 1450.6L745.2 1484.2L746.6 1486.6L747.9 1472.2L749.3 1458.7L750.7 1457.2L752.0 1440.3L753.4 1441.5L754.8 1454.3L756.1 1450.3L757.5 1431.4L758.9 1424.8L760.2 1422.4L761.6 1384.8L763.0 1408.7L764.3 1405.9L765.7 1418.3L767.1 1408.4L768.4 1389.2L769.8 1380.1L771.2 1384.7" stroke="#00ff00"/>
<path d="M85.4 1247.6L86.8 1244.3L88.2 1242.2L89.5 1239.3L90.9 1234.5L92.3 1231.8L93.6 1229.5L95.0 1227.8L96.4 1225.3L97.7 1221.6L99.1 1220.9L100.5 1218.1L101.8 1215.2L103.2 1213.5L104.6 1211.4L105.9 1210.1L107.3 1207.5L108.7 1207.4L110.0 1206.6L111.4 1204.8L112.8 1203.0L114.1 1202.7L115.5 1201.5L116.9 1201.6L118.2 1201.6L119.6 1200.1L121.0 1199.5L122.3 1199.3L123.7 1200.4L125.0 1201.2L126.4 1201.7L127.8 1201.7L129.1 1201.8L130.5 1202.5L131.9 1204.4L133.2 1204.8L134.6 1205.9L136.0 1207.1L137.3 1208.6L138.7 1210.2L140.1 1211.5L141.4 1213.5L142.8 1215.4L144.2 1217.9L145.5 1219.7L146.9 1222.1L148.3 1225.6L149.6 1227.0L151.0 1229.8L152.4 1231.9L153.7 1235.2L155.1 1238.2L156.5 1241.1L157.8 1244.3L159.2 1247.8L160.6 1251.9L161.9 1253.7L163.3 1258.5L164.7 1261.8L166.0 1264.9L167.4 1268.6L168.8 1272.3L170.1 1276.1L171.5 1279.7L172.9 1284.1L174.2 1287.4L175.6 1292.7L177.0 1296.7L178.3 1301.1L179.7 1305.5L181.1 1309.4L182.4 1313.0L183.8 1318.2L185.2 1322.8L186.5 1326.5L187.9 1330.8L189.3 1334.4L190.6 1339.1L192.0 1344.0L193.3 1348.8L194.7 1352.9L196.1 1357.5L197.4 1362.4L198.8 1366.2L200.2 1370.5L201.5 1374.8L202.9 1379.1L204.3 1382.2L205.6 1386.6L207.0 1390.7L208.4 1395.5L209.7 1399.9L211.1 1403.5L212.5 1407.1L213.8 1411.1L215.2 1414.8L216.6 1417.9L217.9 1421.7L219.3 1425.9L220.7 1429.2L222.0 1432.6L223.4 1435.4L224.8 1439.2L226.1 1441.9L227.5 1444.3L228.9 1447.3L230.2 1450.6L231.6 1453.2L233.0 1455.4L234.3 1457.5L235.7 1459.5L237.1 1462.2L238.4 1464.9L239.8 1465.6L241.2 1467.7L242.5 1469.4L243.9 1471.0L245.3 1473.1L246.6 1474.2L248.0 1475.0L249.4 1475.6L250.7 1476.8L252.1 1478.9L253.5 1478.9L254.8 1478.8L256.2 1478.5L257.5 1478.9L258.9 1478.3L260.3 1478.3L261.6 1478.2L263.0 1478.1L264.4 1478.9L265.7 1477.4L267.1 1476.6L268.5 1476.3L269.8 1474.8L271.2 1473.6L272.6 1472.8L273.9 1471.3L275.3 1469.8L276.7 1467.9L278.0 1466.4L279.4 1464.0L280.8 1463.1L282.1 1460.4L283.5 1458.7L284.9 1455.8L286.2 1452.7L287.6 1450.1L289.0 1447.5L290.3 1444.6L291.7 1440.8L293.1 1438.9L294.4 1435.1L295.8 1432.9L297.2 1429.3L298.5 1425.5L299.9 1422.4L301.3 1418.4L302.6 1414.3L304.0 1411.5L305.4 1407.3L306.7 1403.5L308.1 1400.4L309.5 1395.7L310.8 1391.8L312.2 1386.6L313.6 1383.3L314.9 1378.0L316.3 1374.7L317.7 1369.4L319.0 1365.5L320.4 1361.4L321.8 1356.9L323.1 1352.4L324.5 1347.8L325.9 1343.2L327.2 1339.8L328.6 1336.1L329.9 1332.3L331.3 1327.3L332.7 1322.2L334.0 1317.8L335.4 1313.6L336.8 1309.6L338.1 1305.6L339.5 1301.2L340.9 1296.6L342.2 1293.5L343.6 1288.4L345.0 1285.2L346.3 1280.7L347.7 1276.9L349.1 1273.0L350.4 1269.5L351.8 1265.9L353.2 1261.8L354.5 1258.5L355.9 1253.3L357.3 1250.9L358.6 1247.9L360.0 1244.7L361.4 1241.9L362.7 1239.3L364.1 1235.7L365.5 1232.3L366.8 1230.4L368.2 1227.2L369.6 1225.1L370.9 1222.3L372.3 1219.6L373.7 1217.3L375.0 1215.3L376.4 1213.9L377.8 1211.4L379.1 1210.3L380.5 1208.4L381.9 1206.8L383.2 1205.9L384.6 1205.4L386.0 1203.6L387.3 1203.3L388.7 1202.6L390.1 1202.2L391.4 1200.7L392.8 1200.6L394.2 1201.5L395.5 1200.3L396.9 1199.3L398.2 1199.5L399.6 1201.0L401.0 1201.4L402.3 1201.8L403.7 1202.3L405.1 1203.6L406.4 1205.2L407.8 1205.6L409.2 1206.8L410.5 1209.2L411.9 1210.5L413.3 1211.8L414.6 1213.6L416.0 1215.3L417.4 1217.1L418.7 1219.4L420.1 1222.0L421.5 1225.2L422.8 1226.9L424.2 1228.9L425.6 1231.2L426.9 1234.9L428.3 1238.1L429.7 1240.5L431.0 1243.5L432.4 1247.2L433.8 1224.8L435.1 1249.4L436.5 1238.2L437.9 1259.0L439.2 1256.9L440.6 1258.9L442.0 1267.6L443.3 1296.4L444.7 1288.9L446.1 1272.9L447.4 1278.3L448.8 1288.1L450.2 1282.0L451.5 1280.4L452.9 1281.5L454.3 1310.2L455.6 1309.1L457.0 1318.1L458.4 1332.5L459.7 1349.4L461.1 1337.0L462.4 1349.6L463.8 1312.0L465.2 1340.2L466.5 1353.3L467.9 1363.2L469.3 1336.1L470.6 1375.2L472.0 1377.3L473.4 1390.8L474.7 1388.5L476.1 1390.4L477.5 1377.7L478.8 1415.4L480.2 1407.7L481.6 1384.8L482.9 1413.9L484.3 1419.5L485.7 1434.5L487.0 1456.8L488.4 1440.5L489.8 1417.6L491.1 1438.9L492.5 1467.1L493.9 1445.2L495.2 1444.8L496.6 1433.1L498.0 1433.6L499.3 1453.1L500.7 1449.9L502.1 1483.5L503.4 1450.2L504.8 1457.2L506.2 1447.0L507.5 1446.1L508.9 1467.2L510.3 1471.6L511.6 1484.5L513.0 1504.7L514.4 1484.1L515.7 1475.1L517.1 1492.0L518.5 1470.2L519.8 1474.5L521.2 1470.8L522.6 1488.5L523.9 1508.1L525.3 1475.6L526.7 1470.2L528.0 1479.8L529.4 1486.9L530.7 1486.6L532.1 1484.5L533.5 1489.4L534.8 1512.9L536.2 1477.0L537.6 1501.7L538.9 1490.3L540.3 1486.6L541.7 1476.9L543.0 1501.7L544.4 1465.5L545.8 1463.9L547.1 1461.1L548.5 1452.2L549.9 1479.8L551.2 1504.7L552.6 1478.0L554.0 1451.7L555.3 1446.2L556.7 1468.7L558.1 1466.3L559.4 1458.6L560.8 1486.2L562.2 1474.4L563.5 1469.3L564.9 1433.1L566.3 1455.2L567.6 1425.7L569.0 1439.2L570.4 1465.3L571.7 1411.6L573.1 1442.9L574.5 1424.4L575.8 1400.9L577.2 1425.3L578.6 1438.7L579.9 1405.2L581.3 1408.1L582.7 1424.6L584.0 1423.1L585.4 1408.9L586.8 1381.6L588.1 1389.6L589.5 1373.8L590.9 1351.1L592.2 1347.2L593.6 1339.7L595.0 1336.8L596.3 1374.1L597.7 1337.2L599.1 1337.1L600.4 1339.7L601.8 1350.4L603.1 1356.4L604.5 1346.7L605.9 1324.0L607.2 1331.4L608.6 1323.9L610.0 1315.2L611.3 1290.1L612.7 1294.3L614.1 1289.4L615.4 1262.8L616.8 1277.1L618.2 1263.6L619.5 1281.5L620.9 1262.2L622.3 1257.5L623.6 1252.5L625.0 1257.9L626.4 1265.0L627.7 1253.3L629.1 1250.4L630.5 1225.0L631.8 1218.2L633.2 1245.7L634.6 1223.4L635.9 1232.3L637.3 1218.8L638.7 1227.7L640.0 1243.0L641.4 1208.4L642.8 1206.7L644.1 1229.8L645.5 1244.2L646.9 1226.5L648.2 1230.7L649.6 1218.6L651.0 1200.0L652.3 1182.0L653.7 1203.8L655.1 1182.8L656.4 1180.1L657.8 1202.7L659.2 1226.1L660.5 1194.2L661.9 1189.5L663.3 1167.1L664.6 1168.8L666.0 1179.9L667.3 1169.2L668.7 1207.1L670.1 1198.2L671.4 1203.0L672.8 1174.5L674.2 1185.0L675.5 1232.8L676.9 1190.6L678.3 1212.0L679.6 1192.9L681.0 1207.3L682.4 1200.8L683.7 1194.1L685.1 1199.8L686.5 1219.1L687.8 1190.0L689.2 1198.6L690.6 1208.0L691.9 1200.8L693.3 1218.8L694.7 1188.7L696.0 1207.3L697.4 1211.4L698.8 1214.4L700.1 1235.7L701.5 1246.7L702.9 1230.8L704.2 1227.0L705.6 1213.4L707.0 1225.7L708.3 1254.1L709.7 1239.7L711.1 1234.3L712.4 1233.2L713.8 1245.7L715.2 1275.0L716.5 1250.1L717.9 1275.2L719.3 1265.5L720.6 1298.4L722.0 1275.4L723.4 1296.4L724.7 1277.6L726.1 1266.7L727.5 1276.7L728.8 1317.8L730.2 1328.8L731.6 1334.6L732.9 1317.4L734.3 1321.9L735.6 1330.0L737.0 1334.0L738.4 1335.1L739.7 1338.5L741.1 1328.1L742.5 1355.5L743.8 1362.5L745.2 1398.9L746.6 1404.0L747.9 1399.8L749.3 1409.8L750.7 1395.1L752.0 1382.9L753.4 1405.3L754.8 1415.0L756.1 1421.1L757.5 1416.3L758.9 1428.2L760.2 1419.7L761.6 1422.3L763.0 1425.0L764.3 1422.1L765.7 1434.7L767.1 1438.6L768.4 1417.9L769.8 1441.6L771.2 1437.1" stroke="#0000ff"/>
</g>
<path d="M223.4 1552.0v-7M223.4 1127.8v7M360.0 1552.0v-7M360.0 1127.8v7M496.6 1552.0v-7M496.6 1127.8v7M633.2 1552.0v-7M633.2 1127.8v7M86.8 1509.6h7M769.8 1509.6h-7M86.8 1424.7h7M769.8 1424.7h-7M86.8 1339.9h7M769.8 1339.9h-7M86.8 1255.1h7M769.8 1255.1h-7M86.8 1170.2h7M769.8 1170.2h-7" stroke="#262626" stroke-width="1.4" fill="none"/>
<rect x="86.8" y="1127.8" width="683.0" height="424.20000000000005" fill="none" stroke="#262626" stroke-width="1.4"/>
<g font-family="Liberation Sans, sans-serif" font-size="39" fill="#262626">
<g text-anchor="middle">
<text x="85.8" y="1605.8">28.75</text>
<text x="222.4" y="1605.8">28.76</text>
<text x="359.0" y="1605.8">28.77</text>
<text x="495.6" y="1605.8">28.78</text>
<text x="632.2" y="1605.8">28.79</text>
<text x="768.8" y="1605.8">28.8</text>
</g><g text-anchor="end">
<text x="71.8" y="1523.9">-20</text>
<text x="71.8" y="1439.0">-10</text>
<text x="71.8" y="1354.2">0</text>
<text x="71.8" y="1269.4">10</text>
<text x="71.8" y="1184.5">20</text>
</g></g>
<clipPath id="c2"><rect x="1081.5" y="1159.2" width="591.3" height="425.5999999999999"/></clipPath>
<rect x="1081.5" y="1159.2" width="591.3" height="425.5999999999999" fill="#fff"/>
<path d="M1229.7 1159.2V1584.8M1377.9 1159.2V1584.8M1526.1 1159.2V1584.8M1081.5 1542.2H1672.8M1081.5 1457.1H1672.8M1081.5 1372.0H1672.8M1081.5 1286.9H1672.8M1081.5 1201.8H1672.8" stroke="#e3e3e3" stroke-width="1.15" fill="none"/>
<g clip-path="url(#c2)" fill="none" stroke-linejoin="round" stroke-width="2.9">
<path d="M1080.0 1231.0L1081.5 1215.7L1083.0 1216.8L1084.5 1217.6L1085.9 1205.0L1087.4 1244.4L1088.9 1246.2L1090.4 1257.6L1091.9 1243.1L1093.4 1223.8L1094.8 1235.1L1096.3 1231.1L1097.8 1267.0L1099.3 1246.4L1100.8 1258.2L1102.2 1222.5L1103.7 1228.2L1105.2 1230.1L1106.7 1247.2L1108.2 1243.1L1109.7 1243.2L1111.1 1260.1L1112.6 1268.5L1114.1 1267.0L1115.6 1276.2L1117.1 1280.6L1118.5 1279.5L1120.0 1288.4L1121.5 1271.1L1123.0 1304.7L1124.5 1280.0L1126.0 1298.4L1127.4 1304.9L1128.9 1321.8L1130.4 1311.4L1131.9 1313.8L1133.4 1311.4L1134.9 1325.3L1136.3 1323.1L1137.8 1300.7L1139.3 1320.1L1140.8 1343.5L1142.3 1330.6L1143.7 1347.6L1145.2 1345.2L1146.7 1348.5L1148.2 1368.5L1149.7 1400.6L1151.2 1389.2L1152.6 1377.1L1154.1 1392.1L1155.6 1387.8L1157.1 1382.7L1158.6 1408.2L1160.0 1392.1L1161.5 1386.1L1163.0 1396.5L1164.5 1401.5L1166.0 1407.4L1167.5 1401.5L1168.9 1426.3L1170.4 1440.2L1171.9 1437.9L1173.4 1462.9L1174.9 1481.8L1176.3 1479.4L1177.8 1462.8L1179.3 1459.8L1180.8 1491.5L1182.3 1506.4L1183.8 1489.8L1185.2 1485.8L1186.7 1484.7L1188.2 1475.7L1189.7 1467.0L1191.2 1481.4L1192.6 1481.0L1194.1 1507.8L1195.6 1517.2L1197.1 1499.9L1198.6 1490.4L1200.1 1488.3L1201.5 1490.8L1203.0 1489.6L1204.5 1489.9L1206.0 1528.9L1207.5 1524.3L1209.0 1506.1L1210.4 1500.1L1211.9 1530.5L1213.4 1498.6L1214.9 1515.1L1216.4 1516.5L1217.8 1509.6L1219.3 1501.0L1220.8 1531.5L1222.3 1503.1L1223.8 1509.6L1225.3 1523.8L1226.7 1519.9L1228.2 1545.7L1229.7 1530.9L1231.2 1514.1L1232.7 1522.9L1234.1 1518.9L1235.6 1514.7L1237.1 1510.2L1238.6 1494.0L1240.1 1504.7L1241.6 1510.2L1243.0 1498.7L1244.5 1472.0L1246.0 1500.4L1247.5 1493.6L1249.0 1521.8L1250.4 1484.0L1251.9 1483.4L1253.4 1471.8L1254.9 1488.0L1256.4 1505.1L1257.9 1478.8L1259.3 1472.4L1260.8 1492.9L1262.3 1505.0L1263.8 1477.1L1265.3 1477.1L1266.7 1438.7L1268.2 1467.7L1269.7 1472.4L1271.2 1464.6L1272.7 1482.9L1274.2 1440.8L1275.6 1435.5L1277.1 1432.2L1278.6 1428.6L1280.1 1424.9L1281.6 1420.0L1283.1 1415.6L1284.5 1411.5L1286.0 1407.7L1287.5 1403.1L1289.0 1398.7L1290.5 1394.9L1291.9 1390.0L1293.4 1386.9L1294.9 1382.4L1296.4 1377.5L1297.9 1372.9L1299.4 1369.0L1300.8 1363.9L1302.3 1359.0L1303.8 1354.8L1305.3 1350.6L1306.8 1346.0L1308.2 1341.8L1309.7 1338.4L1311.2 1333.9L1312.7 1328.8L1314.2 1325.7L1315.7 1321.2L1317.1 1317.3L1318.6 1313.6L1320.1 1309.7L1321.6 1305.3L1323.1 1301.2L1324.5 1297.4L1326.0 1294.6L1327.5 1290.6L1329.0 1286.7L1330.5 1282.8L1332.0 1279.5L1333.4 1276.1L1334.9 1272.8L1336.4 1269.8L1337.9 1267.7L1339.4 1264.6L1340.8 1262.2L1342.3 1260.3L1343.8 1257.7L1345.3 1253.4L1346.8 1252.2L1348.3 1250.8L1349.7 1248.2L1351.2 1245.0L1352.7 1243.7L1354.2 1241.8L1355.7 1240.6L1357.2 1239.1L1358.6 1237.1L1360.1 1236.0L1361.6 1235.4L1363.1 1234.1L1364.6 1233.1L1366.0 1233.1L1367.5 1232.5L1369.0 1232.1L1370.5 1232.4L1372.0 1231.5L1373.5 1232.0L1374.9 1232.5L1376.4 1233.5L1377.9 1233.9L1379.4 1233.0L1380.9 1234.8L1382.3 1235.1L1383.8 1236.4L1385.3 1237.1L1386.8 1238.2L1388.3 1240.3L1389.8 1241.8L1391.2 1243.2L1392.7 1244.9L1394.2 1246.9L1395.7 1249.1L1397.2 1250.8L1398.6 1252.6L1400.1 1255.3L1401.6 1258.6L1403.1 1260.8L1404.6 1263.6L1406.1 1266.2L1407.5 1268.4L1409.0 1272.3L1410.5 1275.6L1412.0 1279.3L1413.5 1282.4L1414.9 1286.0L1416.4 1288.4L1417.9 1292.4L1419.4 1296.6L1420.9 1299.2L1422.4 1304.3L1423.8 1307.5L1425.3 1311.1L1426.8 1315.3L1428.3 1319.8L1429.8 1324.0L1431.3 1328.2L1432.7 1331.9L1434.2 1337.6L1435.7 1341.3L1437.2 1345.1L1438.7 1349.7L1440.1 1354.7L1441.6 1358.5L1443.1 1363.0L1444.6 1366.6L1446.1 1370.5L1447.6 1375.4L1449.0 1381.0L1450.5 1384.8L1452.0 1389.4L1453.5 1393.0L1455.0 1396.6L1456.4 1401.4L1457.9 1405.0L1459.4 1409.3L1460.9 1414.0L1462.4 1419.0L1463.9 1422.8L1465.3 1427.6L1466.8 1430.5L1468.3 1434.7L1469.8 1438.0L1471.3 1442.2L1472.7 1447.2L1474.2 1449.9L1475.7 1453.1L1477.2 1456.2L1478.7 1460.8L1480.2 1464.5L1481.6 1467.3L1483.1 1471.0L1484.6 1474.3L1486.1 1477.2L1487.6 1478.3L1489.0 1482.1L1490.5 1485.3L1492.0 1487.7L1493.5 1489.8L1495.0 1491.4L1496.5 1493.6L1497.9 1495.8L1499.4 1498.1L1500.9 1500.0L1502.4 1502.1L1503.9 1504.3L1505.4 1504.0L1506.8 1506.2L1508.3 1506.9L1509.8 1508.5L1511.3 1509.4L1512.8 1510.2L1514.2 1511.5L1515.7 1511.5L1517.2 1511.5L1518.7 1511.4L1520.2 1511.6L1521.7 1511.3L1523.1 1511.4L1524.6 1511.3L1526.1 1511.9L1527.6 1510.9L1529.1 1509.0L1530.5 1508.5L1532.0 1507.3L1533.5 1506.6L1535.0 1505.7L1536.5 1503.0L1538.0 1502.0L1539.4 1499.9L1540.9 1498.5L1542.4 1497.1L1543.9 1496.2L1545.4 1493.1L1546.8 1491.4L1548.3 1489.3L1549.8 1485.4L1551.3 1482.6L1552.8 1479.9L1554.3 1477.3L1555.7 1474.5L1557.2 1471.3L1558.7 1468.2L1560.2 1465.0L1561.7 1461.4L1563.1 1459.5L1564.6 1454.7L1566.1 1451.5L1567.6 1447.2L1569.1 1443.2L1570.6 1440.3L1572.0 1435.8L1573.5 1431.8L1575.0 1428.5L1576.5 1424.5L1578.0 1420.1L1579.5 1417.1L1580.9 1412.3L1582.4 1407.6L1583.9 1403.5L1585.4 1399.8L1586.9 1395.0L1588.3 1389.6L1589.8 1385.1L1591.3 1381.4L1592.8 1377.5L1594.3 1372.8L1595.8 1368.3L1597.2 1364.3L1598.7 1359.8L1600.2 1354.9L1601.7 1350.3L1603.2 1347.6L1604.6 1341.9L1606.1 1337.8L1607.6 1333.0L1609.1 1329.3L1610.6 1325.0L1612.1 1320.2L1613.5 1318.2L1615.0 1312.6L1616.5 1308.9L1618.0 1306.1L1619.5 1302.5L1620.9 1297.8L1622.4 1294.5L1623.9 1289.9L1625.4 1286.6L1626.9 1283.3L1628.4 1279.4L1629.8 1276.5L1631.3 1273.1L1632.8 1269.9L1634.3 1267.2L1635.8 1264.1L1637.2 1261.3L1638.7 1259.7L1640.2 1256.9L1641.7 1254.3L1643.2 1252.1L1644.7 1250.5L1646.1 1248.1L1647.6 1245.6L1649.1 1243.7L1650.6 1241.3L1652.1 1240.6L1653.6 1239.3L1655.0 1238.1L1656.5 1236.8L1658.0 1235.9L1659.5 1235.6L1661.0 1233.9L1662.4 1232.7L1663.9 1232.0L1665.4 1232.7L1666.9 1232.3L1668.4 1231.1L1669.9 1231.9L1671.3 1232.0L1672.8 1232.6L1674.3 1232.5" stroke="#ff0000"/>
<path d="M1080.0 1443.4L1081.5 1406.1L1083.0 1418.2L1084.5 1418.8L1085.9 1440.1L1087.4 1429.6L1088.9 1427.5L1090.4 1417.5L1091.9 1425.6L1093.4 1386.0L1094.8 1405.8L1096.3 1386.8L1097.8 1400.7L1099.3 1376.1L1100.8 1346.2L1102.2 1371.5L1103.7 1356.0L1105.2 1354.4L1106.7 1344.7L1108.2 1336.2L1109.7 1345.8L1111.1 1337.5L1112.6 1337.6L1114.1 1337.4L1115.6 1339.7L1117.1 1304.0L1118.5 1316.9L1120.0 1295.9L1121.5 1289.0L1123.0 1307.2L1124.5 1278.2L1126.0 1296.5L1127.4 1276.0L1128.9 1255.9L1130.4 1280.6L1131.9 1287.5L1133.4 1287.1L1134.9 1236.5L1136.3 1261.5L1137.8 1279.0L1139.3 1250.5L1140.8 1256.3L1142.3 1254.0L1143.7 1266.1L1145.2 1281.8L1146.7 1267.3L1148.2 1266.0L1149.7 1273.0L1151.2 1265.7L1152.6 1260.8L1154.1 1232.4L1155.6 1225.9L1157.1 1226.3L1158.6 1241.3L1160.0 1255.2L1161.5 1234.9L1163.0 1226.9L1164.5 1216.3L1166.0 1228.6L1167.5 1232.9L1168.9 1227.2L1170.4 1244.0L1171.9 1246.2L1173.4 1225.2L1174.9 1248.2L1176.3 1236.5L1177.8 1220.8L1179.3 1225.2L1180.8 1223.7L1182.3 1246.5L1183.8 1238.0L1185.2 1238.4L1186.7 1226.0L1188.2 1226.2L1189.7 1232.7L1191.2 1207.2L1192.6 1221.8L1194.1 1238.7L1195.6 1248.7L1197.1 1243.7L1198.6 1251.5L1200.1 1221.8L1201.5 1231.6L1203.0 1248.5L1204.5 1259.3L1206.0 1269.9L1207.5 1262.3L1209.0 1238.6L1210.4 1241.5L1211.9 1257.6L1213.4 1260.9L1214.9 1293.8L1216.4 1265.2L1217.8 1275.2L1219.3 1256.5L1220.8 1277.6L1222.3 1290.3L1223.8 1286.0L1225.3 1300.6L1226.7 1277.9L1228.2 1291.2L1229.7 1296.7L1231.2 1302.1L1232.7 1317.2L1234.1 1312.2L1235.6 1319.3L1237.1 1301.3L1238.6 1326.0L1240.1 1331.5L1241.6 1349.2L1243.0 1356.4L1244.5 1361.3L1246.0 1342.8L1247.5 1360.3L1249.0 1355.6L1250.4 1376.9L1251.9 1387.8L1253.4 1418.0L1254.9 1388.5L1256.4 1367.7L1257.9 1399.5L1259.3 1386.8L1260.8 1396.1L1262.3 1425.1L1263.8 1414.4L1265.3 1440.1L1266.7 1441.1L1268.2 1422.1L1269.7 1436.4L1271.2 1463.0L1272.7 1434.1L1274.2 1467.3L1275.6 1464.4L1277.1 1451.5L1278.6 1455.0L1280.1 1458.8L1281.6 1462.7L1283.1 1464.4L1284.5 1468.6L1286.0 1472.0L1287.5 1475.7L1289.0 1477.7L1290.5 1479.7L1291.9 1482.2L1293.4 1484.6L1294.9 1487.1L1296.4 1490.0L1297.9 1492.7L1299.4 1494.2L1300.8 1496.8L1302.3 1498.8L1303.8 1501.2L1305.3 1502.4L1306.8 1502.9L1308.2 1505.1L1309.7 1506.3L1311.2 1508.9L1312.7 1508.3L1314.2 1509.3L1315.7 1509.5L1317.1 1510.6L1318.6 1511.8L1320.1 1512.5L1321.6 1511.9L1323.1 1512.0L1324.5 1512.4L1326.0 1511.8L1327.5 1511.6L1329.0 1510.5L1330.5 1510.3L1332.0 1510.0L1333.4 1508.7L1334.9 1507.8L1336.4 1505.6L1337.9 1505.0L1339.4 1504.2L1340.8 1502.1L1342.3 1500.4L1343.8 1498.3L1345.3 1496.3L1346.8 1494.9L1348.3 1492.3L1349.7 1489.9L1351.2 1488.1L1352.7 1485.3L1354.2 1482.2L1355.7 1480.3L1357.2 1477.3L1358.6 1474.0L1360.1 1470.7L1361.6 1467.1L1363.1 1464.7L1364.6 1460.7L1366.0 1457.0L1367.5 1452.9L1369.0 1450.1L1370.5 1446.9L1372.0 1443.6L1373.5 1438.8L1374.9 1434.3L1376.4 1431.2L1377.9 1426.8L1379.4 1422.4L1380.9 1418.2L1382.3 1414.7L1383.8 1410.1L1385.3 1406.1L1386.8 1402.3L1388.3 1397.5L1389.8 1393.0L1391.2 1389.3L1392.7 1384.3L1394.2 1379.0L1395.7 1376.2L1397.2 1371.0L1398.6 1366.3L1400.1 1362.3L1401.6 1357.9L1403.1 1353.8L1404.6 1348.7L1406.1 1345.3L1407.5 1340.9L1409.0 1337.5L1410.5 1332.3L1412.0 1327.9L1413.5 1324.7L1414.9 1320.4L1416.4 1315.6L1417.9 1312.0L1419.4 1308.5L1420.9 1305.0L1422.4 1300.3L1423.8 1295.4L1425.3 1292.7L1426.8 1288.9L1428.3 1285.4L1429.8 1282.2L1431.3 1278.8L1432.7 1275.6L1434.2 1272.9L1435.7 1268.3L1437.2 1265.4L1438.7 1263.1L1440.1 1259.9L1441.6 1258.5L1443.1 1256.0L1444.6 1252.9L1446.1 1251.6L1447.6 1249.8L1449.0 1247.0L1450.5 1246.0L1452.0 1242.6L1453.5 1241.0L1455.0 1239.8L1456.4 1238.2L1457.9 1237.7L1459.4 1236.8L1460.9 1234.9L1462.4 1233.8L1463.9 1233.4L1465.3 1233.0L1466.8 1232.8L1468.3 1231.6L1469.8 1232.6L1471.3 1232.6L1472.7 1232.5L1474.2 1233.2L1475.7 1233.6L1477.2 1233.9L1478.7 1233.5L1480.2 1233.6L1481.6 1235.1L1483.1 1237.3L1484.6 1238.2L1486.1 1239.3L1487.6 1240.7L1489.0 1242.3L1490.5 1243.6L1492.0 1246.6L1493.5 1248.1L1495.0 1249.7L1496.5 1251.5L1497.9 1253.9L1499.4 1256.5L1500.9 1259.2L1502.4 1262.2L1503.9 1264.6L1505.4 1267.6L1506.8 1270.8L1508.3 1273.0L1509.8 1275.9L1511.3 1279.9L1512.8 1283.0L1514.2 1286.0L1515.7 1290.0L1517.2 1293.7L1518.7 1297.3L1520.2 1302.1L1521.7 1306.1L1523.1 1309.0L1524.6 1312.9L1526.1 1316.3L1527.6 1321.2L1529.1 1324.7L1530.5 1328.7L1532.0 1332.5L1533.5 1338.0L1535.0 1342.3L1536.5 1346.4L1538.0 1350.6L1539.4 1355.6L1540.9 1359.9L1542.4 1364.7L1543.9 1367.3L1545.4 1372.5L1546.8 1377.0L1548.3 1381.8L1549.8 1385.9L1551.3 1389.9L1552.8 1394.7L1554.3 1399.0L1555.7 1402.1L1557.2 1406.8L1558.7 1411.4L1560.2 1416.1L1561.7 1420.1L1563.1 1424.6L1564.6 1428.2L1566.1 1432.6L1567.6 1436.6L1569.1 1440.4L1570.6 1444.5L1572.0 1447.7L1573.5 1450.2L1575.0 1454.9L1576.5 1459.2L1578.0 1461.5L1579.5 1465.1L1580.9 1467.4L1582.4 1471.1L1583.9 1474.0L1585.4 1477.8L1586.9 1481.2L1588.3 1483.4L1589.8 1485.5L1591.3 1488.6L1592.8 1491.5L1594.3 1493.4L1595.8 1495.4L1597.2 1497.4L1598.7 1499.1L1600.2 1499.7L1601.7 1502.2L1603.2 1504.2L1604.6 1506.0L1606.1 1506.4L1607.6 1508.6L1609.1 1508.3L1610.6 1509.6L1612.1 1511.2L1613.5 1511.1L1615.0 1511.6L1616.5 1511.2L1618.0 1512.6L1619.5 1512.1L1620.9 1512.0L1622.4 1511.3L1623.9 1511.8L1625.4 1511.4L1626.9 1509.4L1628.4 1509.0L1629.8 1509.2L1631.3 1507.5L1632.8 1506.7L1634.3 1505.4L1635.8 1504.3L1637.2 1501.7L1638.7 1500.5L1640.2 1498.4L1641.7 1496.4L1643.2 1495.2L1644.7 1492.8L1646.1 1489.6L1647.6 1488.2L1649.1 1485.0L1650.6 1482.3L1652.1 1479.2L1653.6 1476.2L1655.0 1473.1L1656.5 1470.4L1658.0 1467.2L1659.5 1464.4L1661.0 1461.1L1662.4 1456.9L1663.9 1454.0L1665.4 1449.7L1666.9 1445.8L1668.4 1442.9L1669.9 1438.6L1671.3 1435.3L1672.8 1430.9L1674.3 1427.4" stroke="#00ff00"/>
<path d="M1080.0 1465.9L1081.5 1467.7L1083.0 1488.6L1084.5 1450.2L1085.9 1458.9L1087.4 1501.3L1088.9 1484.9L1090.4 1494.1L1091.9 1461.4L1093.4 1486.2L1094.8 1487.2L1096.3 1497.5L1097.8 1489.3L1099.3 1505.9L1100.8 1516.6L1102.2 1514.4L1103.7 1513.8L1105.2 1499.0L1106.7 1504.2L1108.2 1514.2L1109.7 1516.8L1111.1 1525.6L1112.6 1512.9L1114.1 1542.4L1115.6 1523.2L1117.1 1497.9L1118.5 1514.9L1120.0 1523.7L1121.5 1515.6L1123.0 1528.2L1124.5 1528.9L1126.0 1507.6L1127.4 1521.7L1128.9 1486.6L1130.4 1498.7L1131.9 1511.0L1133.4 1521.3L1134.9 1518.1L1136.3 1543.6L1137.8 1516.0L1139.3 1498.1L1140.8 1497.7L1142.3 1511.7L1143.7 1498.8L1145.2 1494.3L1146.7 1503.6L1148.2 1497.7L1149.7 1484.8L1151.2 1489.0L1152.6 1501.1L1154.1 1496.8L1155.6 1492.2L1157.1 1515.4L1158.6 1493.8L1160.0 1490.3L1161.5 1517.1L1163.0 1514.4L1164.5 1461.0L1166.0 1470.2L1167.5 1451.7L1168.9 1470.1L1170.4 1443.6L1171.9 1448.6L1173.4 1465.6L1174.9 1452.6L1176.3 1427.0L1177.8 1413.5L1179.3 1424.3L1180.8 1439.9L1182.3 1446.5L1183.8 1421.4L1185.2 1405.3L1186.7 1411.7L1188.2 1413.0L1189.7 1395.6L1191.2 1392.1L1192.6 1388.6L1194.1 1412.2L1195.6 1396.0L1197.1 1354.8L1198.6 1368.7L1200.1 1336.4L1201.5 1348.5L1203.0 1358.5L1204.5 1348.5L1206.0 1337.1L1207.5 1349.9L1209.0 1334.8L1210.4 1336.9L1211.9 1305.8L1213.4 1322.6L1214.9 1314.7L1216.4 1333.3L1217.8 1332.4L1219.3 1309.9L1220.8 1313.3L1222.3 1301.8L1223.8 1288.0L1225.3 1276.8L1226.7 1300.5L1228.2 1285.6L1229.7 1266.7L1231.2 1279.5L1232.7 1289.7L1234.1 1280.9L1235.6 1242.1L1237.1 1254.4L1238.6 1232.6L1240.1 1253.2L1241.6 1234.4L1243.0 1267.3L1244.5 1256.3L1246.0 1247.1L1247.5 1218.7L1249.0 1229.5L1250.4 1221.4L1251.9 1241.3L1253.4 1245.3L1254.9 1220.2L1256.4 1210.9L1257.9 1210.8L1259.3 1210.5L1260.8 1235.5L1262.3 1201.4L1263.8 1221.9L1265.3 1210.3L1266.7 1214.9L1268.2 1253.1L1269.7 1263.7L1271.2 1263.1L1272.7 1239.4L1274.2 1216.1L1275.6 1230.7L1277.1 1218.3L1278.6 1246.4L1280.1 1244.5L1281.6 1248.5L1283.1 1235.0L1284.5 1236.5L1286.0 1237.1L1287.5 1237.9L1289.0 1239.7L1290.5 1241.5L1291.9 1243.0L1293.4 1245.1L1294.9 1247.0L1296.4 1248.0L1297.9 1250.1L1299.4 1253.3L1300.8 1255.3L1302.3 1257.3L1303.8 1259.6L1305.3 1262.3L1306.8 1264.9L1308.2 1268.3L1309.7 1271.4L1311.2 1274.7L1312.7 1277.2L1314.2 1280.5L1315.7 1283.4L1317.1 1287.1L1318.6 1291.7L1320.1 1295.9L1321.6 1299.7L1323.1 1303.3L1324.5 1306.3L1326.0 1311.1L1327.5 1315.5L1329.0 1318.8L1330.5 1322.2L1332.0 1326.2L1333.4 1329.9L1334.9 1334.8L1336.4 1339.5L1337.9 1343.8L1339.4 1348.7L1340.8 1352.8L1342.3 1356.1L1343.8 1359.9L1345.3 1364.5L1346.8 1369.4L1348.3 1374.2L1349.7 1378.5L1351.2 1383.9L1352.7 1387.3L1354.2 1391.3L1355.7 1396.1L1357.2 1400.4L1358.6 1405.6L1360.1 1408.8L1361.6 1412.7L1363.1 1418.5L1364.6 1422.1L1366.0 1425.6L1367.5 1428.8L1369.0 1433.8L1370.5 1437.6L1372.0 1440.7L1373.5 1444.8L1374.9 1448.9L1376.4 1452.8L1377.9 1456.1L1379.4 1460.0L1380.9 1462.5L1382.3 1466.6L1383.8 1469.3L1385.3 1472.0L1386.8 1474.8L1388.3 1478.2L1389.8 1481.2L1391.2 1483.8L1392.7 1486.4L1394.2 1488.4L1395.7 1491.3L1397.2 1492.6L1398.6 1494.6L1400.1 1497.6L1401.6 1499.3L1403.1 1501.8L1404.6 1502.7L1406.1 1504.1L1407.5 1505.8L1409.0 1507.6L1410.5 1508.2L1412.0 1508.1L1413.5 1508.8L1414.9 1510.1L1416.4 1511.3L1417.9 1511.6L1419.4 1512.3L1420.9 1512.8L1422.4 1512.7L1423.8 1511.7L1425.3 1511.4L1426.8 1511.0L1428.3 1511.1L1429.8 1510.8L1431.3 1508.8L1432.7 1508.2L1434.2 1506.5L1435.7 1506.0L1437.2 1504.0L1438.7 1502.7L1440.1 1501.5L1441.6 1499.9L1443.1 1496.8L1444.6 1495.0L1446.1 1493.6L1447.6 1491.3L1449.0 1489.8L1450.5 1485.8L1452.0 1483.1L1453.5 1481.2L1455.0 1478.2L1456.4 1476.7L1457.9 1472.4L1459.4 1469.1L1460.9 1466.0L1462.4 1462.4L1463.9 1459.3L1465.3 1456.5L1466.8 1453.0L1468.3 1449.1L1469.8 1444.7L1471.3 1441.3L1472.7 1437.8L1474.2 1433.5L1475.7 1430.2L1477.2 1424.7L1478.7 1421.1L1480.2 1417.8L1481.6 1413.2L1483.1 1408.4L1484.6 1404.3L1486.1 1399.3L1487.6 1396.5L1489.0 1391.0L1490.5 1387.2L1492.0 1382.5L1493.5 1377.6L1495.0 1374.6L1496.5 1370.6L1497.9 1365.8L1499.4 1362.0L1500.9 1357.8L1502.4 1352.5L1503.9 1347.4L1505.4 1343.7L1506.8 1339.1L1508.3 1333.9L1509.8 1330.2L1511.3 1326.6L1512.8 1322.6L1514.2 1318.2L1515.7 1314.5L1517.2 1310.1L1518.7 1306.3L1520.2 1302.1L1521.7 1298.6L1523.1 1295.1L1524.6 1292.0L1526.1 1288.7L1527.6 1284.8L1529.1 1281.3L1530.5 1277.7L1532.0 1274.6L1533.5 1271.6L1535.0 1267.3L1536.5 1265.1L1538.0 1262.0L1539.4 1260.4L1540.9 1257.0L1542.4 1254.2L1543.9 1252.2L1545.4 1250.7L1546.8 1247.7L1548.3 1246.5L1549.8 1245.2L1551.3 1243.7L1552.8 1241.2L1554.3 1239.8L1555.7 1237.8L1557.2 1236.5L1558.7 1235.0L1560.2 1234.5L1561.7 1233.9L1563.1 1233.3L1564.6 1233.2L1566.1 1232.9L1567.6 1232.6L1569.1 1232.0L1570.6 1232.4L1572.0 1232.3L1573.5 1231.9L1575.0 1233.9L1576.5 1234.1L1578.0 1234.8L1579.5 1235.1L1580.9 1236.7L1582.4 1237.5L1583.9 1237.1L1585.4 1240.0L1586.9 1241.2L1588.3 1242.6L1589.8 1244.5L1591.3 1246.9L1592.8 1247.9L1594.3 1251.3L1595.8 1253.4L1597.2 1255.3L1598.7 1257.9L1600.2 1259.6L1601.7 1262.8L1603.2 1264.6L1604.6 1268.2L1606.1 1270.6L1607.6 1274.2L1609.1 1277.8L1610.6 1281.3L1612.1 1284.0L1613.5 1288.1L1615.0 1291.6L1616.5 1295.6L1618.0 1300.0L1619.5 1302.7L1620.9 1306.2L1622.4 1311.0L1623.9 1314.3L1625.4 1318.6L1626.9 1323.6L1628.4 1327.4L1629.8 1330.7L1631.3 1334.5L1632.8 1339.0L1634.3 1342.5L1635.8 1347.4L1637.2 1352.6L1638.7 1357.5L1640.2 1360.5L1641.7 1365.6L1643.2 1370.1L1644.7 1374.7L1646.1 1379.2L1647.6 1383.4L1649.1 1387.2L1650.6 1391.4L1652.1 1395.8L1653.6 1399.9L1655.0 1404.8L1656.5 1409.5L1658.0 1413.4L1659.5 1418.5L1661.0 1421.3L1662.4 1425.3L1663.9 1429.3L1665.4 1434.1L1666.9 1437.9L1668.4 1441.5L1669.9 1445.7L1671.3 1449.6L1672.8 1452.8L1674.3 1456.1" stroke="#0000ff"/>
</g>
<path d="M1229.7 1584.8v-7M1229.7 1159.2v7M1377.9 1584.8v-7M1377.9 1159.2v7M1526.1 1584.8v-7M1526.1 1159.2v7M1081.5 1542.2h7M1672.8 1542.2h-7M1081.5 1457.1h7M1672.8 1457.1h-7M1081.5 1372.0h7M1672.8 1372.0h-7M1081.5 1286.9h7M1672.8 1286.9h-7M1081.5 1201.8h7M1672.8 1201.8h-7" stroke="#262626" stroke-width="1.4" fill="none"/>
<rect x="1081.5" y="1159.2" width="591.3" height="425.5999999999999" fill="none" stroke="#262626" stroke-width="1.4"/>
<g font-family="Liberation Sans, sans-serif" font-size="39" fill="#262626">
<g text-anchor="middle">
<text x="1080.5" y="1638.6">33.78</text>
<text x="1228.7" y="1638.6">33.79</text>
<text x="1376.9" y="1638.6">33.8</text>
<text x="1525.1" y="1638.6">33.81</text>
<text x="1673.3" y="1638.6">33.82</text>
</g><g text-anchor="end">
<text x="1066.5" y="1556.5">-20</text>
<text x="1066.5" y="1471.4">-10</text>
<text x="1066.5" y="1386.3">0</text>
<text x="1066.5" y="1301.2">10</text>
<text x="1066.5" y="1216.1">20</text>
</g></g>
<g stroke="#000" stroke-width="1.4" fill="none">
<rect x="304.8" y="38.4" width="23.1" height="1094.8" stroke="#1c1c1c" stroke-width="1.3"/>
<path d="M93 1127.8L306.3 35M327.8 38L769.8 1127.8"/>
<rect x="1781.1" y="31.2" width="19.2" height="1638.8" stroke="#1c1c1c" stroke-width="1.3"/>
<path d="M1077.5 1156.1L1781 31M1672.8 1159.2L1803.7 35M1672.8 1584.8L1801.5 1673.5"/>
</g>
<rect x="944" y="52.3" width="171" height="195.5" fill="#fff" stroke="#262626" stroke-width="1.4"/>
<path d="M952 87H1030.3" stroke="#ff0000" stroke-width="1.4"/>
<text transform="translate(1036 99) scale(1.18 1)" font-family="Liberation Serif, serif" font-size="54" font-style="italic" fill="#000">u</text>
<text x="1067.5" y="117" font-family="Liberation Serif, serif" font-size="53" fill="#000">R</text>
<path d="M952 150H1030.3" stroke="#00ff00" stroke-width="1.4"/>
<text transform="translate(1036 162) scale(1.18 1)" font-family="Liberation Serif, serif" font-size="54" font-style="italic" fill="#000">u</text>
<text x="1067.5" y="180" font-family="Liberation Serif, serif" font-size="53" fill="#000">S</text>
<path d="M952 213H1030.3" stroke="#0000ff" stroke-width="1.4"/>
<text transform="translate(1036 225) scale(1.18 1)" font-family="Liberation Serif, serif" font-size="54" font-style="italic" fill="#000">u</text>
<text x="1067.5" y="243" font-family="Liberation Serif, serif" font-size="53" fill="#000">T</text>
<g font-family="Liberation Serif, serif" font-size="56" fill="#262626">
<text transform="translate(988.5 1787)" font-style="italic">t</text>
<text transform="translate(1019.2 1799.4) scale(1.36 1.33)">/</text>
<text x="1049.5" y="1787">s</text>
<g transform="translate(110.4 856) rotate(-90)">
<text transform="translate(-69.8 0) scale(1.19 1)" font-style="italic">u</text>
<text transform="translate(-27.5 10.5) scale(1.19 1.32)">/</text>
<text x="3.5" y="0">kV</text>
</g></g>
</svg>
</body></html>
